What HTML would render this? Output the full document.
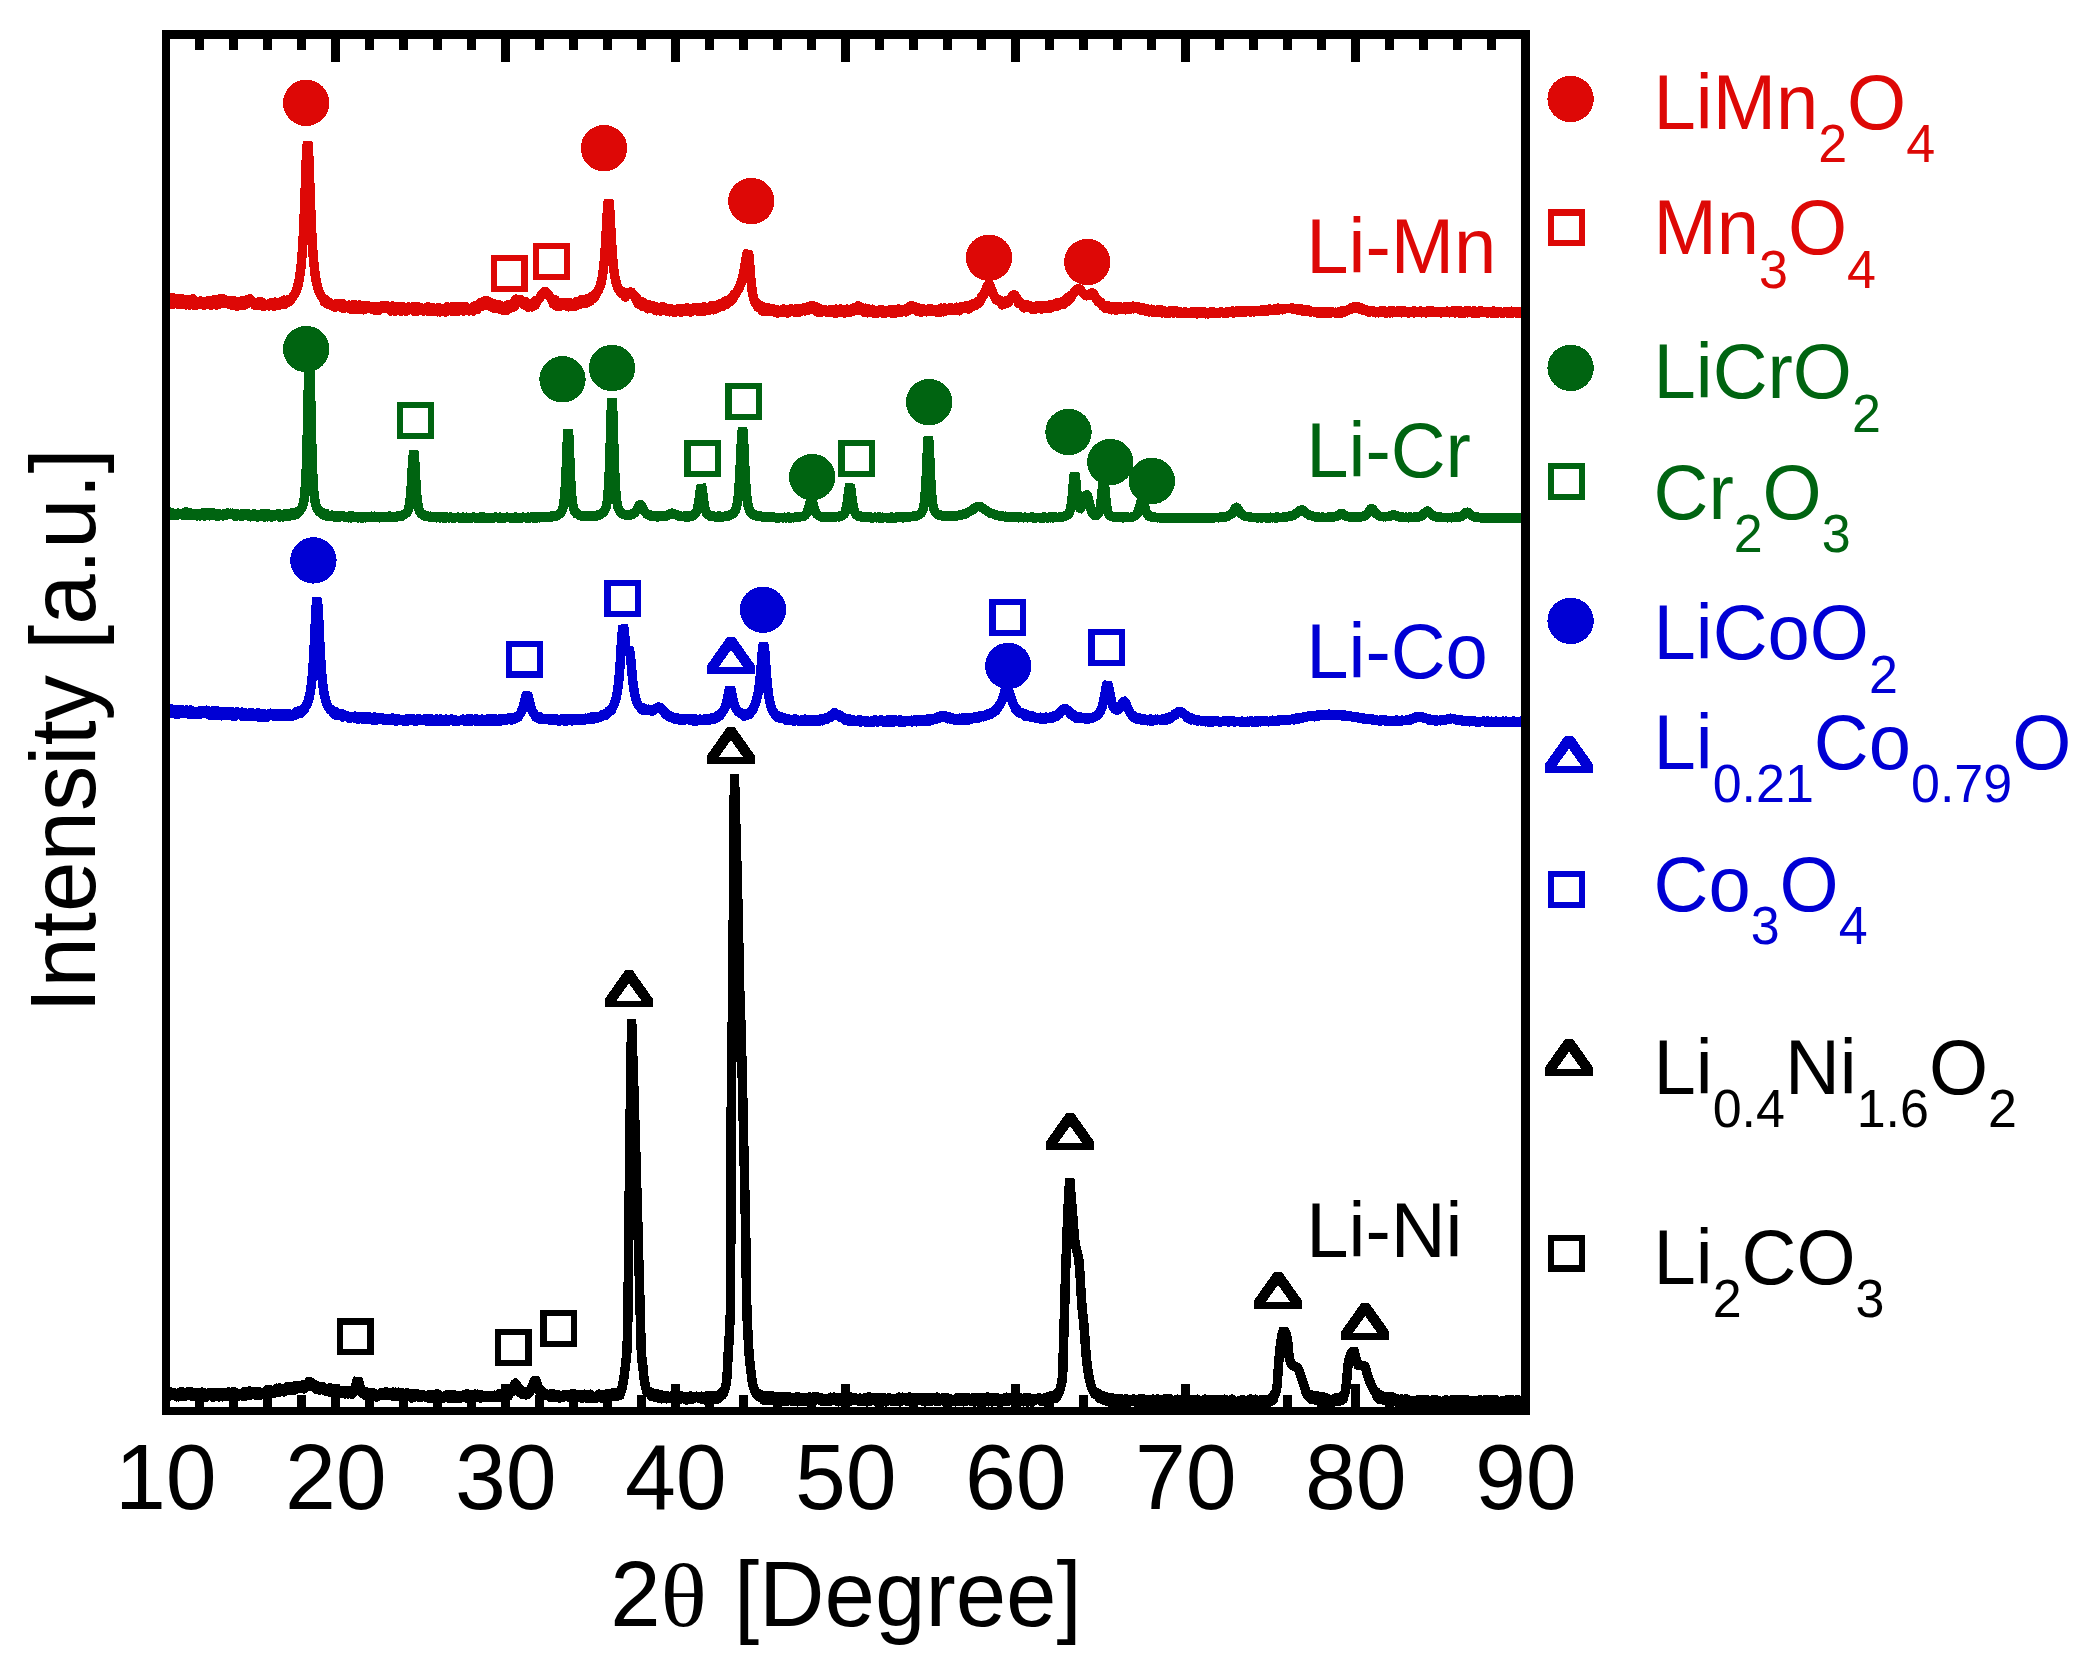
<!DOCTYPE html>
<html lang="en">
<head>
<meta charset="utf-8">
<title>XRD patterns: Li-Mn, Li-Cr, Li-Co, Li-Ni</title>
<style>
html,body{margin:0;padding:0;background:#fff;}
body{width:2097px;height:1675px;overflow:hidden;font-family:'Liberation Sans', Arial, Helvetica, sans-serif;}
svg text{white-space:pre;}
</style>
</head>
<body>
<svg width="2097" height="1675" viewBox="0 0 2097 1675" style="display:block">
<rect width="2097" height="1675" fill="#fff"/>
<g id="curves" shape-rendering="crispEdges">
<path d="M165.5 1394.0L168.3 1394.0L171.1 1394.1L173.9 1394.1L176.7 1394.2L179.5 1394.2L182.3 1394.2L185.1 1394.3L187.9 1394.3L190.7 1394.4L193.5 1394.4L196.3 1394.4L199.1 1394.5L201.9 1394.5L204.7 1394.5L207.5 1394.6L210.3 1394.6L213.1 1394.6L215.9 1394.6L218.7 1394.6L221.5 1394.6L224.3 1394.6L227.1 1394.5L229.9 1394.5L232.7 1394.4L235.5 1394.3L238.3 1394.2L241.1 1394.1L243.9 1394.0L246.7 1393.8L249.5 1393.6L252.3 1393.4L255.1 1393.1L257.9 1392.9L260.7 1392.6L263.5 1392.3L266.3 1391.9L269.1 1391.6L271.9 1391.2L274.7 1390.8L277.5 1390.4L280.3 1390.0L283.1 1389.7L285.9 1389.3L288.7 1388.9L291.5 1388.6L294.3 1388.3L297.1 1388.0L299.9 1387.6L302.7 1387.1L305.5 1386.1L308.3 1384.1L311.1 1384.1L313.9 1386.3L316.7 1387.5L319.5 1388.2L322.3 1388.8L325.1 1389.3L327.9 1389.8L330.7 1390.3L333.5 1390.8L336.3 1391.3L339.1 1391.8L341.9 1392.2L344.7 1392.5L347.5 1392.7L350.3 1392.5L353.1 1391.3L355.2 1387.9L355.9 1385.5L356.6 1382.5L357.3 1379.8L357.8 1379.1L358.7 1381.4L359.4 1384.6L360.1 1387.3L360.8 1389.4L361.5 1390.8L364.3 1393.4L367.1 1394.2L369.9 1394.5L372.7 1394.6L375.5 1394.6L378.3 1394.5L381.1 1394.3L383.9 1394.1L386.7 1393.9L389.5 1393.8L392.3 1393.8L395.1 1393.9L397.9 1394.1L400.7 1394.4L403.5 1394.7L406.3 1395.0L409.1 1395.3L411.9 1395.5L414.7 1395.7L417.5 1395.9L420.3 1396.0L423.1 1396.1L425.9 1396.1L428.7 1396.2L431.5 1396.2L434.3 1396.2L437.1 1396.3L439.9 1396.3L442.7 1396.3L445.5 1396.3L448.3 1396.3L451.1 1396.3L453.9 1396.3L456.7 1396.3L459.5 1396.3L462.3 1396.3L465.1 1396.3L467.9 1396.3L470.7 1396.3L473.5 1396.3L476.3 1396.2L479.1 1396.2L481.9 1396.2L484.7 1396.2L487.5 1396.1L490.3 1396.1L493.1 1396.0L495.9 1395.9L498.7 1395.7L501.5 1395.5L504.3 1395.1L507.1 1394.3L509.9 1392.5L512.7 1388.2L513.4 1386.6L514.1 1385.0L514.8 1383.9L515.4 1383.5L516.2 1384.1L516.9 1385.3L517.6 1386.9L518.3 1388.4L521.1 1392.2L523.9 1393.4L526.7 1393.3L529.5 1391.7L531.6 1388.6L532.3 1386.8L533.0 1384.7L533.7 1382.4L534.4 1380.5L535.2 1379.5L535.8 1380.1L536.5 1381.9L537.2 1384.2L537.9 1386.5L538.6 1388.4L540.7 1392.0L543.5 1394.1L546.3 1395.0L549.1 1395.4L551.9 1395.7L554.7 1395.9L557.5 1396.0L560.3 1396.1L563.1 1396.1L565.9 1396.2L568.7 1396.2L571.5 1396.2L574.3 1396.2L577.1 1396.3L579.9 1396.3L582.7 1396.3L585.5 1396.3L588.3 1396.3L591.1 1396.3L593.9 1396.3L596.7 1396.3L599.5 1396.3L602.3 1396.3L604.4 1396.3L605.8 1395.9L607.1 1395.6L608.5 1395.4L610.0 1395.1L611.4 1395.0L612.8 1394.8L614.1 1394.8L615.5 1394.7L617.0 1394.7L618.4 1394.5L619.8 1393.4L621.1 1390.3L621.5 1389.4L621.9 1388.4L622.2 1387.3L622.5 1385.9L622.9 1384.1L623.2 1382.1L623.6 1379.9L624.0 1377.6L624.3 1375.0L624.6 1372.1L625.0 1369.0L625.4 1366.1L625.7 1363.4L626.0 1360.4L626.4 1356.9L626.8 1352.3L627.1 1345.9L627.5 1335.0L627.8 1320.0L628.1 1296.7L628.5 1260.7L628.9 1226.8L629.2 1197.3L629.5 1168.6L629.9 1140.5L630.2 1113.4L630.6 1087.3L631.0 1062.3L631.3 1038.7L631.6 1019.5L632.0 1031.8L632.4 1042.7L632.7 1053.6L633.0 1064.7L633.4 1075.8L633.8 1087.0L634.1 1098.4L634.5 1109.8L634.8 1121.3L635.1 1132.9L635.5 1144.6L635.9 1156.4L636.2 1168.4L636.5 1180.4L636.9 1192.4L637.2 1204.6L637.6 1216.9L638.0 1229.2L638.3 1241.7L638.6 1254.2L639.0 1266.8L639.4 1279.6L639.7 1292.5L640.0 1305.6L640.4 1319.0L640.8 1334.8L641.1 1347.8L641.5 1353.8L641.8 1358.0L642.1 1361.2L642.5 1364.0L642.9 1366.7L643.2 1370.0L643.5 1373.6L643.9 1377.0L644.2 1379.6L644.6 1381.9L645.0 1384.0L645.3 1385.7L645.6 1387.0L646.0 1388.1L646.4 1389.0L646.7 1389.9L647.8 1392.1L649.1 1393.6L650.5 1394.3L652.0 1394.8L653.4 1395.1L654.8 1395.4L656.1 1395.7L657.5 1396.0L659.0 1396.3L660.4 1396.6L661.8 1396.8L663.1 1397.0L664.5 1397.2L666.0 1397.4L667.4 1397.5L669.5 1397.5L672.3 1397.6L675.1 1397.7L677.9 1397.7L680.7 1397.8L683.5 1397.9L686.3 1397.9L689.1 1398.0L691.9 1398.0L694.7 1398.1L697.5 1398.1L700.3 1398.2L702.4 1398.2L703.8 1398.0L705.1 1397.9L706.5 1397.8L708.0 1397.7L709.4 1397.5L710.8 1397.4L712.1 1397.3L713.5 1397.2L715.0 1397.2L716.4 1397.0L717.8 1396.7L719.1 1396.1L720.5 1395.2L722.0 1394.0L723.4 1392.4L723.7 1391.8L724.0 1391.1L724.4 1390.3L724.8 1389.3L725.1 1388.3L725.5 1387.1L725.8 1385.8L726.1 1384.0L726.5 1381.3L726.9 1377.9L727.2 1373.5L727.5 1366.6L727.9 1359.1L728.2 1352.8L728.6 1347.0L729.0 1341.2L729.3 1334.8L729.6 1327.5L730.0 1321.1L730.4 1312.0L730.7 1275.9L731.0 1138.0L731.4 1090.8L731.8 1059.1L732.1 1033.5L732.5 1004.9L732.8 970.2L733.1 935.3L733.5 898.2L733.9 856.6L734.4 774.0L734.9 792.8L735.2 805.8L735.6 818.7L736.0 831.5L736.3 844.1L736.6 856.3L737.0 868.4L737.4 881.2L737.7 895.2L738.0 911.0L738.4 927.9L738.8 945.2L739.1 962.3L739.5 978.4L739.8 992.8L740.1 1004.8L740.5 1014.5L740.9 1023.6L741.2 1034.0L741.5 1046.5L741.9 1060.3L742.2 1075.3L742.6 1091.0L743.0 1107.2L743.3 1123.5L743.6 1139.7L744.0 1155.4L744.4 1170.6L744.7 1185.9L745.0 1202.1L745.4 1219.7L745.8 1240.3L746.1 1267.6L746.5 1292.6L746.8 1307.2L747.1 1317.4L747.5 1325.4L747.9 1332.7L748.2 1339.3L748.5 1345.3L748.9 1350.7L749.2 1355.4L749.6 1359.5L750.0 1363.1L750.3 1366.3L750.6 1369.3L751.0 1372.1L751.4 1374.8L751.7 1377.4L752.0 1380.1L752.4 1382.7L752.8 1384.8L753.1 1386.1L753.5 1387.2L753.8 1388.2L754.1 1389.1L754.5 1390.0L754.9 1390.8L755.2 1391.5L755.5 1392.1L755.9 1392.7L757.3 1394.3L758.7 1395.4L760.1 1396.3L761.5 1397.0L762.9 1397.5L764.3 1397.9L765.7 1398.1L767.1 1398.2L768.5 1398.3L769.9 1398.4L771.3 1398.5L772.7 1398.5L774.1 1398.6L775.5 1398.6L776.9 1398.7L778.3 1398.8L779.7 1398.8L781.1 1398.9L782.5 1399.0L783.9 1399.0L785.3 1399.1L786.7 1399.2L788.1 1399.2L789.5 1399.3L792.0 1399.3L794.8 1399.3L797.6 1399.3L800.4 1399.3L803.2 1399.3L806.0 1399.3L808.8 1399.3L811.6 1399.3L814.4 1399.4L817.2 1399.4L820.0 1399.4L822.8 1399.4L825.6 1399.4L828.4 1399.4L831.2 1399.4L834.0 1399.4L836.8 1399.4L839.6 1399.4L842.4 1399.4L845.2 1399.4L848.0 1399.4L850.8 1399.4L853.6 1399.4L856.4 1399.4L859.2 1399.4L862.0 1399.4L864.8 1399.4L867.6 1399.4L870.4 1399.4L873.2 1399.4L876.0 1399.4L878.8 1399.4L881.6 1399.4L884.4 1399.4L887.2 1399.4L890.0 1399.5L892.8 1399.5L895.6 1399.5L898.4 1399.5L901.2 1399.5L904.0 1399.5L906.8 1399.5L909.6 1399.5L912.4 1399.5L915.2 1399.5L918.0 1399.5L920.8 1399.5L923.6 1399.5L926.4 1399.5L929.2 1399.5L932.0 1399.5L934.8 1399.5L937.6 1399.5L940.4 1399.5L943.2 1399.5L946.0 1399.5L948.8 1399.5L951.6 1399.5L954.4 1399.5L957.2 1399.5L960.0 1399.5L962.8 1399.5L965.6 1399.5L968.4 1399.5L971.2 1399.5L974.0 1399.5L976.8 1399.5L979.6 1399.5L982.4 1399.5L985.2 1399.5L988.0 1399.6L990.8 1399.6L993.6 1399.6L996.4 1399.6L999.2 1399.6L1002.0 1399.6L1004.8 1399.6L1007.6 1399.6L1010.4 1399.6L1013.2 1399.6L1016.0 1399.6L1018.8 1399.6L1021.6 1399.6L1024.4 1399.6L1027.2 1399.6L1030.0 1399.6L1032.8 1399.6L1035.6 1399.7L1038.4 1399.7L1041.2 1399.7L1042.7 1399.7L1044.1 1399.6L1045.5 1399.4L1046.9 1399.1L1048.3 1398.8L1049.7 1398.4L1051.1 1398.0L1052.5 1397.6L1053.9 1397.1L1055.3 1396.5L1056.7 1395.6L1058.1 1394.4L1058.8 1393.2L1059.2 1392.4L1059.5 1391.4L1059.8 1390.3L1060.2 1389.1L1060.5 1387.8L1060.9 1386.4L1061.2 1385.0L1061.6 1383.3L1062.0 1381.2L1062.3 1378.3L1062.7 1373.9L1063.0 1364.2L1063.3 1351.7L1063.7 1339.8L1064.0 1327.7L1064.4 1315.0L1064.8 1302.0L1065.1 1289.2L1065.5 1277.1L1065.8 1265.9L1066.2 1256.1L1066.5 1246.8L1066.8 1237.7L1067.2 1228.9L1067.5 1220.5L1067.9 1212.4L1068.2 1204.8L1068.6 1197.7L1069.0 1191.0L1069.3 1185.0L1069.7 1178.8L1070.0 1182.6L1070.3 1187.0L1070.7 1191.4L1071.0 1195.7L1071.4 1200.0L1071.8 1204.2L1072.1 1208.4L1072.5 1212.6L1072.8 1216.8L1073.2 1221.3L1073.5 1225.8L1073.8 1230.2L1074.2 1234.4L1074.5 1238.1L1074.9 1241.2L1075.2 1243.5L1075.6 1245.5L1076.0 1247.2L1076.3 1248.7L1076.7 1250.0L1077.0 1251.3L1077.3 1252.6L1077.7 1254.0L1078.0 1255.6L1078.4 1257.6L1078.8 1259.8L1079.1 1262.8L1079.5 1266.9L1079.8 1271.7L1080.2 1277.2L1080.5 1283.0L1080.8 1288.9L1081.2 1294.6L1081.5 1300.0L1081.9 1304.8L1082.2 1308.8L1082.6 1312.5L1083.0 1315.9L1083.3 1319.2L1083.7 1322.7L1084.0 1326.3L1084.3 1330.4L1084.7 1335.2L1085.0 1340.4L1085.4 1345.7L1085.8 1350.7L1086.1 1355.1L1086.5 1358.6L1086.8 1361.8L1087.2 1364.7L1087.5 1367.4L1087.8 1369.9L1088.2 1372.2L1088.5 1374.3L1088.9 1376.3L1089.2 1378.1L1089.6 1379.9L1090.0 1381.5L1090.3 1383.0L1090.7 1384.4L1091.0 1385.5L1091.3 1386.5L1091.7 1387.4L1092.0 1388.3L1092.4 1389.2L1092.8 1389.9L1093.1 1390.7L1093.5 1391.4L1093.8 1392.0L1094.2 1392.5L1094.5 1393.0L1095.9 1394.3L1097.3 1395.2L1098.7 1396.0L1100.1 1396.6L1101.5 1397.1L1102.9 1397.6L1104.3 1398.1L1105.7 1398.6L1107.1 1399.0L1108.5 1399.4L1109.9 1399.7L1111.3 1400.0L1112.7 1400.2L1115.4 1400.3L1118.2 1400.3L1121.0 1400.3L1123.8 1400.4L1126.6 1400.4L1129.4 1400.5L1132.2 1400.5L1135.0 1400.6L1137.8 1400.6L1140.6 1400.7L1143.4 1400.7L1146.2 1400.8L1149.0 1400.8L1151.8 1400.9L1154.6 1400.9L1157.4 1401.0L1160.2 1401.0L1163.0 1401.1L1165.8 1401.1L1168.6 1401.2L1171.4 1401.2L1174.2 1401.3L1177.0 1401.3L1179.8 1401.4L1182.6 1401.4L1185.4 1401.4L1188.2 1401.4L1191.0 1401.5L1193.8 1401.5L1196.6 1401.5L1199.4 1401.5L1202.2 1401.5L1205.0 1401.5L1207.8 1401.5L1210.6 1401.5L1213.4 1401.5L1216.2 1401.5L1219.0 1401.5L1221.8 1401.5L1224.6 1401.5L1227.4 1401.5L1230.2 1401.5L1233.0 1401.5L1235.8 1401.5L1238.6 1401.5L1241.4 1401.6L1244.2 1401.6L1247.0 1401.6L1249.8 1401.6L1252.6 1401.6L1255.4 1401.6L1258.2 1401.6L1260.3 1401.6L1261.8 1401.5L1263.2 1401.5L1264.5 1401.4L1266.0 1401.3L1267.3 1401.1L1268.8 1400.9L1270.2 1400.6L1271.5 1400.0L1273.0 1398.3L1274.3 1395.8L1274.7 1395.1L1275.0 1394.3L1275.4 1393.5L1275.8 1392.4L1276.1 1391.0L1276.5 1389.3L1276.8 1387.3L1277.2 1384.7L1277.5 1380.6L1277.8 1375.6L1278.2 1370.2L1278.5 1365.0L1278.9 1360.3L1279.2 1356.5L1279.6 1352.9L1280.0 1349.4L1280.3 1346.2L1280.7 1343.3L1281.0 1340.9L1281.3 1338.8L1281.7 1336.8L1282.0 1335.0L1282.4 1333.5L1282.8 1332.2L1283.0 1331.5L1283.5 1331.5L1283.8 1331.5L1284.2 1331.5L1284.5 1331.5L1284.8 1331.5L1285.1 1331.5L1285.5 1332.2L1285.9 1333.3L1286.2 1334.6L1286.6 1336.2L1287.0 1338.1L1287.3 1340.0L1287.7 1342.1L1288.0 1344.8L1288.3 1348.7L1288.7 1352.7L1289.0 1356.2L1289.4 1358.1L1289.8 1359.4L1290.1 1360.6L1290.5 1361.6L1290.8 1362.5L1291.2 1363.3L1291.5 1364.0L1291.8 1364.5L1292.2 1365.0L1292.5 1365.3L1292.9 1365.6L1293.2 1365.9L1293.6 1366.1L1294.0 1366.2L1294.3 1366.4L1294.7 1366.5L1295.0 1366.6L1295.3 1366.7L1295.7 1366.9L1296.0 1367.0L1296.4 1367.2L1296.8 1367.4L1297.1 1367.6L1297.5 1367.9L1297.8 1368.2L1298.2 1368.8L1298.5 1369.5L1298.8 1370.3L1299.2 1371.3L1299.5 1372.3L1299.9 1373.4L1300.2 1374.4L1300.6 1375.4L1301.0 1376.4L1301.3 1377.4L1301.7 1378.4L1302.0 1379.4L1302.3 1380.4L1302.7 1381.5L1303.0 1382.6L1303.4 1383.6L1303.8 1384.7L1304.1 1385.8L1304.5 1386.8L1304.8 1387.9L1305.2 1389.0L1305.5 1390.3L1305.8 1391.6L1306.2 1392.8L1306.5 1393.8L1306.9 1394.5L1307.2 1394.9L1308.0 1395.5L1309.3 1396.4L1310.8 1397.0L1312.2 1397.4L1313.5 1397.7L1315.0 1398.0L1316.3 1398.2L1317.8 1398.4L1319.2 1398.6L1320.5 1398.9L1322.0 1399.1L1323.3 1399.4L1324.8 1399.7L1326.2 1400.0L1327.5 1400.4L1329.0 1400.9L1330.3 1401.4L1332.2 1401.3L1333.6 1400.6L1335.0 1400.0L1336.4 1399.5L1337.8 1399.2L1339.2 1398.9L1340.6 1398.6L1342.0 1398.1L1343.4 1396.6L1344.1 1395.2L1344.5 1394.4L1344.8 1393.4L1345.2 1392.3L1345.5 1390.5L1345.8 1388.2L1346.2 1385.4L1346.5 1382.5L1346.9 1379.0L1347.2 1374.3L1347.6 1369.6L1348.0 1365.6L1348.3 1363.3L1348.7 1361.7L1349.0 1360.1L1349.3 1358.7L1349.7 1357.3L1350.0 1356.1L1350.4 1355.1L1350.8 1354.1L1351.1 1353.3L1351.5 1352.7L1351.8 1352.2L1352.2 1351.9L1352.6 1351.7L1352.8 1351.7L1353.2 1351.7L1353.5 1351.7L1353.9 1351.7L1354.2 1351.7L1354.6 1353.3L1355.0 1354.6L1355.3 1355.9L1355.7 1357.1L1356.0 1358.3L1356.3 1359.5L1356.7 1360.7L1357.0 1362.0L1357.4 1363.3L1357.8 1364.4L1358.1 1365.1L1358.5 1365.3L1358.8 1365.4L1359.2 1365.5L1359.5 1365.6L1359.8 1365.6L1360.2 1365.6L1360.5 1365.7L1360.9 1365.7L1361.2 1365.7L1361.6 1365.7L1362.0 1365.7L1362.3 1365.8L1362.7 1365.8L1363.0 1365.8L1363.3 1365.9L1363.7 1365.9L1364.0 1366.0L1364.4 1366.0L1364.8 1366.2L1365.1 1366.6L1365.5 1367.4L1365.8 1368.5L1366.2 1369.7L1366.5 1371.1L1366.8 1372.5L1367.2 1373.9L1367.5 1375.3L1367.9 1376.4L1368.2 1377.4L1368.6 1378.4L1369.0 1379.3L1369.3 1380.2L1369.7 1381.1L1370.0 1382.0L1370.3 1382.8L1370.7 1383.6L1371.0 1384.4L1371.4 1385.1L1371.8 1385.9L1372.1 1386.6L1372.5 1387.4L1372.8 1388.1L1373.2 1388.8L1373.5 1389.4L1373.8 1390.1L1374.2 1390.7L1374.5 1391.3L1374.9 1391.9L1375.2 1392.5L1375.6 1393.0L1376.0 1393.4L1377.0 1394.8L1378.4 1396.4L1379.8 1397.3L1381.2 1397.7L1382.6 1398.0L1384.0 1398.2L1385.4 1398.4L1386.8 1398.5L1388.2 1398.8L1389.6 1399.0L1391.0 1399.2L1392.4 1399.5L1393.8 1399.7L1395.2 1399.9L1396.6 1400.1L1398.0 1400.3L1399.4 1400.5L1400.8 1400.7L1402.2 1400.9L1403.6 1401.0L1405.0 1401.2L1406.4 1401.3L1407.8 1401.5L1409.2 1401.6L1410.8 1401.7L1413.6 1401.7L1416.4 1401.7L1419.2 1401.7L1422.0 1401.7L1424.8 1401.7L1427.6 1401.7L1430.4 1401.7L1433.2 1401.7L1436.0 1401.7L1438.8 1401.7L1441.6 1401.7L1444.4 1401.7L1447.2 1401.7L1450.0 1401.7L1452.8 1401.7L1455.6 1401.7L1458.4 1401.7L1461.2 1401.7L1464.0 1401.7L1466.8 1401.7L1469.6 1401.7L1472.4 1401.7L1475.2 1401.7L1478.0 1401.7L1480.8 1401.7L1483.6 1401.7L1486.4 1401.7L1489.2 1401.7L1492.0 1401.7L1494.8 1401.7L1497.6 1401.7L1500.4 1401.7L1503.2 1401.7L1506.0 1401.7L1508.8 1401.7L1511.6 1401.7L1514.4 1401.7L1517.2 1401.7L1520.0 1401.7L1522.8 1401.7L1524.9 1401.7" fill="none" stroke="#000000" stroke-width="5" stroke-linejoin="bevel" stroke-linecap="butt"/>
<path d="M165.5 1394.7L166.2 1396.1L166.9 1395.5L167.6 1392.5L168.3 1393.0L169.0 1396.1L169.7 1391.4L170.4 1395.8L171.1 1395.7L171.8 1393.9L172.5 1393.0L173.2 1392.9L173.9 1392.8L174.6 1393.8L175.3 1394.2L176.0 1394.4L176.7 1396.8L177.4 1395.7L178.1 1394.8L178.8 1396.8L179.5 1392.7L180.2 1392.4L180.9 1394.8L181.6 1391.8L182.3 1391.8L183.0 1394.3L183.7 1394.1L184.4 1396.5L185.1 1395.0L185.8 1394.4L186.5 1394.3L187.2 1393.0L187.9 1391.7L188.6 1392.7L189.3 1395.4L190.0 1392.8L190.7 1393.7L191.4 1391.7L192.1 1396.2L192.8 1392.6L193.5 1393.2L194.2 1396.4L194.9 1394.5L195.6 1396.3L196.3 1395.2L197.0 1395.7L197.7 1392.3L198.4 1394.7L199.1 1394.5L199.8 1396.5L200.5 1393.8L201.2 1395.0L201.9 1392.2L202.6 1393.9L203.3 1393.6L204.0 1392.7L204.7 1396.2L205.4 1393.9L206.1 1397.1L206.8 1395.0L207.5 1395.1L208.2 1395.3L208.9 1395.5L209.6 1392.7L210.3 1394.3L211.0 1393.2L211.7 1394.1L212.4 1392.4L213.1 1397.1L213.8 1393.1L214.5 1395.5L215.2 1393.5L215.9 1396.6L216.6 1395.5L217.3 1392.6L218.0 1396.4L218.7 1396.9L219.4 1396.7L220.1 1395.0L220.8 1392.7L221.5 1393.0L222.2 1396.8L222.9 1394.9L223.6 1392.9L224.3 1396.6L225.0 1395.3L225.7 1394.9L226.4 1393.9L227.1 1394.1L227.8 1393.1L228.5 1392.1L229.2 1396.5L229.9 1394.3L230.6 1394.7L231.3 1393.5L232.0 1395.8L232.7 1391.9L233.4 1393.7L234.1 1391.9L234.8 1392.4L235.5 1396.8L236.2 1395.1L236.9 1393.9L237.6 1394.4L238.3 1396.2L239.0 1393.4L239.7 1394.7L240.4 1395.1L241.1 1393.4L241.8 1394.2L242.5 1395.4L243.2 1396.1L243.9 1392.1L244.6 1396.2L245.3 1391.3L246.0 1395.2L246.7 1395.4L247.4 1391.9L248.1 1393.3L248.8 1395.3L249.5 1391.1L250.2 1394.2L250.9 1395.0L251.6 1393.5L252.3 1394.6L253.0 1391.9L253.7 1391.7L254.4 1392.5L255.1 1391.5L255.8 1392.3L256.5 1395.3L257.2 1393.3L257.9 1392.0L258.6 1391.6L259.3 1395.1L260.0 1392.4L260.7 1395.1L261.4 1392.6L262.1 1392.5L262.8 1394.4L263.5 1393.5L264.2 1392.6L264.9 1391.7L265.6 1394.0L266.3 1391.5L267.0 1394.0L267.7 1389.5L268.4 1391.3L269.1 1391.7L269.8 1393.8L270.5 1390.1L271.2 1392.9L271.9 1392.1L272.6 1392.2L273.3 1391.7L274.0 1393.3L274.7 1389.9L275.4 1390.2L276.1 1389.1L276.8 1388.2L277.5 1388.9L278.2 1392.5L278.9 1392.0L279.6 1388.1L280.3 1390.6L281.0 1389.8L281.7 1390.3L282.4 1390.6L283.1 1388.7L283.8 1391.9L284.5 1389.3L285.2 1390.0L285.9 1390.0L286.6 1387.6L287.3 1386.9L288.0 1388.6L288.7 1390.3L289.4 1390.5L290.1 1390.0L290.8 1386.7L291.5 1390.7L292.2 1390.1L292.9 1390.4L293.6 1388.5L294.3 1390.4L295.0 1385.9L295.7 1385.7L296.4 1385.6L297.1 1386.7L297.8 1386.6L298.5 1386.2L299.2 1388.1L299.9 1385.3L300.6 1388.0L301.3 1385.7L302.0 1388.2L302.7 1384.7L303.4 1386.0L304.1 1389.0L304.8 1386.6L305.5 1387.7L306.2 1386.5L306.9 1385.8L307.6 1383.1L308.3 1384.4L309.0 1381.3L309.7 1385.0L310.4 1386.0L311.1 1385.9L311.8 1382.4L312.5 1384.5L313.2 1384.9L313.9 1384.3L314.6 1387.3L315.3 1388.5L316.0 1386.3L316.7 1389.3L317.4 1389.2L318.1 1386.0L318.8 1389.4L319.5 1390.1L320.2 1386.8L320.9 1388.9L321.6 1389.3L322.3 1389.3L323.0 1386.8L323.7 1389.8L324.4 1389.8L325.1 1390.9L325.8 1391.0L326.5 1388.7L327.2 1390.8L327.9 1391.7L328.6 1391.9L329.3 1388.4L330.0 1387.8L330.7 1391.1L331.4 1389.0L332.1 1390.9L332.8 1393.0L333.5 1390.2L334.2 1389.7L334.9 1390.9L335.6 1392.0L336.3 1389.3L337.0 1390.9L337.7 1389.7L338.4 1392.5L339.1 1393.5L339.8 1391.3L340.5 1391.4L341.2 1392.3L341.9 1390.8L342.6 1391.0L343.3 1391.5L344.0 1392.3L344.7 1390.4L345.4 1393.9L346.1 1393.0L346.8 1391.7L347.5 1390.6L348.2 1394.0L348.9 1390.8L349.6 1390.8L350.3 1390.7L351.0 1390.3L351.7 1394.2L352.4 1390.7L353.1 1390.4L353.8 1392.2L354.5 1390.1L355.2 1386.3M360.8 1389.0L361.5 1392.7L362.2 1391.2L362.9 1393.5L363.6 1391.0L364.3 1394.5L365.0 1395.0L365.7 1395.5L366.4 1394.9L367.1 1393.6L367.8 1392.2L368.5 1394.5L369.2 1395.8L369.9 1393.0L370.6 1393.4L371.3 1394.8L372.0 1395.9L372.7 1396.6L373.4 1392.8L374.1 1393.1L374.8 1396.1L375.5 1395.3L376.2 1395.7L376.9 1397.0L377.6 1396.7L378.3 1396.2L379.0 1395.8L379.7 1393.9L380.4 1395.0L381.1 1392.7L381.8 1395.5L382.5 1395.5L383.2 1395.2L383.9 1393.8L384.6 1393.4L385.3 1393.6L386.0 1391.7L386.7 1395.6L387.4 1394.1L388.1 1393.3L388.8 1394.1L389.5 1394.9L390.2 1393.2L390.9 1395.4L391.6 1395.9L392.3 1393.3L393.0 1392.1L393.7 1395.1L394.4 1396.3L395.1 1392.2L395.8 1395.0L396.5 1395.6L397.2 1396.1L397.9 1392.3L398.6 1392.2L399.3 1396.6L400.0 1392.4L400.7 1392.8L401.4 1394.8L402.1 1394.3L402.8 1395.9L403.5 1393.2L404.2 1396.8L404.9 1393.5L405.6 1396.3L406.3 1392.9L407.0 1395.0L407.7 1392.9L408.4 1394.3L409.1 1394.4L409.8 1396.4L410.5 1395.2L411.2 1393.3L411.9 1398.0L412.6 1397.5L413.3 1397.7L414.0 1394.5L414.7 1395.2L415.4 1394.5L416.1 1394.0L416.8 1393.6L417.5 1395.9L418.2 1394.1L418.9 1394.4L419.6 1397.7L420.3 1395.9L421.0 1394.5L421.7 1396.9L422.4 1394.9L423.1 1396.2L423.8 1395.0L424.5 1396.2L425.2 1396.8L425.9 1396.3L426.6 1395.6L427.3 1397.6L428.0 1398.0L428.7 1394.6L429.4 1394.4L430.1 1394.3L430.8 1398.5L431.5 1398.4L432.2 1394.9L432.9 1398.5L433.6 1394.8L434.3 1396.3L435.0 1396.2L435.7 1398.3L436.4 1394.0L437.1 1395.4L437.8 1396.8L438.5 1394.2L439.2 1395.0L439.9 1396.1L440.6 1398.1L441.3 1397.5L442.0 1397.9L442.7 1397.6L443.4 1397.3L444.1 1398.0L444.8 1397.2L445.5 1397.4L446.2 1395.4L446.9 1394.7L447.6 1397.5L448.3 1394.7L449.0 1398.3L449.7 1396.8L450.4 1395.5L451.1 1398.4L451.8 1394.7L452.5 1396.4L453.2 1394.4L453.9 1398.6L454.6 1396.7L455.3 1397.8L456.0 1395.3L456.7 1397.8L457.4 1397.3L458.1 1397.0L458.8 1398.5L459.5 1396.0L460.2 1395.9L460.9 1397.2L461.6 1397.9L462.3 1395.5L463.0 1397.1L463.7 1394.9L464.4 1396.5L465.1 1397.6L465.8 1394.2L466.5 1397.4L467.2 1394.0L467.9 1398.5L468.6 1396.1L469.3 1395.8L470.0 1397.3L470.7 1396.4L471.4 1397.4L472.1 1394.3L472.8 1396.6L473.5 1396.5L474.2 1398.3L474.9 1394.1L475.6 1396.0L476.3 1396.9L477.0 1396.5L477.7 1394.2L478.4 1396.7L479.1 1394.9L479.8 1394.8L480.5 1398.0L481.2 1394.8L481.9 1396.0L482.6 1397.4L483.3 1397.2L484.0 1396.4L484.7 1397.6L485.4 1396.0L486.1 1396.7L486.8 1397.6L487.5 1397.0L488.2 1396.8L488.9 1395.7L489.6 1396.4L490.3 1395.6L491.0 1397.2L491.7 1395.5L492.4 1395.9L493.1 1397.2L493.8 1396.0L494.5 1395.2L495.2 1397.5L495.9 1395.3L496.6 1397.5L497.3 1397.2L498.0 1395.5L498.7 1396.7L499.4 1393.5L500.1 1395.1L500.8 1397.3L501.5 1395.9L502.2 1395.7L502.9 1396.1L503.6 1396.1L504.3 1395.5L505.0 1394.6L505.7 1393.3L506.4 1393.6L507.1 1393.3L507.8 1393.7L508.5 1396.0L509.2 1392.4L509.9 1392.3L510.6 1391.2L511.3 1391.2L512.0 1391.8L512.7 1390.1M518.3 1387.8L519.0 1388.6L519.7 1392.5L520.4 1391.5L521.1 1393.0L521.8 1390.6L522.5 1394.7L523.2 1392.3L523.9 1393.3L524.6 1392.0L525.3 1393.1L526.0 1394.9L526.7 1394.8L527.4 1392.9L528.1 1394.0L528.8 1392.1L529.5 1391.1L530.2 1391.2L530.9 1388.5L531.6 1387.7M538.6 1389.3L539.3 1391.1L540.0 1389.0L540.7 1393.1L541.4 1394.2L542.1 1393.0L542.8 1391.7L543.5 1394.9L544.2 1393.2L544.9 1395.3L545.6 1394.2L546.3 1395.6L547.0 1394.0L547.7 1395.1L548.4 1395.5L549.1 1396.0L549.8 1394.1L550.5 1397.7L551.2 1394.7L551.9 1394.8L552.6 1394.6L553.3 1393.8L554.0 1395.5L554.7 1397.1L555.4 1396.9L556.1 1394.5L556.8 1394.3L557.5 1395.2L558.2 1397.2L558.9 1396.0L559.6 1398.0L560.3 1396.8L561.0 1396.6L561.7 1397.3L562.4 1397.3L563.1 1395.4L563.8 1395.0L564.5 1395.9L565.2 1396.1L565.9 1394.5L566.6 1395.9L567.3 1396.8L568.0 1394.5L568.7 1394.5L569.4 1394.7L570.1 1395.2L570.8 1398.3L571.5 1394.0L572.2 1394.8L572.9 1394.7L573.6 1396.1L574.3 1394.0L575.0 1396.1L575.7 1394.7L576.4 1395.2L577.1 1397.6L577.8 1394.8L578.5 1396.8L579.2 1395.8L579.9 1395.9L580.6 1397.7L581.3 1394.7L582.0 1398.2L582.7 1398.1L583.4 1397.1L584.1 1394.2L584.8 1397.0L585.5 1396.8L586.2 1397.5L586.9 1395.0L587.6 1398.4L588.3 1398.1L589.0 1394.5L589.7 1395.5L590.4 1394.2L591.1 1397.8L591.8 1398.2L592.5 1398.6L593.2 1396.8L593.9 1397.1L594.6 1397.1L595.3 1396.6L596.0 1398.4L596.7 1396.8L597.4 1395.6L598.1 1396.4L598.8 1394.1L599.5 1397.4L600.2 1397.2L600.9 1396.0L601.6 1397.9L602.3 1397.5L603.0 1395.6L603.7 1394.4L604.0 1394.7L604.4 1394.8L604.7 1395.3L605.0 1395.9L605.4 1398.0L605.8 1394.9L606.1 1397.7L606.5 1396.6L606.8 1397.3L607.1 1395.2L607.5 1393.3L607.9 1396.8L608.2 1394.3L608.5 1393.7L608.9 1396.7L609.2 1396.1L609.6 1393.9L610.0 1394.1L610.3 1397.1L610.6 1394.0L611.0 1395.9L611.4 1393.3L611.7 1396.4L612.0 1393.2L612.4 1394.9L612.8 1392.7L613.1 1395.1L613.5 1396.4L613.8 1392.9L614.1 1393.8L614.5 1396.0L614.9 1395.2L615.2 1393.9L615.5 1395.3L615.9 1394.5L616.2 1396.3L616.6 1393.7L617.0 1395.8L617.3 1395.2L617.6 1395.7L618.0 1394.0L618.4 1395.5L618.7 1395.3L619.0 1393.7L619.4 1391.7L619.8 1395.5L620.1 1393.7L620.5 1390.7L620.8 1392.3L621.1 1389.3M646.7 1389.8L647.0 1392.3L647.4 1391.2L647.8 1391.1L648.1 1391.7L648.5 1391.1L648.8 1392.1L649.1 1392.6L649.5 1392.3L649.9 1392.0L650.2 1394.0L650.5 1393.0L650.9 1395.5L651.2 1396.4L651.6 1393.6L652.0 1395.1L652.3 1394.9L652.6 1393.1L653.0 1393.4L653.4 1396.9L653.7 1395.1L654.0 1396.7L654.4 1393.4L654.8 1395.9L655.1 1397.2L655.5 1397.2L655.8 1393.5L656.1 1395.8L656.5 1395.2L656.9 1397.0L657.2 1394.0L657.5 1395.0L657.9 1397.5L658.2 1396.0L658.6 1396.0L659.0 1398.4L659.3 1395.6L659.6 1394.4L660.0 1396.0L660.4 1395.0L660.7 1394.8L661.0 1397.0L661.4 1398.8L661.8 1397.2L662.1 1397.5L662.5 1396.1L662.8 1397.3L663.1 1398.1L663.5 1397.5L663.9 1398.5L664.2 1397.4L664.5 1395.9L664.9 1397.6L665.2 1397.2L665.6 1395.8L666.0 1397.9L666.3 1398.8L666.6 1395.8L667.0 1397.6L667.4 1398.5L667.7 1397.0L668.1 1396.5L668.8 1396.9L669.5 1397.7L670.2 1398.4L670.9 1397.8L671.6 1395.8L672.3 1399.0L673.0 1399.5L673.7 1395.9L674.4 1396.5L675.1 1396.2L675.8 1399.2L676.5 1399.5L677.2 1395.7L677.9 1397.0L678.6 1396.4L679.3 1397.6L680.0 1399.6L680.7 1395.9L681.4 1396.4L682.1 1397.8L682.8 1397.9L683.5 1398.9L684.2 1397.6L684.9 1396.3L685.6 1397.3L686.3 1400.0L687.0 1399.0L687.7 1396.3L688.4 1399.3L689.1 1397.1L689.8 1399.2L690.5 1395.9L691.2 1399.7L691.9 1396.5L692.6 1397.9L693.3 1398.8L694.0 1398.1L694.7 1396.6L695.4 1396.5L696.1 1397.2L696.8 1396.2L697.5 1396.9L698.2 1396.5L698.9 1398.0L699.6 1397.5L700.3 1398.6L701.0 1397.2L701.7 1396.2L702.0 1397.5L702.4 1399.3L702.7 1397.1L703.0 1397.7L703.4 1399.2L703.8 1397.6L704.1 1399.7L704.5 1399.8L704.8 1397.1L705.1 1399.0L705.5 1396.8L705.9 1396.2L706.2 1397.5L706.5 1398.2L706.9 1399.7L707.2 1396.1L707.6 1398.6L708.0 1397.5L708.3 1396.0L708.6 1399.7L709.0 1398.4L709.4 1395.9L709.7 1399.3L710.0 1395.7L710.4 1395.6L710.8 1396.7L711.1 1399.4L711.5 1395.3L711.8 1399.2L712.1 1397.8L712.5 1395.4L712.9 1397.6L713.2 1397.1L713.5 1397.5L713.9 1398.3L714.2 1398.0L714.6 1399.4L715.0 1395.6L715.3 1398.5L715.6 1396.7L716.0 1398.3L716.4 1398.8L716.7 1399.2L717.0 1395.8L717.4 1396.6L717.8 1398.7L718.1 1398.6L718.5 1395.9L718.8 1398.3L719.1 1395.7L719.5 1395.3L719.9 1396.8L720.2 1395.3L720.5 1395.0L720.9 1394.4L721.2 1394.3L721.6 1392.7L722.0 1392.0L722.3 1394.9L722.6 1393.6L723.0 1393.7L723.4 1393.8L723.7 1390.6M755.5 1390.8L755.9 1391.6L756.2 1392.2L756.6 1394.9L757.0 1393.4L757.3 1393.5L757.6 1395.3L758.0 1393.4L758.4 1393.2L758.7 1396.3L759.0 1396.9L759.4 1394.9L759.8 1396.7L760.1 1394.0L760.5 1396.0L760.8 1397.0L761.1 1395.6L761.5 1396.3L761.9 1397.7L762.2 1397.7L762.5 1395.7L762.9 1398.6L763.2 1395.6L763.6 1400.0L764.0 1396.4L764.3 1396.7L764.6 1396.5L765.0 1400.4L765.4 1397.0L765.7 1398.6L766.0 1400.5L766.4 1400.3L766.8 1395.9L767.1 1398.3L767.5 1398.7L767.8 1399.3L768.1 1397.5L768.5 1397.5L768.9 1395.9L769.2 1396.1L769.5 1398.6L769.9 1396.3L770.2 1396.9L770.6 1397.6L771.0 1396.3L771.3 1396.2L771.6 1400.6L772.0 1398.2L772.4 1397.1L772.7 1399.6L773.0 1396.1L773.4 1397.3L773.8 1400.9L774.1 1400.6L774.5 1399.3L774.8 1396.6L775.1 1397.7L775.5 1396.3L775.9 1397.3L776.2 1396.3L776.5 1396.8L776.9 1399.4L777.2 1396.7L777.6 1397.0L778.0 1400.8L778.3 1398.0L778.6 1398.0L779.0 1396.7L779.4 1400.3L779.7 1399.7L780.0 1399.1L780.4 1399.5L780.8 1396.9L781.1 1397.7L781.5 1399.3L781.8 1401.2L782.1 1400.5L782.5 1399.7L782.9 1399.1L783.2 1396.6L783.5 1401.0L783.9 1396.9L784.2 1397.2L784.6 1400.0L785.0 1400.6L785.3 1400.5L785.6 1398.9L786.0 1397.5L786.4 1396.8L786.7 1400.9L787.0 1401.6L787.4 1397.9L787.8 1401.0L788.1 1398.7L788.5 1398.3L788.8 1399.3L789.1 1396.8L789.5 1399.0L789.9 1397.8L790.6 1400.4L791.3 1399.3L792.0 1401.1L792.7 1401.3L793.4 1398.4L794.1 1398.2L794.8 1401.5L795.5 1399.3L796.2 1397.3L796.9 1397.0L797.6 1401.8L798.3 1399.7L799.0 1397.1L799.7 1399.4L800.4 1399.3L801.1 1399.0L801.8 1401.6L802.5 1401.6L803.2 1397.5L803.9 1397.6L804.6 1398.9L805.3 1401.0L806.0 1400.0L806.7 1400.5L807.4 1399.7L808.1 1397.9L808.8 1400.9L809.5 1396.9L810.2 1400.3L810.9 1397.8L811.6 1399.2L812.3 1401.7L813.0 1399.5L813.7 1397.1L814.4 1399.0L815.1 1400.2L815.8 1397.1L816.5 1398.1L817.2 1397.0L817.9 1399.6L818.6 1398.8L819.3 1399.4L820.0 1398.3L820.7 1400.1L821.4 1397.7L822.1 1401.4L822.8 1401.7L823.5 1399.3L824.2 1399.2L824.9 1401.2L825.6 1398.3L826.3 1400.9L827.0 1398.3L827.7 1400.5L828.4 1398.5L829.1 1399.9L829.8 1401.5L830.5 1397.2L831.2 1400.9L831.9 1399.6L832.6 1398.8L833.3 1398.6L834.0 1397.2L834.7 1398.2L835.4 1400.0L836.1 1397.4L836.8 1400.2L837.5 1401.7L838.2 1401.8L838.9 1401.3L839.6 1400.9L840.3 1397.8L841.0 1401.7L841.7 1397.9L842.4 1401.2L843.1 1401.3L843.8 1400.0L844.5 1399.5L845.2 1397.9L845.9 1399.5L846.6 1398.4L847.3 1397.5L848.0 1397.6L848.7 1400.9L849.4 1401.5L850.1 1397.6L850.8 1397.0L851.5 1398.2L852.2 1397.6L852.9 1397.9L853.6 1399.8L854.3 1399.0L855.0 1399.1L855.7 1398.0L856.4 1400.2L857.1 1398.4L857.8 1398.9L858.5 1399.2L859.2 1401.4L859.9 1398.2L860.6 1400.5L861.3 1398.5L862.0 1401.4L862.7 1398.9L863.4 1399.5L864.1 1401.3L864.8 1400.3L865.5 1397.4L866.2 1397.6L866.9 1401.9L867.6 1397.1L868.3 1398.4L869.0 1401.7L869.7 1397.0L870.4 1397.7L871.1 1398.0L871.8 1397.4L872.5 1399.3L873.2 1399.9L873.9 1398.5L874.6 1397.5L875.3 1401.0L876.0 1401.0L876.7 1399.7L877.4 1397.6L878.1 1399.6L878.8 1400.1L879.5 1399.1L880.2 1401.3L880.9 1398.9L881.6 1399.5L882.3 1397.5L883.0 1399.8L883.7 1400.8L884.4 1400.6L885.1 1398.2L885.8 1401.9L886.5 1400.5L887.2 1399.1L887.9 1399.0L888.6 1400.8L889.3 1397.8L890.0 1400.1L890.7 1400.5L891.4 1399.5L892.1 1401.3L892.8 1399.3L893.5 1399.3L894.2 1398.4L894.9 1401.5L895.6 1398.5L896.3 1400.4L897.0 1399.0L897.7 1401.6L898.4 1401.7L899.1 1397.1L899.8 1401.9L900.5 1400.0L901.2 1397.3L901.9 1399.4L902.6 1397.2L903.3 1399.7L904.0 1397.9L904.7 1398.8L905.4 1398.5L906.1 1400.0L906.8 1401.1L907.5 1401.6L908.2 1398.6L908.9 1399.8L909.6 1397.0L910.3 1398.8L911.0 1401.8L911.7 1397.6L912.4 1401.3L913.1 1400.2L913.8 1398.4L914.5 1400.9L915.2 1398.4L915.9 1401.4L916.6 1397.4L917.3 1397.6L918.0 1400.7L918.7 1399.2L919.4 1397.7L920.1 1399.5L920.8 1398.5L921.5 1399.7L922.2 1400.7L922.9 1401.2L923.6 1397.3L924.3 1399.9L925.0 1401.9L925.7 1399.3L926.4 1400.8L927.1 1397.5L927.8 1401.3L928.5 1399.9L929.2 1401.4L929.9 1400.9L930.6 1401.3L931.3 1397.3L932.0 1400.6L932.7 1398.0L933.4 1398.3L934.1 1398.6L934.8 1399.9L935.5 1400.1L936.2 1401.6L936.9 1397.1L937.6 1398.0L938.3 1398.8L939.0 1401.1L939.7 1399.7L940.4 1399.6L941.1 1400.8L941.8 1400.3L942.5 1398.5L943.2 1397.5L943.9 1399.3L944.6 1401.4L945.3 1400.0L946.0 1397.3L946.7 1399.2L947.4 1398.9L948.1 1399.9L948.8 1399.9L949.5 1401.7L950.2 1398.7L950.9 1399.0L951.6 1400.1L952.3 1401.4L953.0 1400.5L953.7 1399.4L954.4 1401.1L955.1 1399.4L955.8 1401.8L956.5 1398.4L957.2 1397.7L957.9 1401.1L958.6 1398.5L959.3 1401.2L960.0 1400.1L960.7 1399.6L961.4 1397.5L962.1 1400.9L962.8 1397.4L963.5 1401.8L964.2 1401.4L964.9 1398.5L965.6 1397.7L966.3 1401.4L967.0 1399.4L967.7 1397.7L968.4 1399.5L969.1 1398.3L969.8 1399.1L970.5 1400.2L971.2 1401.6L971.9 1401.0L972.6 1397.9L973.3 1399.4L974.0 1399.5L974.7 1402.0L975.4 1397.5L976.1 1399.6L976.8 1401.6L977.5 1399.0L978.2 1398.4L978.9 1399.8L979.6 1398.6L980.3 1401.7L981.0 1397.5L981.7 1398.1L982.4 1397.5L983.1 1400.6L983.8 1398.5L984.5 1401.5L985.2 1401.5L985.9 1401.7L986.6 1398.3L987.3 1397.1L988.0 1399.0L988.7 1401.8L989.4 1400.9L990.1 1397.4L990.8 1400.6L991.5 1401.6L992.2 1401.9L992.9 1400.6L993.6 1401.4L994.3 1401.3L995.0 1398.9L995.7 1397.6L996.4 1400.7L997.1 1397.8L997.8 1399.0L998.5 1402.0L999.2 1399.9L999.9 1399.7L1000.6 1401.8L1001.3 1398.5L1002.0 1402.0L1002.7 1401.6L1003.4 1398.9L1004.1 1398.7L1004.8 1397.7L1005.5 1401.6L1006.2 1398.0L1006.9 1397.2L1007.6 1401.5L1008.3 1400.1L1009.0 1400.4L1009.7 1400.7L1010.4 1397.3L1011.1 1397.6L1011.8 1399.6L1012.5 1397.4L1013.2 1399.6L1013.9 1400.8L1014.6 1400.4L1015.3 1400.2L1016.0 1397.4L1016.7 1398.3L1017.4 1401.6L1018.1 1397.7L1018.8 1399.8L1019.5 1397.4L1020.2 1401.8L1020.9 1398.0L1021.6 1399.2L1022.3 1399.8L1023.0 1400.7L1023.7 1401.8L1024.4 1400.8L1025.1 1398.9L1025.8 1397.5L1026.5 1400.7L1027.2 1402.0L1027.9 1397.3L1028.6 1401.0L1029.3 1398.0L1030.0 1399.4L1030.7 1399.8L1031.4 1400.2L1032.1 1402.1L1032.8 1400.6L1033.5 1399.1L1034.2 1400.7L1034.9 1399.5L1035.6 1399.2L1036.3 1399.0L1037.0 1399.6L1037.7 1398.6L1038.4 1398.4L1039.1 1397.9L1039.8 1399.4L1040.5 1398.6L1041.2 1401.3L1041.9 1401.4L1042.0 1398.9L1042.3 1400.3L1042.7 1401.6L1043.0 1398.9L1043.4 1399.9L1043.8 1399.3L1044.1 1400.3L1044.5 1401.8L1044.8 1397.7L1045.2 1401.7L1045.5 1400.2L1045.8 1400.8L1046.2 1399.9L1046.5 1401.0L1046.9 1398.2L1047.2 1400.0L1047.6 1397.8L1048.0 1398.9L1048.3 1399.6L1048.7 1397.2L1049.0 1396.4L1049.3 1399.9L1049.7 1399.9L1050.0 1399.1L1050.4 1397.3L1050.8 1398.9L1051.1 1395.9L1051.5 1398.7L1051.8 1398.1L1052.2 1398.2L1052.5 1397.3L1052.8 1396.1L1053.2 1398.4L1053.5 1397.0L1053.9 1398.3L1054.2 1396.3L1054.6 1394.8L1055.0 1396.8L1055.3 1397.1L1055.7 1398.3L1056.0 1398.0L1056.3 1393.7L1056.7 1396.9L1057.0 1394.2L1057.4 1396.0L1057.8 1394.1L1058.1 1393.5L1058.5 1393.8L1058.8 1393.4M1094.2 1393.5L1094.5 1393.6L1094.8 1394.2L1095.2 1393.1L1095.5 1394.8L1095.9 1393.5L1096.2 1395.0L1096.6 1394.6L1097.0 1395.3L1097.3 1392.8L1097.7 1395.4L1098.0 1394.2L1098.3 1395.2L1098.7 1393.9L1099.0 1396.9L1099.4 1398.2L1099.8 1395.7L1100.1 1394.6L1100.5 1397.3L1100.8 1395.0L1101.2 1398.9L1101.5 1395.3L1101.8 1396.6L1102.2 1397.3L1102.5 1395.6L1102.9 1396.7L1103.2 1396.6L1103.6 1398.9L1104.0 1400.4L1104.3 1397.4L1104.7 1399.7L1105.0 1396.6L1105.3 1398.9L1105.7 1398.3L1106.0 1397.7L1106.4 1400.4L1106.8 1400.1L1107.1 1397.2L1107.5 1398.1L1107.8 1400.8L1108.2 1401.7L1108.5 1400.0L1108.8 1401.3L1109.2 1402.0L1109.5 1400.8L1109.9 1400.4L1110.2 1398.4L1110.6 1399.2L1111.0 1400.6L1111.3 1402.1L1111.7 1399.1L1112.0 1399.6L1112.3 1397.8L1112.7 1401.2L1113.3 1400.0L1114.0 1401.7L1114.7 1398.9L1115.4 1401.0L1116.1 1401.1L1116.8 1400.1L1117.5 1398.8L1118.2 1399.8L1118.9 1401.5L1119.6 1398.8L1120.3 1398.3L1121.0 1400.2L1121.7 1399.0L1122.4 1401.8L1123.1 1401.9L1123.8 1402.6L1124.5 1402.1L1125.2 1401.1L1125.9 1398.9L1126.6 1402.0L1127.3 1401.6L1128.0 1401.7L1128.7 1401.4L1129.4 1402.1L1130.1 1399.5L1130.8 1401.3L1131.5 1400.6L1132.2 1399.7L1132.9 1399.7L1133.6 1398.9L1134.3 1400.5L1135.0 1399.9L1135.7 1400.2L1136.4 1402.3L1137.1 1401.5L1137.8 1401.5L1138.5 1403.0L1139.2 1399.3L1139.9 1400.7L1140.6 1398.7L1141.3 1400.2L1142.0 1402.9L1142.7 1398.7L1143.4 1402.0L1144.1 1402.5L1144.8 1400.8L1145.5 1402.2L1146.2 1400.5L1146.9 1400.1L1147.6 1400.8L1148.3 1399.3L1149.0 1399.9L1149.7 1399.9L1150.4 1403.3L1151.1 1400.1L1151.8 1399.6L1152.5 1403.1L1153.2 1399.1L1153.9 1403.2L1154.6 1402.7L1155.3 1401.7L1156.0 1400.6L1156.7 1399.5L1157.4 1399.1L1158.1 1399.1L1158.8 1400.3L1159.5 1400.6L1160.2 1403.1L1160.9 1401.2L1161.6 1403.5L1162.3 1402.2L1163.0 1399.4L1163.7 1401.4L1164.4 1399.5L1165.1 1398.9L1165.8 1403.3L1166.5 1400.4L1167.2 1399.6L1167.9 1399.2L1168.6 1401.9L1169.3 1401.0L1170.0 1398.8L1170.7 1402.3L1171.4 1400.0L1172.1 1402.6L1172.8 1401.2L1173.5 1401.4L1174.2 1401.1L1174.9 1402.1L1175.6 1403.7L1176.3 1402.8L1177.0 1399.2L1177.7 1401.3L1178.4 1400.0L1179.1 1399.4L1179.8 1399.9L1180.5 1400.1L1181.2 1403.6L1181.9 1402.6L1182.6 1403.1L1183.3 1402.4L1184.0 1400.5L1184.7 1400.9L1185.4 1401.1L1186.1 1400.4L1186.8 1401.0L1187.5 1402.8L1188.2 1399.4L1188.9 1400.4L1189.6 1401.3L1190.3 1402.3L1191.0 1402.2L1191.7 1402.6L1192.4 1399.5L1193.1 1399.9L1193.8 1400.5L1194.5 1400.4L1195.2 1402.7L1195.9 1403.9L1196.6 1402.4L1197.3 1399.2L1198.0 1400.5L1198.7 1403.0L1199.4 1403.6L1200.1 1402.0L1200.8 1400.8L1201.5 1400.8L1202.2 1402.2L1202.9 1403.3L1203.6 1400.7L1204.3 1400.0L1205.0 1399.1L1205.7 1399.7L1206.4 1403.2L1207.1 1402.1L1207.8 1403.9L1208.5 1399.4L1209.2 1400.9L1209.9 1403.0L1210.6 1402.3L1211.3 1399.4L1212.0 1401.0L1212.7 1402.2L1213.4 1402.4L1214.1 1401.3L1214.8 1400.0L1215.5 1403.8L1216.2 1401.4L1216.9 1402.6L1217.6 1401.7L1218.3 1399.5L1219.0 1400.2L1219.7 1399.4L1220.4 1400.0L1221.1 1400.1L1221.8 1401.1L1222.5 1400.7L1223.2 1400.9L1223.9 1403.1L1224.6 1399.2L1225.3 1399.6L1226.0 1403.0L1226.7 1401.7L1227.4 1401.2L1228.1 1400.4L1228.8 1401.7L1229.5 1400.2L1230.2 1403.3L1230.9 1403.1L1231.6 1400.7L1232.3 1399.2L1233.0 1403.4L1233.7 1400.6L1234.4 1402.3L1235.1 1403.3L1235.8 1403.0L1236.5 1403.3L1237.2 1401.5L1237.9 1403.2L1238.6 1401.4L1239.3 1400.4L1240.0 1401.5L1240.7 1400.7L1241.4 1402.9L1242.1 1403.2L1242.8 1399.8L1243.5 1399.9L1244.2 1401.0L1244.9 1401.4L1245.6 1403.8L1246.3 1403.7L1247.0 1403.8L1247.7 1402.7L1248.4 1402.4L1249.1 1400.4L1249.8 1400.9L1250.5 1399.1L1251.2 1403.2L1251.9 1400.5L1252.6 1399.5L1253.3 1400.7L1254.0 1400.7L1254.7 1402.7L1255.4 1399.2L1256.1 1400.3L1256.8 1403.5L1257.5 1403.3L1258.2 1402.2L1258.9 1401.9L1259.6 1400.2L1260.0 1403.4L1260.3 1402.8L1260.7 1401.6L1261.0 1399.9L1261.4 1400.2L1261.8 1401.0L1262.1 1400.7L1262.5 1399.4L1262.8 1401.1L1263.2 1401.2L1263.5 1400.4L1263.8 1400.9L1264.2 1400.6L1264.5 1400.8L1264.9 1401.9L1265.2 1401.3L1265.6 1399.8L1266.0 1402.7L1266.3 1401.3L1266.7 1401.0L1267.0 1402.2L1267.3 1402.3L1267.7 1402.7L1268.0 1402.5L1268.4 1401.8L1268.8 1402.0L1269.1 1399.2L1269.5 1401.7L1269.8 1399.5L1270.2 1399.5L1270.5 1398.7L1270.8 1399.9L1271.2 1397.9L1271.5 1400.7L1271.9 1400.9L1272.2 1400.6L1272.6 1397.0L1273.0 1399.0L1273.3 1399.4L1273.7 1394.9L1274.0 1395.0L1274.3 1394.7L1274.7 1394.9M1307.2 1393.3L1307.6 1395.4L1308.0 1394.7L1308.3 1396.5L1308.7 1396.2L1309.0 1397.1L1309.3 1395.2L1309.7 1397.6L1310.0 1397.9L1310.4 1398.0L1310.8 1394.9L1311.1 1399.3L1311.5 1397.6L1311.8 1396.2L1312.2 1397.1L1312.5 1397.6L1312.8 1397.7L1313.2 1396.5L1313.5 1396.6L1313.9 1397.1L1314.2 1399.2L1314.6 1397.6L1315.0 1395.7L1315.3 1397.8L1315.7 1396.6L1316.0 1395.7L1316.3 1400.5L1316.7 1397.2L1317.0 1398.4L1317.4 1397.6L1317.8 1396.2L1318.1 1400.4L1318.5 1400.6L1318.8 1397.0L1319.2 1398.2L1319.5 1398.0L1319.8 1397.1L1320.2 1399.6L1320.5 1400.2L1320.9 1400.2L1321.2 1399.8L1321.6 1396.7L1322.0 1397.8L1322.3 1399.3L1322.7 1400.2L1323.0 1398.8L1323.3 1399.2L1323.7 1401.1L1324.0 1397.2L1324.4 1398.5L1324.8 1398.7L1325.1 1402.2L1325.5 1398.5L1325.8 1397.7L1326.2 1399.6L1326.5 1400.8L1326.8 1398.5L1327.2 1402.0L1327.5 1398.9L1327.9 1401.5L1328.2 1399.0L1328.6 1402.6L1329.0 1399.4L1329.3 1402.1L1329.7 1402.8L1330.0 1400.1L1330.3 1399.4L1330.7 1401.9L1331.5 1401.6L1331.8 1401.3L1332.2 1402.6L1332.5 1400.9L1332.9 1400.9L1333.2 1400.7L1333.6 1400.3L1334.0 1399.9L1334.3 1398.6L1334.7 1399.1L1335.0 1398.8L1335.3 1398.6L1335.7 1401.1L1336.0 1397.7L1336.4 1398.1L1336.8 1399.5L1337.1 1398.4L1337.5 1398.0L1337.8 1398.6L1338.2 1399.1L1338.5 1399.9L1338.8 1401.3L1339.2 1400.7L1339.5 1398.5L1339.9 1398.6L1340.2 1398.3L1340.6 1397.4L1341.0 1400.7L1341.3 1396.3L1341.7 1396.9L1342.0 1398.9L1342.3 1398.4L1342.7 1396.6L1343.0 1399.3L1343.4 1396.2L1343.8 1396.5L1344.1 1393.2M1376.0 1395.3L1376.3 1392.0L1376.7 1393.8L1377.0 1396.7L1377.3 1397.4L1377.7 1397.6L1378.0 1397.6L1378.4 1395.1L1378.8 1394.4L1379.1 1396.7L1379.5 1395.0L1379.8 1399.5L1380.2 1395.0L1380.5 1396.7L1380.8 1396.2L1381.2 1395.3L1381.5 1397.8L1381.9 1395.8L1382.2 1399.8L1382.6 1398.9L1383.0 1397.4L1383.3 1399.7L1383.7 1399.6L1384.0 1397.3L1384.3 1399.9L1384.7 1400.3L1385.0 1398.9L1385.4 1397.6L1385.8 1400.3L1386.1 1400.6L1386.5 1397.7L1386.8 1396.5L1387.2 1400.4L1387.5 1399.4L1387.8 1397.4L1388.2 1399.1L1388.5 1397.9L1388.9 1400.9L1389.2 1398.2L1389.6 1397.5L1390.0 1396.8L1390.3 1398.4L1390.7 1401.5L1391.0 1397.9L1391.3 1399.1L1391.7 1401.6L1392.0 1397.0L1392.4 1398.5L1392.8 1401.1L1393.1 1397.6L1393.5 1401.7L1393.8 1401.3L1394.2 1398.0L1394.5 1400.3L1394.8 1400.2L1395.2 1400.9L1395.5 1399.1L1395.9 1399.5L1396.2 1398.8L1396.6 1399.1L1397.0 1398.6L1397.3 1402.2L1397.7 1402.2L1398.0 1399.7L1398.3 1401.3L1398.7 1400.4L1399.0 1399.4L1399.4 1399.8L1399.8 1402.8L1400.1 1399.8L1400.5 1401.0L1400.8 1402.8L1401.2 1399.8L1401.5 1402.3L1401.8 1399.0L1402.2 1402.0L1402.5 1402.4L1402.9 1402.6L1403.2 1403.3L1403.6 1402.1L1404.0 1403.4L1404.3 1400.0L1404.7 1401.3L1405.0 1399.8L1405.3 1399.2L1405.7 1401.0L1406.0 1402.4L1406.4 1402.7L1406.8 1399.0L1407.1 1403.5L1407.5 1400.2L1407.8 1400.5L1408.2 1403.1L1408.5 1403.5L1408.8 1402.7L1409.2 1400.8L1409.5 1401.5L1409.9 1403.3L1410.1 1401.0L1410.8 1403.2L1411.5 1403.0L1412.2 1401.5L1412.9 1403.6L1413.6 1401.1L1414.3 1402.9L1415.0 1402.4L1415.7 1400.9L1416.4 1401.8L1417.1 1402.2L1417.8 1401.9L1418.5 1399.8L1419.2 1404.1L1419.9 1403.9L1420.6 1399.5L1421.3 1403.8L1422.0 1401.8L1422.7 1399.9L1423.4 1403.2L1424.1 1401.4L1424.8 1402.7L1425.5 1403.3L1426.2 1401.9L1426.9 1399.5L1427.6 1403.2L1428.3 1402.6L1429.0 1403.7L1429.7 1400.6L1430.4 1403.1L1431.1 1403.5L1431.8 1401.0L1432.5 1401.3L1433.2 1400.9L1433.9 1399.3L1434.6 1400.4L1435.3 1400.9L1436.0 1399.8L1436.7 1403.0L1437.4 1401.3L1438.1 1402.0L1438.8 1400.6L1439.5 1401.0L1440.2 1402.9L1440.9 1401.5L1441.6 1402.2L1442.3 1401.3L1443.0 1402.0L1443.7 1403.6L1444.4 1400.6L1445.1 1401.8L1445.8 1402.6L1446.5 1399.7L1447.2 1403.9L1447.9 1401.7L1448.6 1400.5L1449.3 1402.9L1450.0 1403.2L1450.7 1402.3L1451.4 1403.7L1452.1 1399.7L1452.8 1401.8L1453.5 1402.9L1454.2 1403.7L1454.9 1402.4L1455.6 1402.2L1456.3 1401.2L1457.0 1402.0L1457.7 1402.0L1458.4 1403.6L1459.1 1403.3L1459.8 1402.8L1460.5 1403.7L1461.2 1399.6L1461.9 1403.0L1462.6 1401.5L1463.3 1402.9L1464.0 1400.7L1464.7 1401.5L1465.4 1403.3L1466.1 1399.5L1466.8 1400.7L1467.5 1401.6L1468.2 1403.4L1468.9 1400.6L1469.6 1403.3L1470.3 1400.5L1471.0 1400.7L1471.7 1402.0L1472.4 1402.4L1473.1 1403.5L1473.8 1403.5L1474.5 1400.5L1475.2 1402.9L1475.9 1402.3L1476.6 1401.1L1477.3 1403.0L1478.0 1403.6L1478.7 1401.6L1479.4 1403.7L1480.1 1399.9L1480.8 1400.1L1481.5 1403.0L1482.2 1400.8L1482.9 1402.1L1483.6 1401.7L1484.3 1400.0L1485.0 1402.9L1485.7 1402.9L1486.4 1400.0L1487.1 1400.5L1487.8 1403.1L1488.5 1403.7L1489.2 1403.5L1489.9 1401.7L1490.6 1401.1L1491.3 1401.4L1492.0 1400.1L1492.7 1401.7L1493.4 1400.4L1494.1 1400.1L1494.8 1401.1L1495.5 1399.6L1496.2 1401.6L1496.9 1402.6L1497.6 1402.4L1498.3 1404.0L1499.0 1403.6L1499.7 1402.3L1500.4 1403.6L1501.1 1401.4L1501.8 1403.1L1502.5 1400.7L1503.2 1401.8L1503.9 1404.0L1504.6 1402.2L1505.3 1401.7L1506.0 1403.1L1506.7 1400.8L1507.4 1403.3L1508.1 1399.4L1508.8 1400.4L1509.5 1400.1L1510.2 1400.5L1510.9 1403.8L1511.6 1399.4L1512.3 1400.7L1513.0 1402.1L1513.7 1402.7L1514.4 1403.0L1515.1 1401.1L1515.8 1400.4L1516.5 1403.4L1517.2 1399.9L1517.9 1399.6L1518.6 1400.4L1519.3 1401.7L1520.0 1403.8L1520.7 1402.8L1521.4 1402.0L1522.1 1401.8L1522.8 1402.6L1523.5 1402.3L1524.2 1400.9L1524.9 1399.7" fill="none" stroke="#000000" stroke-width="9.5" stroke-linejoin="round" stroke-linecap="butt"/>
<path d="M353.1 1391.3L353.8 1390.6L354.5 1389.5L355.2 1387.9L355.9 1385.5L356.6 1382.5L357.3 1379.8L357.8 1379.1L358.7 1381.4L359.4 1384.6L360.1 1387.3L360.8 1389.4L361.5 1390.8L362.2 1391.8L362.9 1392.5M510.6 1391.8L511.3 1390.8L512.0 1389.7L512.7 1388.2L513.4 1386.6L514.1 1385.0L514.8 1383.9L515.4 1383.5L516.2 1384.1L516.9 1385.3L517.6 1386.9L518.3 1388.4L519.0 1389.7L519.7 1390.7L520.4 1391.5M529.5 1391.7L530.2 1390.9L530.9 1389.9L531.6 1388.6L532.3 1386.8L533.0 1384.7L533.7 1382.4L534.4 1380.5L535.2 1379.5L535.8 1380.1L536.5 1381.9L537.2 1384.2L537.9 1386.5L538.6 1388.4L539.3 1389.9L540.0 1391.1L540.7 1392.0M620.1 1392.8L620.5 1392.0L620.8 1391.2L621.1 1390.3L621.5 1389.4L621.9 1388.4L622.2 1387.3L622.5 1385.9L622.9 1384.1L623.2 1382.1L623.6 1379.9L624.0 1377.6L624.3 1375.0L624.6 1372.1L625.0 1369.0L625.4 1366.1L625.7 1363.4L626.0 1360.4L626.4 1356.9L626.8 1352.3L627.1 1345.9L627.5 1335.0L627.8 1320.0L628.1 1296.7L628.5 1260.7L628.9 1226.8L629.2 1197.3L629.5 1168.6L629.9 1140.5L630.2 1113.4L630.6 1087.3L631.0 1062.3L631.3 1038.7L631.6 1019.5L632.0 1031.8L632.4 1042.7L632.7 1053.6L633.0 1064.7L633.4 1075.8L633.8 1087.0L634.1 1098.4L634.5 1109.8L634.8 1121.3L635.1 1132.9L635.5 1144.6L635.9 1156.4L636.2 1168.4L636.5 1180.4L636.9 1192.4L637.2 1204.6L637.6 1216.9L638.0 1229.2L638.3 1241.7L638.6 1254.2L639.0 1266.8L639.4 1279.6L639.7 1292.5L640.0 1305.6L640.4 1319.0L640.8 1334.8L641.1 1347.8L641.5 1353.8L641.8 1358.0L642.1 1361.2L642.5 1364.0L642.9 1366.7L643.2 1370.0L643.5 1373.6L643.9 1377.0L644.2 1379.6L644.6 1381.9L645.0 1384.0L645.3 1385.7L645.6 1387.0L646.0 1388.1L646.4 1389.0L646.7 1389.9L647.0 1390.7L647.4 1391.4L647.8 1392.1M722.6 1393.3L723.0 1392.9L723.4 1392.4L723.7 1391.8L724.0 1391.1L724.4 1390.3L724.8 1389.3L725.1 1388.3L725.5 1387.1L725.8 1385.8L726.1 1384.0L726.5 1381.3L726.9 1377.9L727.2 1373.5L727.5 1366.6L727.9 1359.1L728.2 1352.8L728.6 1347.0L729.0 1341.2L729.3 1334.8L729.6 1327.5L730.0 1321.1L730.4 1312.0L730.7 1275.9L731.0 1138.0L731.4 1090.8L731.8 1059.1L732.1 1033.5L732.5 1004.9L732.8 970.2L733.1 935.3L733.5 898.2L733.9 856.6L734.4 774.0L734.9 792.8L735.2 805.8L735.6 818.7L736.0 831.5L736.3 844.1L736.6 856.3L737.0 868.4L737.4 881.2L737.7 895.2L738.0 911.0L738.4 927.9L738.8 945.2L739.1 962.3L739.5 978.4L739.8 992.8L740.1 1004.8L740.5 1014.5L740.9 1023.6L741.2 1034.0L741.5 1046.5L741.9 1060.3L742.2 1075.3L742.6 1091.0L743.0 1107.2L743.3 1123.5L743.6 1139.7L744.0 1155.4L744.4 1170.6L744.7 1185.9L745.0 1202.1L745.4 1219.7L745.8 1240.3L746.1 1267.6L746.5 1292.6L746.8 1307.2L747.1 1317.4L747.5 1325.4L747.9 1332.7L748.2 1339.3L748.5 1345.3L748.9 1350.7L749.2 1355.4L749.6 1359.5L750.0 1363.1L750.3 1366.3L750.6 1369.3L751.0 1372.1L751.4 1374.8L751.7 1377.4L752.0 1380.1L752.4 1382.7L752.8 1384.8L753.1 1386.1L753.5 1387.2L753.8 1388.2L754.1 1389.1L754.5 1390.0L754.9 1390.8L755.2 1391.5L755.5 1392.1L755.9 1392.7L756.2 1393.2L756.6 1393.6M1057.8 1394.7L1058.1 1394.4L1058.5 1393.9L1058.8 1393.2L1059.2 1392.4L1059.5 1391.4L1059.8 1390.3L1060.2 1389.1L1060.5 1387.8L1060.9 1386.4L1061.2 1385.0L1061.6 1383.3L1062.0 1381.2L1062.3 1378.3L1062.7 1373.9L1063.0 1364.2L1063.3 1351.7L1063.7 1339.8L1064.0 1327.7L1064.4 1315.0L1064.8 1302.0L1065.1 1289.2L1065.5 1277.1L1065.8 1265.9L1066.2 1256.1L1066.5 1246.8L1066.8 1237.7L1067.2 1228.9L1067.5 1220.5L1067.9 1212.4L1068.2 1204.8L1068.6 1197.7L1069.0 1191.0L1069.3 1185.0L1069.7 1178.8L1070.0 1182.6L1070.3 1187.0L1070.7 1191.4L1071.0 1195.7L1071.4 1200.0L1071.8 1204.2L1072.1 1208.4L1072.5 1212.6L1072.8 1216.8L1073.2 1221.3L1073.5 1225.8L1073.8 1230.2L1074.2 1234.4L1074.5 1238.1L1074.9 1241.2L1075.2 1243.5L1075.6 1245.5L1076.0 1247.2L1076.3 1248.7L1076.7 1250.0L1077.0 1251.3L1077.3 1252.6L1077.7 1254.0L1078.0 1255.6L1078.4 1257.6L1078.8 1259.8L1079.1 1262.8L1079.5 1266.9L1079.8 1271.7L1080.2 1277.2L1080.5 1283.0L1080.8 1288.9L1081.2 1294.6L1081.5 1300.0L1081.9 1304.8L1082.2 1308.8L1082.6 1312.5L1083.0 1315.9L1083.3 1319.2L1083.7 1322.7L1084.0 1326.3L1084.3 1330.4L1084.7 1335.2L1085.0 1340.4L1085.4 1345.7L1085.8 1350.7L1086.1 1355.1L1086.5 1358.6L1086.8 1361.8L1087.2 1364.7L1087.5 1367.4L1087.8 1369.9L1088.2 1372.2L1088.5 1374.3L1088.9 1376.3L1089.2 1378.1L1089.6 1379.9L1090.0 1381.5L1090.3 1383.0L1090.7 1384.4L1091.0 1385.5L1091.3 1386.5L1091.7 1387.4L1092.0 1388.3L1092.4 1389.2L1092.8 1389.9L1093.1 1390.7L1093.5 1391.4L1093.8 1392.0L1094.2 1392.5L1094.5 1393.0L1094.8 1393.4L1095.2 1393.7M1273.7 1397.2L1274.0 1396.5L1274.3 1395.8L1274.7 1395.1L1275.0 1394.3L1275.4 1393.5L1275.8 1392.4L1276.1 1391.0L1276.5 1389.3L1276.8 1387.3L1277.2 1384.7L1277.5 1380.6L1277.8 1375.6L1278.2 1370.2L1278.5 1365.0L1278.9 1360.3L1279.2 1356.5L1279.6 1352.9L1280.0 1349.4L1280.3 1346.2L1280.7 1343.3L1281.0 1340.9L1281.3 1338.8L1281.7 1336.8L1282.0 1335.0L1282.4 1333.5L1282.8 1332.2L1283.0 1331.5L1283.5 1331.5L1283.8 1331.5L1284.2 1331.5L1284.5 1331.5L1284.8 1331.5L1285.1 1331.5L1285.5 1332.2L1285.9 1333.3L1286.2 1334.6L1286.6 1336.2L1287.0 1338.1L1287.3 1340.0L1287.7 1342.1L1288.0 1344.8L1288.3 1348.7L1288.7 1352.7L1289.0 1356.2L1289.4 1358.1L1289.8 1359.4L1290.1 1360.6L1290.5 1361.6L1290.8 1362.5L1291.2 1363.3L1291.5 1364.0L1291.8 1364.5L1292.2 1365.0L1292.5 1365.3L1292.9 1365.6L1293.2 1365.9L1293.6 1366.1L1294.0 1366.2L1294.3 1366.4L1294.7 1366.5L1295.0 1366.6L1295.3 1366.7L1295.7 1366.9L1296.0 1367.0L1296.4 1367.2L1296.8 1367.4L1297.1 1367.6L1297.5 1367.9L1297.8 1368.2L1298.2 1368.8L1298.5 1369.5L1298.8 1370.3L1299.2 1371.3L1299.5 1372.3L1299.9 1373.4L1300.2 1374.4L1300.6 1375.4L1301.0 1376.4L1301.3 1377.4L1301.7 1378.4L1302.0 1379.4L1302.3 1380.4L1302.7 1381.5L1303.0 1382.6L1303.4 1383.6L1303.8 1384.7L1304.1 1385.8L1304.5 1386.8L1304.8 1387.9L1305.2 1389.0L1305.5 1390.3L1305.8 1391.6L1306.2 1392.8L1306.5 1393.8L1306.9 1394.5L1307.2 1394.9L1307.6 1395.2L1308.0 1395.5L1308.3 1395.8M1343.0 1397.2L1343.4 1396.6L1343.8 1396.0L1344.1 1395.2L1344.5 1394.4L1344.8 1393.4L1345.2 1392.3L1345.5 1390.5L1345.8 1388.2L1346.2 1385.4L1346.5 1382.5L1346.9 1379.0L1347.2 1374.3L1347.6 1369.6L1348.0 1365.6L1348.3 1363.3L1348.7 1361.7L1349.0 1360.1L1349.3 1358.7L1349.7 1357.3L1350.0 1356.1L1350.4 1355.1L1350.8 1354.1L1351.1 1353.3L1351.5 1352.7L1351.8 1352.2L1352.2 1351.9L1352.6 1351.7L1352.8 1351.7L1353.2 1351.7L1353.5 1351.7L1353.9 1351.7L1354.2 1351.7L1354.6 1353.3L1355.0 1354.6L1355.3 1355.9L1355.7 1357.1L1356.0 1358.3L1356.3 1359.5L1356.7 1360.7L1357.0 1362.0L1357.4 1363.3L1357.8 1364.4L1358.1 1365.1L1358.5 1365.3L1358.8 1365.4L1359.2 1365.5L1359.5 1365.6L1359.8 1365.6L1360.2 1365.6L1360.5 1365.7L1360.9 1365.7L1361.2 1365.7L1361.6 1365.7L1362.0 1365.7L1362.3 1365.8L1362.7 1365.8L1363.0 1365.8L1363.3 1365.9L1363.7 1365.9L1364.0 1366.0L1364.4 1366.0L1364.8 1366.2L1365.1 1366.6L1365.5 1367.4L1365.8 1368.5L1366.2 1369.7L1366.5 1371.1L1366.8 1372.5L1367.2 1373.9L1367.5 1375.3L1367.9 1376.4L1368.2 1377.4L1368.6 1378.4L1369.0 1379.3L1369.3 1380.2L1369.7 1381.1L1370.0 1382.0L1370.3 1382.8L1370.7 1383.6L1371.0 1384.4L1371.4 1385.1L1371.8 1385.9L1372.1 1386.6L1372.5 1387.4L1372.8 1388.1L1373.2 1388.8L1373.5 1389.4L1373.8 1390.1L1374.2 1390.7L1374.5 1391.3L1374.9 1391.9L1375.2 1392.5L1375.6 1393.0L1376.0 1393.4L1376.3 1393.9L1376.7 1394.3L1377.0 1394.8" fill="none" stroke="#000000" stroke-width="9.5" stroke-linejoin="miter" stroke-miterlimit="1.42" stroke-linecap="butt"/>
<path d="M165.5 710.9L168.3 711.0L171.1 711.1L173.9 711.2L176.7 711.4L179.5 711.5L182.3 711.6L185.1 711.7L187.9 711.8L190.7 711.9L193.5 712.1L196.3 712.2L199.1 712.3L201.9 712.4L204.7 712.6L207.5 712.7L210.3 712.8L213.1 713.0L215.9 713.1L218.7 713.3L221.5 713.4L224.3 713.6L227.1 713.7L229.9 713.9L232.7 714.0L235.5 714.1L238.3 714.3L241.1 714.4L243.9 714.5L246.7 714.7L249.5 714.8L252.3 714.9L255.1 715.0L257.9 715.0L260.7 715.1L263.5 715.2L266.3 715.2L269.1 715.2L271.9 715.2L274.7 715.2L277.5 715.2L280.3 715.1L283.1 715.0L285.9 714.8L288.7 714.6L291.5 714.3L294.3 713.8L297.1 713.1L299.9 711.9L302.7 710.1L304.8 707.9L305.5 706.9L306.2 705.7L306.9 704.3L307.6 702.6L308.3 700.6L309.0 698.2L309.7 695.1L310.4 691.4L311.1 686.7L311.8 680.8L312.5 673.3L313.2 663.9L313.9 652.2L314.6 638.2L315.3 622.9L316.0 608.7L316.7 599.6L317.1 598.1L318.1 607.1L318.8 620.8L319.5 636.2L320.2 650.5L320.9 662.6L321.6 672.3L322.3 680.1L323.0 686.3L323.7 691.1L324.4 695.0L325.1 698.2L325.8 700.7L326.5 702.8L327.2 704.6L327.9 706.1L328.6 707.3L329.3 708.4L330.0 709.3L330.7 710.1L333.5 712.3L336.3 713.8L339.1 714.8L341.9 715.5L344.7 716.0L347.5 716.5L350.3 716.8L353.1 717.1L355.9 717.4L358.7 717.6L361.5 717.9L364.3 718.0L367.1 718.2L369.9 718.4L372.7 718.6L375.5 718.7L378.3 718.9L381.1 719.0L383.9 719.1L386.7 719.3L389.5 719.4L392.3 719.5L395.1 719.6L397.9 719.7L400.7 719.8L403.5 719.8L406.3 719.9L409.1 720.0L411.9 720.0L414.7 720.1L417.5 720.1L420.3 720.1L423.1 720.2L425.9 720.2L428.7 720.2L431.5 720.2L434.3 720.2L437.1 720.2L439.9 720.3L442.7 720.3L445.5 720.3L448.3 720.3L451.1 720.3L453.9 720.3L456.7 720.3L459.5 720.3L462.3 720.3L465.1 720.3L467.9 720.3L470.7 720.3L473.5 720.3L476.3 720.3L479.1 720.3L481.9 720.3L484.7 720.2L487.5 720.2L490.3 720.2L493.1 720.1L495.9 720.1L498.7 720.0L501.5 719.8L504.3 719.7L507.1 719.4L509.9 719.1L512.7 718.5L515.5 717.6L518.3 715.8L520.4 713.3L521.1 712.1L521.8 710.6L522.5 708.8L523.2 706.5L523.9 703.9L524.6 701.0L525.3 698.0L526.0 695.5L527.0 693.9L528.1 695.8L528.8 698.4L529.5 701.4L530.2 704.3L530.9 706.8L531.6 709.0L532.3 710.8L533.0 712.2L535.8 715.9L538.6 717.6L541.4 718.5L544.2 719.0L547.0 719.3L549.8 719.5L552.6 719.6L555.4 719.7L558.2 719.7L561.0 719.7L563.8 719.7L566.6 719.7L569.4 719.7L572.2 719.6L575.0 719.5L577.8 719.4L580.6 719.3L583.4 719.1L586.2 718.9L589.0 718.6L591.8 718.3L594.6 717.9L597.4 717.3L600.2 716.6L603.0 715.6L605.8 714.3L608.6 712.3L611.4 709.3L612.1 708.3L612.8 707.1L613.5 705.7L614.2 704.1L614.9 702.2L615.6 699.9L616.3 697.1L617.0 693.6L617.7 689.3L618.4 684.0L619.1 677.2L619.8 668.7L620.5 658.4L621.2 646.7L621.9 635.4L623.0 625.2L624.0 628.9L624.7 636.0L625.4 643.3L626.1 648.7L626.8 651.5L627.5 651.6L628.2 650.2L628.9 649.0L629.6 650.0L630.3 654.6L631.0 661.8L631.7 669.8L632.4 677.4L633.1 683.8L633.8 689.0L634.5 693.1L635.2 696.4L635.9 699.1L636.6 701.2L637.3 702.9L638.0 704.4L638.7 705.5L639.4 706.5L640.1 707.2L640.8 707.8L642.9 709.0L646.0 709.8L649.2 710.7L652.0 710.8L653.4 710.3L654.1 709.9L654.8 709.5L655.5 708.9L656.2 708.4L656.9 707.9L657.6 707.4L658.3 707.1L659.3 707.1L659.7 707.2L660.4 707.6L661.1 708.2L661.8 709.0L662.5 709.8L663.2 710.7L663.9 711.5L666.0 713.8L668.8 715.8L671.6 717.2L674.4 718.0L677.2 718.6L680.0 719.0L682.8 719.2L685.6 719.4L688.4 719.6L691.2 719.7L694.0 719.7L696.8 719.8L699.6 719.7L702.4 719.7L705.2 719.5L708.0 719.3L710.8 719.0L713.6 718.3L716.4 717.3L719.2 715.5L722.0 712.5L722.7 711.5L723.4 710.4L724.1 709.2L724.8 707.7L725.5 706.0L726.2 703.9L726.9 701.4L727.6 698.3L728.3 694.5L729.0 690.5L730.1 687.1L731.1 689.9L731.8 693.7L732.5 697.5L733.2 700.6L733.9 703.2L734.6 705.2L735.3 706.9L736.0 708.3L736.7 709.5L737.4 710.5L738.1 711.4L738.8 712.1L739.5 712.8L742.3 714.6L745.1 715.1L747.9 714.5L750.7 712.4L751.4 711.6L752.1 710.6L752.8 709.5L753.5 708.1L754.2 706.5L754.9 704.7L755.6 702.7L756.3 700.4L757.0 697.9L757.7 695.0L758.4 691.4L759.1 687.0L759.8 681.4L760.5 674.3L761.2 665.7L761.9 656.5L762.6 648.2L763.6 643.0L764.7 650.2L765.4 659.5L766.1 669.4L766.8 678.4L767.5 686.0L768.2 692.2L768.9 697.0L769.6 700.9L770.3 704.0L771.0 706.4L771.7 708.4L772.4 710.1L773.1 711.4L773.8 712.5L774.5 713.5L776.6 715.5L779.4 717.2L782.2 718.3L785.0 718.9L787.8 719.4L790.6 719.7L793.4 720.0L796.2 720.1L799.0 720.3L801.8 720.4L804.6 720.4L807.4 720.5L810.2 720.5L813.0 720.4L815.8 720.3L818.6 720.2L821.4 719.9L824.2 719.4L827.0 718.6L829.8 717.2L832.6 715.1L835.7 713.5L838.9 715.2L841.7 717.4L844.5 718.8L847.3 719.6L850.1 720.1L852.9 720.4L855.7 720.6L858.5 720.8L861.3 720.9L864.1 720.9L866.9 721.0L869.7 721.0L872.5 721.0L875.3 721.1L878.1 721.1L880.9 721.1L883.7 721.1L886.5 721.1L889.3 721.1L892.1 721.1L894.9 721.1L897.7 721.0L900.5 721.0L903.3 721.0L906.1 721.0L908.9 720.9L911.7 720.8L914.5 720.8L917.3 720.7L920.1 720.6L922.9 720.4L925.7 720.2L928.5 719.9L931.3 719.5L934.1 718.9L936.9 718.1L939.7 717.2L942.6 716.6L945.3 717.0L948.1 717.7L950.9 718.4L953.7 718.8L956.5 719.1L959.3 719.2L962.1 719.1L964.9 719.0L967.7 718.8L970.5 718.6L973.3 718.3L976.1 717.8L978.9 717.3L981.7 716.7L984.5 715.9L987.3 714.9L990.1 713.7L992.9 712.1L995.7 710.0L998.5 706.9L999.9 704.7L1000.6 703.4L1001.3 701.9L1002.0 700.2L1002.7 698.2L1003.4 696.1L1004.1 693.8L1004.8 691.5L1005.5 689.5L1006.2 688.1L1007.0 687.5L1007.6 688.0L1008.3 689.3L1009.0 691.2L1009.7 693.6L1010.4 696.0L1011.1 698.2L1011.8 700.3L1012.5 702.2L1013.2 703.9L1013.9 705.3L1014.6 706.5L1015.3 707.6L1018.1 710.9L1020.9 713.0L1023.7 714.4L1026.5 715.5L1029.3 716.3L1032.1 717.0L1034.9 717.4L1037.7 717.8L1040.5 718.0L1043.3 718.1L1046.1 718.0L1048.9 717.8L1051.7 717.3L1054.5 716.4L1057.3 714.8L1060.1 712.3L1060.8 711.6L1061.5 710.9L1062.2 710.2L1062.9 709.6L1063.6 709.1L1064.3 708.8L1064.9 708.8L1065.7 708.9L1066.4 709.3L1067.1 709.8L1067.8 710.5L1068.5 711.2L1069.2 711.9L1071.3 714.0L1074.1 716.0L1076.9 717.3L1079.7 718.0L1082.5 718.4L1085.3 718.5L1088.1 718.4L1090.9 718.1L1093.7 717.3L1096.5 715.9L1099.3 713.1L1100.0 712.0L1100.7 710.7L1101.4 709.0L1102.1 707.0L1102.8 704.5L1103.5 701.5L1104.2 698.0L1104.9 694.0L1105.6 689.9L1106.3 686.3L1107.0 684.0L1107.4 683.6L1108.4 685.6L1109.1 688.8L1109.8 692.7L1110.5 696.5L1111.2 699.9L1111.9 702.7L1112.6 705.0L1113.3 706.7L1114.0 708.0L1114.7 709.0L1115.4 709.6L1116.1 709.9L1116.8 710.0L1117.5 709.9L1118.2 709.5L1118.9 708.9L1119.6 708.0L1120.3 706.9L1121.0 705.6L1121.7 704.2L1122.4 702.9L1123.1 701.9L1123.8 701.4L1124.2 701.3L1125.2 702.2L1125.9 703.5L1126.6 705.1L1127.3 706.9L1128.0 708.6L1128.7 710.1L1129.4 711.5L1130.1 712.7L1130.8 713.7L1132.9 715.9L1135.7 717.7L1138.5 718.7L1141.3 719.3L1144.1 719.7L1146.9 720.0L1149.7 720.1L1152.5 720.2L1155.3 720.2L1158.1 720.1L1160.9 719.9L1163.7 719.6L1166.5 719.1L1169.3 718.2L1172.1 716.8L1174.9 714.6L1177.0 712.7L1177.7 712.2L1178.4 711.8L1179.1 711.5L1179.7 711.5L1180.5 711.6L1181.2 711.9L1181.9 712.4L1183.3 713.6L1186.1 716.1L1188.9 717.9L1191.7 719.0L1194.5 719.8L1197.3 720.2L1200.1 720.6L1202.9 720.8L1205.7 721.0L1208.5 721.1L1211.3 721.2L1214.1 721.3L1216.9 721.4L1219.7 721.4L1222.5 721.5L1225.3 721.5L1228.1 721.5L1230.9 721.5L1233.7 721.6L1236.5 721.6L1239.3 721.6L1242.1 721.6L1244.9 721.6L1247.7 721.6L1250.5 721.6L1253.3 721.6L1256.1 721.5L1258.9 721.5L1261.7 721.4L1264.5 721.4L1267.3 721.3L1270.1 721.2L1272.9 721.0L1275.7 720.9L1278.5 720.7L1281.3 720.4L1284.1 720.2L1286.9 719.9L1289.7 719.6L1292.5 719.2L1295.3 718.8L1298.1 718.4L1300.9 718.0L1303.7 717.5L1306.5 717.1L1309.3 716.7L1312.1 716.3L1314.9 715.9L1317.7 715.6L1320.5 715.3L1323.3 715.1L1326.1 714.9L1328.9 714.8L1331.7 714.8L1334.5 714.9L1337.3 715.0L1340.1 715.2L1342.9 715.5L1345.7 715.8L1348.5 716.1L1351.3 716.5L1354.1 717.0L1356.9 717.4L1359.7 717.8L1362.5 718.2L1365.3 718.6L1368.1 719.0L1370.9 719.4L1373.7 719.7L1376.5 720.0L1379.3 720.3L1382.1 720.5L1384.9 720.6L1387.7 720.8L1390.5 720.9L1393.3 720.9L1396.1 720.9L1398.9 720.9L1401.7 720.7L1404.5 720.5L1407.3 720.1L1410.1 719.5L1412.9 718.5L1415.7 717.4L1418.5 716.7L1421.3 717.1L1424.1 718.2L1426.9 719.2L1429.7 719.8L1432.5 720.2L1435.3 720.4L1438.1 720.5L1440.9 720.4L1443.7 720.1L1446.5 719.6L1449.3 719.0L1452.1 718.7L1454.9 719.0L1457.7 719.6L1460.5 720.3L1463.3 720.7L1466.1 721.0L1468.9 721.2L1471.7 721.4L1474.5 721.5L1477.3 721.6L1480.1 721.6L1482.9 721.7L1485.7 721.7L1488.5 721.7L1491.3 721.8L1494.1 721.8L1496.9 721.8L1499.7 721.8L1502.5 721.8L1505.3 721.8L1508.1 721.9L1510.9 721.9L1513.7 721.9L1516.5 721.9L1519.3 721.9L1522.1 721.9L1524.9 721.9" fill="none" stroke="#0000D4" stroke-width="5" stroke-linejoin="bevel" stroke-linecap="butt"/>
<path d="M165.5 711.9L166.2 712.1L166.9 711.2L167.6 709.6L168.3 708.1L169.0 709.2L169.7 713.0L170.4 709.4L171.1 708.6L171.8 709.7L172.5 711.3L173.2 711.7L173.9 713.5L174.6 713.3L175.3 714.0L176.0 713.6L176.7 711.1L177.4 709.3L178.1 714.1L178.8 709.9L179.5 712.2L180.2 710.1L180.9 713.4L181.6 709.8L182.3 711.1L183.0 710.0L183.7 713.7L184.4 712.4L185.1 712.5L185.8 710.7L186.5 709.9L187.2 713.8L187.9 713.3L188.6 713.2L189.3 714.7L190.0 712.3L190.7 710.1L191.4 712.6L192.1 710.8L192.8 712.1L193.5 711.8L194.2 712.5L194.9 714.5L195.6 713.9L196.3 711.7L197.0 714.0L197.7 714.2L198.4 713.8L199.1 712.6L199.8 714.5L200.5 712.3L201.2 710.3L201.9 711.2L202.6 713.3L203.3 711.8L204.0 712.1L204.7 712.0L205.4 710.9L206.1 710.4L206.8 710.2L207.5 713.6L208.2 711.8L208.9 712.5L209.6 715.1L210.3 713.5L211.0 714.5L211.7 714.3L212.4 715.4L213.1 710.7L213.8 712.4L214.5 715.4L215.2 712.9L215.9 715.5L216.6 711.5L217.3 710.9L218.0 715.3L218.7 712.8L219.4 713.4L220.1 715.6L220.8 711.9L221.5 715.8L222.2 712.9L222.9 712.2L223.6 712.2L224.3 713.7L225.0 713.4L225.7 715.6L226.4 711.4L227.1 711.4L227.8 712.0L228.5 714.3L229.2 715.2L229.9 713.8L230.6 714.5L231.3 714.6L232.0 711.6L232.7 712.7L233.4 716.5L234.1 713.2L234.8 716.3L235.5 714.1L236.2 712.8L236.9 711.8L237.6 712.9L238.3 713.4L239.0 714.0L239.7 714.1L240.4 714.6L241.1 714.3L241.8 712.2L242.5 713.3L243.2 716.7L243.9 712.3L244.6 715.7L245.3 714.5L246.0 715.6L246.7 713.9L247.4 714.1L248.1 714.8L248.8 716.7L249.5 714.0L250.2 712.8L250.9 712.6L251.6 716.6L252.3 714.0L253.0 713.1L253.7 715.4L254.4 716.6L255.1 715.4L255.8 713.4L256.5 714.6L257.2 713.9L257.9 712.8L258.6 717.2L259.3 714.9L260.0 713.4L260.7 716.9L261.4 717.3L262.1 716.6L262.8 714.0L263.5 713.8L264.2 715.3L264.9 715.6L265.6 716.9L266.3 717.3L267.0 717.0L267.7 714.5L268.4 715.6L269.1 713.5L269.8 715.3L270.5 713.3L271.2 713.5L271.9 713.6L272.6 714.4L273.3 714.4L274.0 716.1L274.7 713.4L275.4 713.5L276.1 715.9L276.8 715.9L277.5 716.1L278.2 716.1L278.9 715.9L279.6 715.4L280.3 716.1L281.0 713.3L281.7 713.8L282.4 716.1L283.1 713.7L283.8 715.1L284.5 713.9L285.2 714.6L285.9 716.3L286.6 715.5L287.3 714.5L288.0 713.7L288.7 715.9L289.4 715.2L290.1 714.2L290.8 715.9L291.5 715.1L292.2 716.2L292.9 714.7L293.6 715.6L294.3 714.0L295.0 714.5L295.7 714.9L296.4 711.6L297.1 713.0L297.8 713.3L298.5 710.8L299.2 713.4L299.9 712.8L300.6 713.3L301.3 710.6L302.0 710.5L302.7 711.7L303.4 709.1L304.1 710.0L304.8 707.6M330.0 708.7L330.7 709.2L331.4 709.7L332.1 711.1L332.8 710.6L333.5 713.6L334.2 714.5L334.9 711.6L335.6 711.8L336.3 712.0L337.0 715.7L337.7 712.8L338.4 715.2L339.1 714.1L339.8 713.9L340.5 714.2L341.2 716.0L341.9 713.7L342.6 717.0L343.3 716.0L344.0 714.9L344.7 715.0L345.4 716.7L346.1 716.7L346.8 715.7L347.5 715.9L348.2 716.4L348.9 718.1L349.6 716.9L350.3 718.0L351.0 717.4L351.7 717.2L352.4 717.0L353.1 717.8L353.8 717.2L354.5 718.1L355.2 716.2L355.9 716.8L356.6 718.8L357.3 717.1L358.0 718.8L358.7 719.2L359.4 718.0L360.1 716.3L360.8 718.7L361.5 718.4L362.2 717.2L362.9 719.2L363.6 717.9L364.3 716.5L365.0 716.6L365.7 717.2L366.4 718.6L367.1 719.3L367.8 716.9L368.5 716.7L369.2 718.8L369.9 718.1L370.6 718.2L371.3 719.6L372.0 720.0L372.7 720.2L373.4 719.6L374.1 717.0L374.8 717.5L375.5 719.0L376.2 720.3L376.9 717.4L377.6 718.9L378.3 718.5L379.0 718.6L379.7 718.2L380.4 718.2L381.1 718.1L381.8 717.7L382.5 719.3L383.2 718.9L383.9 719.8L384.6 719.6L385.3 720.7L386.0 718.7L386.7 720.5L387.4 718.9L388.1 719.9L388.8 720.4L389.5 719.0L390.2 719.2L390.9 719.9L391.6 718.2L392.3 719.6L393.0 718.2L393.7 718.6L394.4 720.0L395.1 721.1L395.8 721.2L396.5 718.9L397.2 718.5L397.9 719.7L398.6 719.5L399.3 719.3L400.0 720.6L400.7 720.4L401.4 720.0L402.1 720.2L402.8 720.1L403.5 720.4L404.2 721.2L404.9 721.3L405.6 721.4L406.3 721.1L407.0 718.7L407.7 719.8L408.4 720.8L409.1 719.3L409.8 720.3L410.5 718.6L411.2 719.1L411.9 719.7L412.6 718.7L413.3 719.8L414.0 719.2L414.7 721.2L415.4 719.5L416.1 719.7L416.8 721.0L417.5 720.3L418.2 718.7L418.9 719.3L419.6 720.5L420.3 719.2L421.0 719.4L421.7 720.5L422.4 720.1L423.1 719.5L423.8 720.3L424.5 720.6L425.2 718.8L425.9 719.5L426.6 719.6L427.3 721.3L428.0 718.9L428.7 719.7L429.4 719.3L430.1 720.8L430.8 721.1L431.5 718.9L432.2 721.3L432.9 720.8L433.6 719.4L434.3 721.4L435.0 719.6L435.7 721.1L436.4 719.0L437.1 720.1L437.8 720.3L438.5 721.4L439.2 721.2L439.9 720.4L440.6 719.0L441.3 720.1L442.0 719.9L442.7 721.7L443.4 720.8L444.1 720.0L444.8 719.9L445.5 721.0L446.2 719.1L446.9 721.2L447.6 720.8L448.3 720.1L449.0 720.9L449.7 720.0L450.4 719.3L451.1 720.1L451.8 719.0L452.5 719.2L453.2 720.1L453.9 721.2L454.6 719.5L455.3 720.3L456.0 721.7L456.7 721.2L457.4 721.4L458.1 720.8L458.8 720.6L459.5 720.5L460.2 720.6L460.9 720.2L461.6 719.9L462.3 719.6L463.0 719.1L463.7 720.0L464.4 721.1L465.1 720.5L465.8 719.4L466.5 721.2L467.2 719.0L467.9 721.5L468.6 720.7L469.3 720.5L470.0 720.1L470.7 721.2L471.4 718.9L472.1 719.0L472.8 720.4L473.5 719.7L474.2 720.0L474.9 720.4L475.6 719.0L476.3 721.6L477.0 720.8L477.7 719.2L478.4 721.0L479.1 720.4L479.8 720.8L480.5 720.9L481.2 721.6L481.9 719.2L482.6 721.6L483.3 720.2L484.0 719.4L484.7 719.9L485.4 719.9L486.1 721.3L486.8 720.3L487.5 719.0L488.2 720.8L488.9 720.2L489.6 721.1L490.3 718.9L491.0 721.2L491.7 721.2L492.4 718.8L493.1 720.1L493.8 719.1L494.5 720.2L495.2 718.9L495.9 721.1L496.6 719.2L497.3 720.5L498.0 720.4L498.7 719.5L499.4 719.1L500.1 721.1L500.8 718.6L501.5 719.2L502.2 719.3L502.9 720.0L503.6 719.4L504.3 718.6L505.0 719.8L505.7 720.2L506.4 720.1L507.1 719.4L507.8 718.8L508.5 717.9L509.2 719.3L509.9 719.5L510.6 718.8L511.3 720.1L512.0 717.9L512.7 719.4L513.4 719.0L514.1 719.2L514.8 719.1L515.5 716.9L516.2 718.4L516.9 716.6L517.6 716.9L518.3 717.1L519.0 715.4L519.7 714.6L520.4 712.2M533.0 712.5L533.7 712.7L534.4 714.1L535.1 714.9L535.8 717.2L536.5 716.8L537.2 717.5L537.9 716.3L538.6 717.0L539.3 718.9L540.0 717.0L540.7 719.5L541.4 718.3L542.1 718.3L542.8 718.8L543.5 718.7L544.2 718.9L544.9 718.9L545.6 719.7L546.3 718.6L547.0 718.4L547.7 719.2L548.4 718.3L549.1 719.3L549.8 719.5L550.5 720.3L551.2 718.5L551.9 719.3L552.6 720.4L553.3 719.2L554.0 720.6L554.7 720.3L555.4 718.4L556.1 719.4L556.8 720.4L557.5 719.8L558.2 720.2L558.9 721.1L559.6 720.2L560.3 719.9L561.0 720.7L561.7 719.5L562.4 718.4L563.1 719.1L563.8 720.0L564.5 721.0L565.2 720.0L565.9 719.1L566.6 721.1L567.3 719.4L568.0 718.9L568.7 719.8L569.4 719.2L570.1 718.6L570.8 720.2L571.5 720.1L572.2 720.9L572.9 718.6L573.6 720.7L574.3 720.3L575.0 718.8L575.7 719.4L576.4 719.8L577.1 718.9L577.8 718.3L578.5 720.3L579.2 718.4L579.9 719.3L580.6 719.1L581.3 720.3L582.0 719.3L582.7 718.9L583.4 720.4L584.1 718.6L584.8 719.6L585.5 718.2L586.2 719.6L586.9 719.5L587.6 719.6L588.3 718.6L589.0 717.9L589.7 718.9L590.4 719.6L591.1 717.8L591.8 717.0L592.5 717.3L593.2 719.3L593.9 716.6L594.6 716.6L595.3 716.6L596.0 718.7L596.7 717.1L597.4 717.8L598.1 717.7L598.8 716.8L599.5 717.4L600.2 716.5L600.9 716.5L601.6 715.6L602.3 714.5L603.0 715.9L603.7 714.7L604.4 714.4L605.1 715.7L605.8 713.9L606.5 712.8L607.2 713.8L607.9 713.0L608.6 711.1L609.3 711.3L610.0 711.3L610.7 709.6L611.4 710.6L612.1 709.1M640.8 707.8L641.5 709.4L642.2 707.4L642.9 708.2L643.6 710.3L644.3 709.4L645.0 708.6L646.0 710.0L647.1 710.7L647.8 710.6L648.5 709.3L649.2 709.5L649.9 710.6L650.6 709.6L651.3 709.8L652.0 711.2L652.7 710.4L653.4 709.2M663.9 712.5L664.6 712.0L665.3 714.1L666.0 714.0L666.7 714.7L667.4 714.7L668.1 715.9L668.8 715.2L669.5 715.6L670.2 717.6L670.9 716.1L671.6 716.8L672.3 718.1L673.0 717.2L673.7 717.5L674.4 719.1L675.1 717.4L675.8 717.6L676.5 719.5L677.2 718.0L677.9 718.2L678.6 719.8L679.3 718.4L680.0 720.3L680.7 719.9L681.4 720.0L682.1 718.4L682.8 718.5L683.5 720.0L684.2 720.2L684.9 718.7L685.6 718.7L686.3 718.8L687.0 718.6L687.7 719.3L688.4 719.6L689.1 720.0L689.8 718.5L690.5 718.8L691.2 718.7L691.9 719.1L692.6 718.9L693.3 720.9L694.0 719.4L694.7 718.8L695.4 720.2L696.1 721.0L696.8 720.5L697.5 720.1L698.2 719.4L698.9 719.5L699.6 719.2L700.3 720.5L701.0 720.5L701.7 719.7L702.4 720.6L703.1 720.0L703.8 720.1L704.5 719.0L705.2 718.8L705.9 718.8L706.6 720.5L707.3 720.2L708.0 720.4L708.7 720.1L709.4 720.0L710.1 718.9L710.8 719.7L711.5 718.0L712.2 719.1L712.9 717.3L713.6 719.6L714.3 719.1L715.0 717.0L715.7 718.3L716.4 718.1L717.1 715.7L717.8 716.7L718.5 715.8L719.2 715.8L719.9 715.9L720.6 714.7L721.3 712.6L722.0 712.7M739.5 713.0L740.2 712.1L740.9 712.9L741.6 713.9L742.3 713.7L743.0 714.1L743.7 715.4L744.4 716.3L745.1 715.0L745.8 715.4L746.5 715.6L747.2 715.2L747.9 714.9L748.6 712.8L749.3 714.6L750.0 712.2L750.7 711.6M774.5 713.5L775.2 714.5L775.9 715.6L776.6 715.0L777.3 717.2L778.0 716.8L778.7 717.8L779.4 717.2L780.1 716.4L780.8 716.5L781.5 718.4L782.2 718.1L782.9 718.3L783.6 718.2L784.3 718.0L785.0 718.9L785.7 718.4L786.4 720.2L787.1 718.5L787.8 720.6L788.5 720.4L789.2 719.3L789.9 720.4L790.6 719.9L791.3 719.7L792.0 720.7L792.7 720.8L793.4 719.2L794.1 721.1L794.8 718.8L795.5 718.8L796.2 720.1L796.9 719.7L797.6 720.0L798.3 720.2L799.0 720.2L799.7 721.4L800.4 721.4L801.1 719.9L801.8 719.8L802.5 720.8L803.2 719.6L803.9 720.2L804.6 721.0L805.3 719.2L806.0 721.2L806.7 721.1L807.4 720.2L808.1 719.8L808.8 720.6L809.5 719.9L810.2 721.3L810.9 720.7L811.6 719.9L812.3 721.2L813.0 720.7L813.7 719.4L814.4 720.2L815.1 720.3L815.8 721.5L816.5 719.8L817.2 720.1L817.9 721.5L818.6 720.0L819.3 721.0L820.0 719.0L820.7 719.7L821.4 719.1L822.1 720.8L822.8 719.8L823.5 718.8L824.2 718.4L824.9 719.1L825.6 718.0L826.3 718.8L827.0 719.2L827.7 717.9L828.4 717.2L829.1 717.3L829.8 716.4L830.5 717.6L831.2 715.2L831.9 716.3L832.6 714.7L833.3 715.1L834.0 714.7L834.7 712.7L835.7 714.1L836.8 714.9L837.5 714.3L838.2 715.0L838.9 714.7L839.6 714.9L840.3 717.0L841.0 717.7L841.7 716.6L842.4 716.8L843.1 717.8L843.8 718.8L844.5 718.4L845.2 720.2L845.9 720.0L846.6 720.5L847.3 719.9L848.0 720.4L848.7 721.0L849.4 718.8L850.1 720.3L850.8 719.4L851.5 721.0L852.2 719.7L852.9 721.0L853.6 720.0L854.3 720.9L855.0 721.0L855.7 721.7L856.4 721.6L857.1 720.5L857.8 721.2L858.5 719.9L859.2 719.7L859.9 721.4L860.6 721.9L861.3 721.5L862.0 720.9L862.7 721.2L863.4 721.5L864.1 721.1L864.8 720.6L865.5 721.9L866.2 720.6L866.9 722.0L867.6 721.8L868.3 721.7L869.0 721.9L869.7 722.3L870.4 722.3L871.1 721.0L871.8 720.7L872.5 721.6L873.2 722.2L873.9 721.4L874.6 719.8L875.3 719.9L876.0 721.0L876.7 721.8L877.4 722.1L878.1 720.8L878.8 721.1L879.5 721.1L880.2 720.0L880.9 719.8L881.6 721.1L882.3 721.1L883.0 722.0L883.7 720.3L884.4 722.0L885.1 720.5L885.8 721.2L886.5 721.6L887.2 720.2L887.9 722.2L888.6 722.3L889.3 722.3L890.0 719.8L890.7 721.4L891.4 721.5L892.1 722.0L892.8 720.3L893.5 720.1L894.2 721.9L894.9 720.5L895.6 720.0L896.3 720.0L897.0 721.4L897.7 721.1L898.4 721.7L899.1 721.8L899.8 719.8L900.5 722.1L901.2 722.0L901.9 722.1L902.6 721.7L903.3 720.7L904.0 720.3L904.7 722.0L905.4 720.8L906.1 720.9L906.8 721.4L907.5 721.4L908.2 721.4L908.9 721.2L909.6 720.9L910.3 721.6L911.0 720.6L911.7 720.2L912.4 721.9L913.1 721.7L913.8 721.4L914.5 719.9L915.2 719.6L915.9 721.8L916.6 721.8L917.3 720.1L918.0 721.0L918.7 719.4L919.4 720.3L920.1 721.1L920.8 720.2L921.5 721.3L922.2 721.5L922.9 719.5L923.6 720.9L924.3 720.0L925.0 719.5L925.7 719.8L926.4 720.1L927.1 721.1L927.8 720.7L928.5 718.7L929.2 718.7L929.9 721.0L930.6 719.8L931.3 719.8L932.0 719.0L932.7 720.1L933.4 719.3L934.1 719.2L934.8 718.1L935.5 719.3L936.2 717.6L936.9 717.2L937.6 718.1L938.3 718.5L939.0 716.9L939.7 716.7L940.4 716.1L941.1 717.1L941.8 717.4L942.6 715.7L943.2 716.7L943.9 716.8L944.6 715.8L945.3 717.0L946.0 716.6L946.7 716.6L947.4 718.8L948.1 716.7L948.8 717.5L949.5 718.4L950.2 718.0L950.9 717.2L951.6 719.5L952.3 718.0L953.0 718.5L953.7 719.9L954.4 720.1L955.1 720.0L955.8 718.8L956.5 719.7L957.2 720.0L957.9 718.4L958.6 720.3L959.3 718.2L960.0 719.6L960.7 718.5L961.4 718.4L962.1 718.2L962.8 720.2L963.5 718.2L964.2 720.1L964.9 718.2L965.6 718.6L966.3 718.2L967.0 720.1L967.7 717.8L968.4 719.7L969.1 718.2L969.8 719.8L970.5 719.2L971.2 717.9L971.9 718.5L972.6 717.5L973.3 718.0L974.0 717.0L974.7 718.5L975.4 718.2L976.1 717.3L976.8 716.5L977.5 718.7L978.2 716.5L978.9 716.9L979.6 716.0L980.3 716.7L981.0 716.6L981.7 716.8L982.4 716.1L983.1 715.7L983.8 716.8L984.5 715.3L985.2 715.2L985.9 715.4L986.6 714.6L987.3 715.5L988.0 713.6L988.7 713.9L989.4 713.8L990.1 713.1L990.8 714.2L991.5 712.6L992.2 712.3L992.9 712.0L993.6 712.5L994.3 710.4L995.0 711.4L995.7 711.1L996.4 708.8L997.1 707.8L997.8 708.5L998.5 706.4L999.2 705.2L999.9 703.7M1014.6 706.8L1015.3 708.7L1016.0 709.5L1016.7 709.7L1017.4 710.0L1018.1 712.0L1018.8 711.9L1019.5 713.1L1020.2 713.0L1020.9 713.4L1021.6 713.9L1022.3 712.8L1023.0 713.5L1023.7 713.4L1024.4 715.8L1025.1 716.2L1025.8 715.5L1026.5 714.7L1027.2 714.8L1027.9 715.8L1028.6 715.9L1029.3 715.6L1030.0 715.5L1030.7 717.0L1031.4 717.6L1032.1 715.9L1032.8 716.6L1033.5 716.7L1034.2 717.4L1034.9 717.7L1035.6 717.3L1036.3 718.5L1037.0 717.4L1037.7 717.3L1038.4 718.5L1039.1 718.7L1039.8 718.9L1040.5 717.2L1041.2 717.3L1041.9 718.0L1042.6 719.2L1043.3 718.4L1044.0 718.4L1044.7 717.6L1045.4 719.3L1046.1 717.2L1046.8 718.1L1047.5 718.4L1048.2 718.6L1048.9 718.6L1049.6 717.4L1050.3 717.0L1051.0 718.6L1051.7 717.4L1052.4 716.6L1053.1 716.0L1053.8 717.4L1054.5 717.2L1055.2 716.2L1055.9 715.4L1056.6 715.6L1057.3 716.0L1058.0 714.4L1058.7 714.4L1059.4 714.0L1060.1 713.0L1060.8 711.6M1069.2 711.2L1069.9 713.2L1070.6 714.2L1071.3 715.2L1072.0 713.8L1072.7 714.2L1073.4 716.0L1074.1 716.8L1074.8 715.4L1075.5 717.0L1076.2 716.5L1076.9 718.5L1077.6 717.2L1078.3 716.7L1079.0 718.6L1079.7 717.5L1080.4 717.9L1081.1 717.3L1081.8 717.9L1082.5 717.5L1083.2 717.8L1083.9 718.7L1084.6 718.0L1085.3 718.9L1086.0 719.5L1086.7 718.7L1087.4 717.3L1088.1 719.5L1088.8 717.6L1089.5 717.9L1090.2 718.2L1090.9 718.3L1091.6 717.5L1092.3 717.6L1093.0 717.9L1093.7 717.2L1094.4 716.5L1095.1 716.5L1095.8 716.1L1096.5 715.4L1097.2 715.6L1097.9 714.8L1098.6 713.8L1099.3 713.6M1130.8 714.4L1131.5 714.9L1132.2 714.9L1132.9 717.0L1133.6 715.5L1134.3 717.7L1135.0 717.2L1135.7 717.5L1136.4 718.8L1137.1 718.6L1137.8 719.6L1138.5 719.6L1139.2 718.0L1139.9 719.1L1140.6 719.8L1141.3 718.3L1142.0 719.5L1142.7 720.7L1143.4 719.0L1144.1 718.8L1144.8 719.3L1145.5 719.5L1146.2 719.4L1146.9 719.8L1147.6 720.8L1148.3 720.1L1149.0 720.3L1149.7 719.2L1150.4 719.1L1151.1 721.2L1151.8 719.8L1152.5 721.2L1153.2 719.8L1153.9 720.5L1154.6 720.6L1155.3 719.2L1156.0 719.2L1156.7 720.0L1157.4 719.3L1158.1 719.6L1158.8 719.4L1159.5 719.6L1160.2 719.9L1160.9 719.5L1161.6 719.5L1162.3 719.7L1163.0 720.1L1163.7 718.6L1164.4 720.6L1165.1 719.2L1165.8 720.2L1166.5 718.0L1167.2 717.9L1167.9 717.8L1168.6 719.4L1169.3 718.0L1170.0 718.7L1170.7 718.0L1171.4 716.3L1172.1 716.5L1172.8 715.9L1173.5 715.7L1174.2 715.8L1174.9 713.7L1175.6 714.9L1176.3 713.3L1177.0 712.4M1181.9 712.8L1182.6 712.5L1183.3 714.0L1184.0 714.1L1184.7 714.8L1185.4 714.9L1186.1 715.5L1186.8 717.3L1187.5 717.2L1188.2 717.3L1188.9 718.4L1189.6 719.0L1190.3 717.8L1191.0 719.8L1191.7 718.1L1192.4 719.5L1193.1 719.0L1193.8 719.1L1194.5 719.8L1195.2 720.1L1195.9 719.9L1196.6 720.6L1197.3 721.1L1198.0 719.7L1198.7 719.9L1199.4 720.7L1200.1 720.4L1200.8 720.3L1201.5 720.7L1202.2 721.1L1202.9 721.6L1203.6 721.7L1204.3 721.5L1205.0 720.7L1205.7 721.7L1206.4 721.4L1207.1 720.4L1207.8 721.9L1208.5 720.6L1209.2 721.5L1209.9 721.5L1210.6 721.9L1211.3 721.5L1212.0 722.1L1212.7 720.5L1213.4 720.5L1214.1 720.8L1214.8 721.4L1215.5 721.2L1216.2 720.6L1216.9 720.8L1217.6 721.5L1218.3 721.2L1219.0 721.8L1219.7 721.4L1220.4 722.1L1221.1 721.9L1221.8 721.4L1222.5 721.2L1223.2 721.0L1223.9 721.1L1224.6 721.2L1225.3 721.3L1226.0 721.0L1226.7 721.5L1227.4 720.9L1228.1 722.1L1228.8 721.6L1229.5 720.9L1230.2 721.3L1230.9 721.2L1231.6 721.0L1232.3 721.5L1233.0 721.1L1233.7 721.0L1234.4 721.9L1235.1 721.5L1235.8 721.8L1236.5 721.5L1237.2 721.6L1237.9 721.3L1238.6 721.5L1239.3 721.6L1240.0 721.4L1240.7 722.1L1241.4 721.2L1242.1 721.2L1242.8 721.4L1243.5 722.0L1244.2 722.1L1244.9 721.7L1245.6 721.4L1246.3 721.8L1247.0 722.1L1247.7 721.2L1248.4 721.8L1249.1 721.9L1249.8 721.4L1250.5 721.1L1251.2 721.7L1251.9 721.2L1252.6 721.4L1253.3 721.6L1254.0 722.2L1254.7 721.1L1255.4 721.0L1256.1 721.6L1256.8 722.2L1257.5 720.9L1258.2 721.7L1258.9 720.8L1259.6 721.6L1260.3 720.9L1261.0 721.7L1261.7 721.3L1262.4 721.6L1263.1 721.1L1263.8 720.8L1264.5 720.9L1265.2 721.0L1265.9 720.9L1266.6 720.9L1267.3 721.3L1268.0 721.2L1268.7 721.7L1269.4 721.2L1270.1 721.2L1270.8 721.4L1271.5 721.6L1272.2 721.2L1272.9 720.4L1273.6 720.9L1274.3 720.3L1275.0 721.1L1275.7 720.3L1276.4 720.9L1277.1 720.3L1277.8 721.2L1278.5 720.1L1279.2 720.8L1279.9 720.8L1280.6 720.2L1281.3 720.6L1282.0 720.1L1282.7 720.0L1283.4 719.9L1284.1 719.5L1284.8 720.4L1285.5 719.4L1286.2 719.5L1286.9 719.3L1287.6 720.2L1288.3 719.8L1289.0 719.6L1289.7 719.7L1290.4 719.9L1291.1 719.6L1291.8 719.3L1292.5 718.9L1293.2 719.1L1293.9 719.7L1294.6 719.0L1295.3 718.8L1296.0 719.3L1296.7 718.0L1297.4 717.9L1298.1 718.8L1298.8 718.9L1299.5 717.6L1300.2 717.4L1300.9 717.3L1301.6 718.0L1302.3 717.3L1303.0 717.7L1303.7 717.8L1304.4 716.8L1305.1 717.8L1305.8 716.9L1306.5 717.2L1307.2 716.8L1307.9 716.7L1308.6 716.7L1309.3 716.0L1310.0 716.5L1310.7 716.2L1311.4 716.2L1312.1 715.8L1312.8 716.0L1313.5 716.4L1314.2 716.7L1314.9 715.5L1315.6 716.3L1316.3 715.9L1317.0 715.1L1317.7 714.9L1318.4 716.0L1319.1 715.1L1319.8 714.8L1320.5 715.5L1321.2 715.5L1321.9 715.7L1322.6 715.1L1323.3 714.8L1324.0 714.8L1324.7 714.6L1325.4 715.1L1326.1 715.5L1326.8 714.3L1327.5 714.7L1328.2 714.6L1328.9 714.2L1329.6 715.0L1330.3 715.5L1331.0 714.5L1331.7 715.1L1332.4 715.4L1333.1 714.5L1333.8 715.4L1334.5 715.2L1335.2 715.1L1335.9 714.5L1336.6 714.7L1337.3 714.5L1338.0 715.6L1338.7 715.5L1339.4 714.6L1340.1 715.3L1340.8 714.9L1341.5 715.7L1342.2 715.5L1342.9 716.1L1343.6 715.9L1344.3 715.1L1345.0 715.5L1345.7 715.9L1346.4 716.5L1347.1 715.8L1347.8 715.6L1348.5 715.8L1349.2 715.9L1349.9 715.9L1350.6 716.2L1351.3 716.2L1352.0 716.7L1352.7 717.3L1353.4 717.5L1354.1 716.5L1354.8 717.2L1355.5 717.4L1356.2 716.8L1356.9 717.4L1357.6 717.1L1358.3 717.4L1359.0 717.5L1359.7 718.3L1360.4 717.5L1361.1 718.1L1361.8 718.2L1362.5 718.0L1363.2 718.9L1363.9 718.2L1364.6 718.3L1365.3 718.9L1366.0 718.7L1366.7 719.2L1367.4 718.4L1368.1 718.5L1368.8 719.5L1369.5 719.1L1370.2 719.8L1370.9 719.0L1371.6 719.1L1372.3 720.1L1373.0 719.4L1373.7 719.2L1374.4 719.4L1375.1 720.2L1375.8 719.6L1376.5 720.1L1377.2 720.5L1377.9 720.3L1378.6 720.6L1379.3 720.9L1380.0 720.0L1380.7 720.9L1381.4 720.5L1382.1 720.1L1382.8 720.0L1383.5 720.3L1384.2 720.1L1384.9 721.0L1385.6 720.8L1386.3 720.1L1387.0 721.3L1387.7 720.9L1388.4 720.7L1389.1 720.3L1389.8 720.8L1390.5 721.5L1391.2 721.0L1391.9 720.8L1392.6 721.1L1393.3 721.0L1394.0 721.1L1394.7 720.5L1395.4 720.4L1396.1 720.2L1396.8 721.4L1397.5 720.2L1398.2 720.5L1398.9 721.0L1399.6 720.8L1400.3 721.4L1401.0 720.4L1401.7 720.2L1402.4 720.2L1403.1 720.6L1403.8 720.3L1404.5 720.4L1405.2 720.7L1405.9 720.1L1406.6 720.4L1407.3 719.4L1408.0 720.0L1408.7 720.4L1409.4 720.3L1410.1 719.6L1410.8 719.9L1411.5 718.7L1412.2 718.5L1412.9 718.5L1413.6 718.3L1414.3 718.4L1415.0 717.6L1415.7 716.8L1416.4 717.5L1417.1 716.6L1417.8 717.4L1418.5 716.3L1418.9 716.4L1419.9 716.3L1420.6 716.7L1421.3 717.3L1422.0 717.0L1422.7 717.0L1423.4 718.0L1424.1 718.5L1424.8 717.9L1425.5 718.6L1426.2 718.3L1426.9 718.5L1427.6 719.2L1428.3 719.2L1429.0 720.2L1429.7 719.1L1430.4 720.2L1431.1 720.4L1431.8 720.0L1432.5 720.2L1433.2 719.9L1433.9 720.0L1434.6 719.8L1435.3 721.0L1436.0 719.8L1436.7 720.0L1437.4 720.8L1438.1 720.4L1438.8 720.5L1439.5 720.2L1440.2 720.0L1440.9 720.8L1441.6 719.8L1442.3 720.0L1443.0 720.6L1443.7 719.8L1444.4 720.6L1445.1 719.4L1445.8 719.8L1446.5 719.7L1447.2 719.5L1447.9 719.7L1448.6 718.5L1449.3 719.1L1450.0 719.3L1450.7 718.2L1451.4 718.8L1452.1 718.6L1452.5 718.5L1453.5 718.8L1454.2 719.0L1454.9 719.2L1455.6 719.7L1456.3 719.5L1457.0 720.2L1457.7 719.9L1458.4 719.5L1459.1 719.5L1459.8 719.5L1460.5 719.9L1461.2 719.9L1461.9 720.8L1462.6 720.9L1463.3 720.9L1464.0 720.7L1464.7 720.8L1465.4 720.6L1466.1 721.6L1466.8 720.4L1467.5 720.9L1468.2 721.3L1468.9 720.8L1469.6 721.8L1470.3 721.3L1471.0 721.2L1471.7 720.8L1472.4 721.1L1473.1 721.6L1473.8 721.2L1474.5 720.9L1475.2 721.6L1475.9 721.3L1476.6 722.0L1477.3 721.8L1478.0 721.9L1478.7 722.2L1479.4 722.1L1480.1 721.4L1480.8 721.7L1481.5 721.3L1482.2 721.3L1482.9 721.3L1483.6 721.1L1484.3 721.3L1485.0 721.3L1485.7 722.0L1486.4 721.4L1487.1 721.1L1487.8 721.6L1488.5 721.3L1489.2 722.0L1489.9 721.4L1490.6 721.8L1491.3 721.3L1492.0 721.8L1492.7 722.3L1493.4 721.5L1494.1 721.8L1494.8 721.7L1495.5 721.2L1496.2 721.1L1496.9 722.3L1497.6 721.6L1498.3 722.1L1499.0 721.7L1499.7 722.3L1500.4 721.4L1501.1 721.8L1501.8 721.9L1502.5 722.2L1503.2 721.2L1503.9 721.7L1504.6 721.8L1505.3 722.0L1506.0 721.3L1506.7 721.9L1507.4 722.1L1508.1 722.2L1508.8 721.5L1509.5 721.8L1510.2 721.6L1510.9 721.7L1511.6 721.7L1512.3 722.5L1513.0 721.2L1513.7 722.5L1514.4 721.2L1515.1 721.3L1515.8 721.5L1516.5 721.6L1517.2 722.4L1517.9 722.4L1518.6 722.5L1519.3 721.7L1520.0 721.2L1520.7 722.1L1521.4 722.4L1522.1 721.3L1522.8 722.4L1523.5 721.2L1524.2 722.2L1524.9 721.9" fill="none" stroke="#0000D4" stroke-width="9.5" stroke-linejoin="round" stroke-linecap="butt"/>
<path d="M302.7 710.1L303.4 709.5L304.1 708.7L304.8 707.9L305.5 706.9L306.2 705.7L306.9 704.3L307.6 702.6L308.3 700.6L309.0 698.2L309.7 695.1L310.4 691.4L311.1 686.7L311.8 680.8L312.5 673.3L313.2 663.9L313.9 652.2L314.6 638.2L315.3 622.9L316.0 608.7L316.7 599.6L317.1 598.1L318.1 607.1L318.8 620.8L319.5 636.2L320.2 650.5L320.9 662.6L321.6 672.3L322.3 680.1L323.0 686.3L323.7 691.1L324.4 695.0L325.1 698.2L325.8 700.7L326.5 702.8L327.2 704.6L327.9 706.1L328.6 707.3L329.3 708.4L330.0 709.3L330.7 710.1L331.4 710.7L332.1 711.3M518.3 715.8L519.0 715.2L519.7 714.3L520.4 713.3L521.1 712.1L521.8 710.6L522.5 708.8L523.2 706.5L523.9 703.9L524.6 701.0L525.3 698.0L526.0 695.5L527.0 693.9L528.1 695.8L528.8 698.4L529.5 701.4L530.2 704.3L530.9 706.8L531.6 709.0L532.3 710.8L533.0 712.2L533.7 713.4L534.4 714.4L535.1 715.2M610.0 711.0L610.7 710.2L611.4 709.3L612.1 708.3L612.8 707.1L613.5 705.7L614.2 704.1L614.9 702.2L615.6 699.9L616.3 697.1L617.0 693.6L617.7 689.3L618.4 684.0L619.1 677.2L619.8 668.7L620.5 658.4L621.2 646.7L621.9 635.4L623.0 625.2L624.0 628.9L624.7 636.0L625.4 643.3L626.1 648.7L626.8 651.5L627.5 651.6L628.2 650.2L628.9 649.0L629.6 650.0L630.3 654.6L631.0 661.8L631.7 669.8L632.4 677.4L633.1 683.8L633.8 689.0L634.5 693.1L635.2 696.4L635.9 699.1L636.6 701.2L637.3 702.9L638.0 704.4L638.7 705.5L639.4 706.5L640.1 707.2L640.8 707.8L641.5 708.3L642.2 708.7L642.9 709.0M651.3 710.9L652.0 710.8L652.7 710.6L653.4 710.3L654.1 709.9L654.8 709.5L655.5 708.9L656.2 708.4L656.9 707.9L657.6 707.4L658.3 707.1L659.3 707.1L659.7 707.2L660.4 707.6L661.1 708.2L661.8 709.0L662.5 709.8L663.2 710.7L663.9 711.5L664.6 712.3L665.3 713.1L666.0 713.8M719.9 714.8L720.6 714.2L721.3 713.4L722.0 712.5L722.7 711.5L723.4 710.4L724.1 709.2L724.8 707.7L725.5 706.0L726.2 703.9L726.9 701.4L727.6 698.3L728.3 694.5L729.0 690.5L730.1 687.1L731.1 689.9L731.8 693.7L732.5 697.5L733.2 700.6L733.9 703.2L734.6 705.2L735.3 706.9L736.0 708.3L736.7 709.5L737.4 710.5L738.1 711.4L738.8 712.1L739.5 712.8L740.2 713.4L740.9 713.9L741.6 714.2M748.6 714.1L749.3 713.7L750.0 713.1L750.7 712.4L751.4 711.6L752.1 710.6L752.8 709.5L753.5 708.1L754.2 706.5L754.9 704.7L755.6 702.7L756.3 700.4L757.0 697.9L757.7 695.0L758.4 691.4L759.1 687.0L759.8 681.4L760.5 674.3L761.2 665.7L761.9 656.5L762.6 648.2L763.6 643.0L764.7 650.2L765.4 659.5L766.1 669.4L766.8 678.4L767.5 686.0L768.2 692.2L768.9 697.0L769.6 700.9L770.3 704.0L771.0 706.4L771.7 708.4L772.4 710.1L773.1 711.4L773.8 712.5L774.5 713.5L775.2 714.3L775.9 715.0L776.6 715.5M997.8 707.8L998.5 706.9L999.2 705.9L999.9 704.7L1000.6 703.4L1001.3 701.9L1002.0 700.2L1002.7 698.2L1003.4 696.1L1004.1 693.8L1004.8 691.5L1005.5 689.5L1006.2 688.1L1007.0 687.5L1007.6 688.0L1008.3 689.3L1009.0 691.2L1009.7 693.6L1010.4 696.0L1011.1 698.2L1011.8 700.3L1012.5 702.2L1013.2 703.9L1013.9 705.3L1014.6 706.5L1015.3 707.6L1016.0 708.6L1016.7 709.4M1058.7 713.7L1059.4 713.0L1060.1 712.3L1060.8 711.6L1061.5 710.9L1062.2 710.2L1062.9 709.6L1063.6 709.1L1064.3 708.8L1064.9 708.8L1065.7 708.9L1066.4 709.3L1067.1 709.8L1067.8 710.5L1068.5 711.2L1069.2 711.9L1069.9 712.7L1070.6 713.4L1071.3 714.0M1097.2 715.4L1097.9 714.8L1098.6 714.0L1099.3 713.1L1100.0 712.0L1100.7 710.7L1101.4 709.0L1102.1 707.0L1102.8 704.5L1103.5 701.5L1104.2 698.0L1104.9 694.0L1105.6 689.9L1106.3 686.3L1107.0 684.0L1107.4 683.6L1108.4 685.6L1109.1 688.8L1109.8 692.7L1110.5 696.5L1111.2 699.9L1111.9 702.7L1112.6 705.0L1113.3 706.7L1114.0 708.0L1114.7 709.0L1115.4 709.6L1116.1 709.9L1116.8 710.0L1117.5 709.9L1118.2 709.5L1118.9 708.9L1119.6 708.0L1120.3 706.9L1121.0 705.6L1121.7 704.2L1122.4 702.9L1123.1 701.9L1123.8 701.4L1124.2 701.3L1125.2 702.2L1125.9 703.5L1126.6 705.1L1127.3 706.9L1128.0 708.6L1128.7 710.1L1129.4 711.5L1130.1 712.7L1130.8 713.7L1131.5 714.6L1132.2 715.3L1132.9 715.9M1174.9 714.6L1175.6 714.0L1176.3 713.3L1177.0 712.7L1177.7 712.2L1178.4 711.8L1179.1 711.5L1179.7 711.5L1180.5 711.6L1181.2 711.9L1181.9 712.4L1182.6 713.0L1183.3 713.6L1184.0 714.2" fill="none" stroke="#0000D4" stroke-width="9.5" stroke-linejoin="miter" stroke-miterlimit="1.42" stroke-linecap="butt"/>
<path d="M165.5 513.4L168.3 513.4L171.1 513.5L173.9 513.6L176.7 513.6L179.5 513.7L182.3 513.8L185.1 513.8L187.9 513.9L190.7 514.0L193.5 514.0L196.3 514.1L199.1 514.2L201.9 514.2L204.7 514.3L207.5 514.4L210.3 514.4L213.1 514.5L215.9 514.5L218.7 514.6L221.5 514.7L224.3 514.7L227.1 514.8L229.9 514.8L232.7 514.9L235.5 514.9L238.3 515.0L241.1 515.0L243.9 515.1L246.7 515.1L249.5 515.2L252.3 515.2L255.1 515.2L257.9 515.3L260.7 515.3L263.5 515.3L266.3 515.3L269.1 515.4L271.9 515.4L274.7 515.4L277.5 515.3L280.3 515.3L283.1 515.2L285.9 515.1L288.7 514.8L291.5 514.5L294.3 513.9L297.1 512.8L299.9 510.7L301.3 508.8L302.0 507.4L302.7 505.6L303.4 503.1L304.1 499.4L304.8 493.6L305.5 484.5L306.2 470.3L306.9 449.2L307.6 421.0L308.3 388.9L309.4 359.5L310.4 384.6L311.1 416.5L311.8 445.7L312.5 467.8L313.2 483.0L313.9 492.8L314.6 498.9L315.3 502.8L316.0 505.5L316.7 507.4L317.4 508.9L320.2 512.3L323.0 513.9L325.8 514.8L328.6 515.4L331.4 515.7L334.2 516.0L337.0 516.2L339.8 516.4L342.6 516.5L345.4 516.6L348.2 516.7L351.0 516.8L353.8 516.8L356.6 516.9L359.4 516.9L362.2 517.0L365.0 517.0L367.8 517.0L370.6 517.0L373.4 517.0L376.2 517.0L379.0 517.0L381.8 517.0L384.6 517.0L387.4 517.0L390.2 516.9L393.0 516.8L395.8 516.6L398.6 516.4L401.4 515.9L404.2 514.9L407.0 512.5L407.7 511.3L408.4 509.6L409.1 506.9L409.8 502.7L410.5 496.3L411.2 487.1L411.9 475.3L412.6 462.2L413.7 450.5L414.7 460.5L415.4 473.4L416.1 485.6L416.8 495.2L417.5 501.9L418.2 506.4L418.9 509.3L419.6 511.2L421.7 514.0L424.5 515.5L427.3 516.3L430.1 516.7L432.9 517.0L435.7 517.1L438.5 517.2L441.3 517.3L444.1 517.4L446.9 517.4L449.7 517.5L452.5 517.5L455.3 517.5L458.1 517.6L460.9 517.6L463.7 517.6L466.5 517.6L469.3 517.6L472.1 517.6L474.9 517.6L477.7 517.6L480.5 517.6L483.3 517.6L486.1 517.6L488.9 517.7L491.7 517.7L494.5 517.7L497.3 517.7L500.1 517.6L502.9 517.6L505.7 517.6L508.5 517.6L511.3 517.6L514.1 517.6L516.9 517.6L519.7 517.6L522.5 517.6L525.3 517.6L528.1 517.5L530.9 517.5L533.7 517.5L536.5 517.4L539.3 517.3L542.1 517.3L544.9 517.1L547.7 517.0L550.5 516.7L553.3 516.4L556.1 515.7L558.9 514.4L561.7 511.2L562.4 509.7L563.1 507.3L563.8 503.6L564.5 497.8L565.2 488.8L565.9 475.8L566.6 459.0L567.3 441.3L568.2 429.6L568.7 433.5L569.4 448.6L570.1 466.5L570.8 481.8L571.5 493.0L572.2 500.5L572.9 505.3L573.6 508.3L574.3 510.3L575.7 512.6L578.5 514.7L581.3 515.7L584.1 516.1L586.9 516.3L589.7 516.3L592.5 516.2L595.3 515.9L598.1 515.3L600.9 514.3L603.7 512.0L605.1 509.7L605.8 508.0L606.5 505.5L607.2 501.7L607.9 495.6L608.6 486.0L609.3 471.6L610.0 451.7L610.7 427.7L611.4 406.0L612.0 398.4L612.8 411.3L613.5 434.7L614.2 457.9L614.9 476.2L615.6 489.1L616.3 497.5L617.0 502.8L617.7 506.2L618.4 508.4L619.1 509.9L620.5 512.0L623.3 514.0L626.1 514.8L628.9 514.9L631.7 514.5L634.5 512.9L636.6 510.3L637.3 509.1L638.0 507.7L638.7 506.3L639.4 505.2L640.3 504.7L640.8 504.9L641.5 505.7L642.2 507.0L642.9 508.4L643.6 509.8L645.7 512.8L648.5 514.9L651.3 515.8L654.1 516.3L656.9 516.5L659.7 516.5L662.5 516.3L665.3 515.9L668.1 515.0L670.9 513.6L673.7 513.6L676.5 515.0L679.3 515.9L682.1 516.4L684.9 516.5L687.7 516.5L690.5 516.2L693.3 515.4L696.1 512.7L696.8 511.1L697.5 508.7L698.2 505.3L698.9 500.7L699.6 495.2L700.3 489.5L701.3 485.4L701.7 486.2L702.4 490.3L703.1 496.0L703.8 501.4L704.5 505.9L705.2 509.1L705.9 511.4L707.3 513.9L710.1 515.7L712.9 516.3L715.7 516.6L718.5 516.6L721.3 516.5L724.1 516.3L726.9 515.9L729.7 515.2L732.5 513.7L735.3 510.3L736.0 508.7L736.7 506.3L737.4 502.9L738.1 497.7L738.8 490.3L739.5 480.0L740.2 466.7L740.9 451.3L741.6 436.7L742.5 427.8L743.0 430.7L743.7 442.5L744.4 458.1L745.1 472.8L745.8 484.8L746.5 493.8L747.2 500.2L747.9 504.6L748.6 507.5L749.3 509.5L750.0 511.0L752.1 513.5L754.9 515.2L757.7 516.0L760.5 516.5L763.3 516.8L766.1 517.1L768.9 517.2L771.7 517.3L774.5 517.4L777.3 517.4L780.1 517.5L782.9 517.5L785.7 517.5L788.5 517.5L791.3 517.4L794.1 517.3L796.9 517.2L799.7 516.9L802.5 516.4L805.3 514.9L807.4 511.4L808.1 509.4L808.8 507.0L809.5 504.3L810.2 501.7L811.3 499.7L812.3 501.4L813.0 503.9L813.7 506.6L814.4 509.1L815.1 511.1L817.2 514.8L820.0 516.3L822.8 516.9L825.6 517.1L828.4 517.2L831.2 517.2L834.0 517.1L836.8 516.9L839.6 516.5L842.4 515.4L845.2 511.8L845.9 509.6L846.6 506.4L847.3 502.0L848.0 496.5L848.7 490.6L849.4 486.0L849.9 484.8L850.8 488.3L851.5 494.0L852.2 499.8L852.9 504.7L853.6 508.4L854.3 511.0L856.4 514.7L859.2 516.3L862.0 516.9L864.8 517.2L867.6 517.4L870.4 517.5L873.2 517.5L876.0 517.6L878.8 517.6L881.6 517.6L884.4 517.6L887.2 517.6L890.0 517.6L892.8 517.6L895.6 517.5L898.4 517.5L901.2 517.4L904.0 517.3L906.8 517.2L909.6 517.0L912.4 516.7L915.2 516.2L918.0 515.3L920.8 513.3L922.2 511.2L922.9 509.5L923.6 506.9L924.3 502.8L925.0 496.3L925.7 486.4L926.4 472.9L927.1 456.5L927.8 441.7L928.4 436.6L929.2 445.3L929.9 461.2L930.6 477.0L931.3 489.5L932.0 498.3L932.7 504.0L933.4 507.6L934.1 509.9L934.8 511.4L937.6 514.3L940.4 515.4L943.2 516.0L946.0 516.2L948.8 516.2L951.6 516.1L954.4 516.0L957.2 515.7L960.0 515.2L962.8 514.5L965.6 513.6L968.4 512.3L971.2 510.5L973.3 509.0L974.0 508.5L974.7 508.0L975.4 507.5L976.1 507.1L976.8 506.8L977.5 506.6L978.2 506.5L978.7 506.4L979.6 506.5L980.3 506.7L981.0 507.0L981.7 507.4L982.4 507.8L983.1 508.3L983.8 508.8L985.2 509.9L988.0 511.8L990.8 513.3L993.6 514.4L996.4 515.2L999.2 515.8L1002.0 516.2L1004.8 516.5L1007.6 516.8L1010.4 516.9L1013.2 517.1L1016.0 517.2L1018.8 517.3L1021.6 517.4L1024.4 517.4L1027.2 517.5L1030.0 517.5L1032.8 517.6L1035.6 517.6L1038.4 517.6L1041.2 517.6L1044.0 517.6L1046.8 517.6L1049.6 517.5L1052.4 517.5L1055.2 517.4L1058.0 517.2L1060.8 517.0L1063.6 516.5L1066.4 515.6L1069.2 512.9L1069.9 511.2L1070.6 508.5L1071.3 504.4L1072.0 498.5L1072.7 491.0L1073.4 482.6L1074.1 475.7L1074.7 473.3L1075.5 477.1L1076.2 484.6L1076.9 492.5L1077.6 499.2L1078.3 503.9L1079.0 506.8L1079.7 508.1L1080.4 508.3L1081.1 507.5L1081.8 506.2L1082.5 504.3L1083.2 502.2L1083.9 500.0L1084.6 498.0L1085.3 496.3L1086.0 495.3L1086.6 495.1L1087.4 496.0L1088.1 498.1L1088.8 500.8L1089.5 503.9L1090.2 506.8L1090.9 509.4L1091.6 511.5L1094.4 515.2L1097.2 514.8L1099.3 511.6L1100.0 508.9L1100.7 504.6L1101.4 498.5L1102.1 491.0L1102.8 483.6L1103.6 479.6L1104.2 482.0L1104.9 488.8L1105.6 496.6L1106.3 503.2L1107.0 508.1L1107.7 511.2L1108.4 513.2L1111.2 516.0L1114.0 516.8L1116.8 517.1L1119.6 517.3L1122.4 517.4L1125.2 517.4L1128.0 517.3L1130.8 517.1L1133.6 516.6L1136.4 514.9L1138.5 510.7L1139.2 508.4L1139.9 505.7L1140.6 502.8L1141.3 500.3L1142.2 498.9L1142.7 499.4L1143.4 501.3L1144.1 504.1L1144.8 506.9L1145.5 509.5L1146.2 511.6L1147.6 514.5L1150.4 516.6L1153.2 517.2L1156.0 517.5L1158.8 517.6L1161.6 517.7L1164.4 517.8L1167.2 517.8L1170.0 517.9L1172.8 517.9L1175.6 517.9L1178.4 517.9L1181.2 517.9L1184.0 517.9L1186.8 517.9L1189.6 517.9L1192.4 517.9L1195.2 517.9L1198.0 517.9L1200.8 517.9L1203.6 517.9L1206.4 517.9L1209.2 517.8L1212.0 517.8L1214.8 517.7L1217.6 517.6L1220.4 517.4L1223.2 517.2L1226.0 516.7L1228.8 515.8L1231.6 513.7L1234.4 509.6L1235.1 508.5L1235.8 507.8L1236.4 507.5L1237.2 507.9L1237.9 508.8L1238.6 510.0L1240.0 512.2L1242.8 515.1L1245.6 516.3L1248.4 517.0L1251.2 517.3L1254.0 517.5L1256.8 517.6L1259.6 517.6L1262.4 517.7L1265.2 517.7L1268.0 517.7L1270.8 517.7L1273.6 517.6L1276.4 517.6L1279.2 517.5L1282.0 517.3L1284.8 517.1L1287.6 516.8L1290.4 516.2L1293.2 515.2L1296.0 513.6L1298.8 511.3L1301.4 510.0L1304.4 511.6L1307.2 513.9L1310.0 515.4L1312.8 516.3L1315.6 516.8L1318.4 517.1L1321.2 517.2L1324.0 517.3L1326.8 517.3L1329.6 517.3L1332.4 517.1L1335.2 516.6L1338.0 515.4L1340.8 513.8L1343.6 514.8L1346.4 516.2L1349.2 516.9L1352.0 517.1L1354.8 517.2L1357.6 517.1L1360.4 516.8L1363.2 516.2L1366.0 514.8L1368.8 511.7L1371.7 508.5L1374.4 511.4L1377.2 514.6L1380.0 516.0L1382.8 516.6L1385.6 516.7L1388.4 516.4L1391.2 515.5L1393.7 514.7L1396.8 515.9L1399.6 516.8L1402.4 517.2L1405.2 517.4L1408.0 517.5L1410.8 517.5L1413.6 517.4L1416.4 517.1L1419.2 516.6L1422.0 515.4L1424.8 513.0L1428.3 511.4L1431.1 514.3L1433.9 516.1L1436.7 516.9L1439.5 517.3L1442.3 517.5L1445.1 517.6L1447.9 517.6L1450.7 517.6L1453.5 517.5L1456.3 517.3L1459.1 516.9L1461.9 515.9L1464.7 513.7L1467.2 512.1L1470.3 514.3L1473.1 516.2L1475.9 517.1L1478.7 517.5L1481.5 517.7L1484.3 517.8L1487.1 517.9L1489.9 517.9L1492.7 518.0L1495.5 518.0L1498.3 518.0L1501.1 518.1L1503.9 518.1L1506.7 518.1L1509.5 518.1L1512.3 518.1L1515.1 518.1L1517.9 518.1L1520.7 518.1L1523.5 518.1L1524.9 518.1" fill="none" stroke="#006411" stroke-width="5" stroke-linejoin="bevel" stroke-linecap="butt"/>
<path d="M165.5 512.9L166.2 513.3L166.9 514.8L167.6 515.1L168.3 512.8L169.0 511.7L169.7 514.8L170.4 513.3L171.1 515.4L171.8 514.6L172.5 513.0L173.2 514.9L173.9 513.8L174.6 514.4L175.3 515.1L176.0 513.9L176.7 515.4L177.4 513.3L178.1 513.2L178.8 514.2L179.5 513.3L180.2 514.5L180.9 513.9L181.6 514.7L182.3 515.1L183.0 514.1L183.7 515.4L184.4 514.9L185.1 515.2L185.8 512.0L186.5 512.0L187.2 514.4L187.9 513.3L188.6 515.4L189.3 513.5L190.0 514.9L190.7 513.0L191.4 514.5L192.1 515.6L192.8 515.4L193.5 513.5L194.2 514.0L194.9 514.2L195.6 513.5L196.3 514.0L197.0 515.9L197.7 515.6L198.4 513.4L199.1 514.9L199.8 515.9L200.5 513.7L201.2 515.6L201.9 515.4L202.6 515.7L203.3 512.7L204.0 515.9L204.7 516.1L205.4 513.3L206.1 514.8L206.8 512.8L207.5 514.7L208.2 515.2L208.9 515.3L209.6 515.8L210.3 513.6L211.0 513.0L211.7 515.6L212.4 512.7L213.1 513.5L213.8 513.5L214.5 515.5L215.2 514.3L215.9 515.8L216.6 515.2L217.3 515.9L218.0 515.7L218.7 516.0L219.4 513.8L220.1 514.1L220.8 515.1L221.5 515.0L222.2 515.7L222.9 515.8L223.6 514.0L224.3 513.3L225.0 515.6L225.7 515.4L226.4 513.9L227.1 513.1L227.8 513.0L228.5 513.9L229.2 514.0L229.9 513.7L230.6 513.2L231.3 513.6L232.0 514.3L232.7 513.4L233.4 513.8L234.1 514.7L234.8 516.2L235.5 516.3L236.2 514.6L236.9 513.6L237.6 514.1L238.3 515.6L239.0 514.6L239.7 515.3L240.4 515.9L241.1 515.6L241.8 516.4L242.5 513.5L243.2 514.3L243.9 513.4L244.6 515.2L245.3 515.5L246.0 514.2L246.7 513.5L247.4 515.0L248.1 513.9L248.8 514.0L249.5 514.7L250.2 516.8L250.9 514.7L251.6 515.9L252.3 514.7L253.0 514.9L253.7 513.9L254.4 514.1L255.1 516.2L255.8 515.0L256.5 514.5L257.2 517.0L257.9 516.6L258.6 514.4L259.3 515.1L260.0 515.5L260.7 514.1L261.4 515.1L262.1 514.5L262.8 516.4L263.5 513.9L264.2 517.1L264.9 514.4L265.6 514.7L266.3 513.8L267.0 516.8L267.7 516.5L268.4 513.8L269.1 515.5L269.8 515.0L270.5 515.7L271.2 514.8L271.9 517.0L272.6 514.4L273.3 516.5L274.0 514.5L274.7 515.9L275.4 515.1L276.1 515.4L276.8 515.4L277.5 515.8L278.2 513.8L278.9 513.8L279.6 516.9L280.3 514.4L281.0 514.8L281.7 514.3L282.4 515.7L283.1 516.9L283.8 514.8L284.5 514.5L285.2 514.6L285.9 513.4L286.6 513.6L287.3 513.4L288.0 514.3L288.7 516.5L289.4 513.5L290.1 514.9L290.8 513.6L291.5 512.9L292.2 515.5L292.9 513.0L293.6 512.8L294.3 515.0L295.0 512.8L295.7 512.4L296.4 514.7L297.1 511.8L297.8 513.6L298.5 511.3L299.2 511.6L299.9 510.0L300.6 509.3L301.3 510.2M317.4 510.1L318.1 509.0L318.8 511.6L319.5 510.6L320.2 511.7L320.9 511.5L321.6 513.6L322.3 514.2L323.0 514.6L323.7 515.0L324.4 514.1L325.1 513.7L325.8 513.4L326.5 514.8L327.2 516.3L327.9 515.1L328.6 515.7L329.3 516.6L330.0 516.6L330.7 516.3L331.4 516.0L332.1 515.1L332.8 516.6L333.5 515.7L334.2 516.6L334.9 515.3L335.6 517.3L336.3 515.3L337.0 517.0L337.7 517.3L338.4 515.4L339.1 517.3L339.8 516.7L340.5 516.7L341.2 515.8L341.9 516.0L342.6 515.8L343.3 516.4L344.0 516.9L344.7 517.1L345.4 517.1L346.1 516.3L346.8 516.3L347.5 517.3L348.2 517.8L348.9 516.1L349.6 516.5L350.3 516.2L351.0 517.8L351.7 515.7L352.4 517.7L353.1 517.4L353.8 516.4L354.5 517.2L355.2 516.6L355.9 517.2L356.6 516.7L357.3 517.8L358.0 516.8L358.7 517.6L359.4 517.1L360.1 516.7L360.8 517.9L361.5 516.3L362.2 517.8L362.9 517.9L363.6 517.7L364.3 517.2L365.0 517.2L365.7 517.8L366.4 516.9L367.1 517.6L367.8 517.5L368.5 517.7L369.2 516.9L369.9 517.3L370.6 516.3L371.3 516.2L372.0 516.3L372.7 517.5L373.4 516.8L374.1 517.8L374.8 516.3L375.5 516.5L376.2 517.6L376.9 516.9L377.6 516.6L378.3 517.5L379.0 516.6L379.7 517.8L380.4 516.7L381.1 517.6L381.8 517.0L382.5 517.7L383.2 516.7L383.9 517.7L384.6 516.7L385.3 516.9L386.0 517.2L386.7 517.1L387.4 517.2L388.1 517.2L388.8 516.6L389.5 516.2L390.2 517.2L390.9 517.0L391.6 517.0L392.3 516.8L393.0 517.4L393.7 516.5L394.4 517.3L395.1 516.3L395.8 516.9L396.5 517.1L397.2 516.1L397.9 516.8L398.6 516.1L399.3 515.7L400.0 516.1L400.7 516.3L401.4 515.6L402.1 516.2L402.8 514.9L403.5 514.9L404.2 514.7L404.9 514.3L405.6 513.7L406.3 512.8L407.0 512.1L407.7 511.0M419.6 511.4L420.3 512.3L421.0 513.6L421.7 513.9L422.4 514.3L423.1 514.5L423.8 514.9L424.5 516.0L425.2 515.7L425.9 515.8L426.6 515.8L427.3 516.7L428.0 516.7L428.7 516.8L429.4 517.0L430.1 516.4L430.8 517.1L431.5 516.3L432.2 517.1L432.9 516.7L433.6 517.2L434.3 516.7L435.0 516.9L435.7 517.3L436.4 517.7L437.1 517.0L437.8 516.8L438.5 516.8L439.2 517.5L439.9 517.8L440.6 516.7L441.3 517.1L442.0 517.0L442.7 517.9L443.4 516.9L444.1 516.9L444.8 517.7L445.5 518.0L446.2 517.8L446.9 517.0L447.6 517.3L448.3 517.5L449.0 517.9L449.7 517.8L450.4 517.0L451.1 517.4L451.8 517.8L452.5 517.6L453.2 517.7L453.9 518.1L454.6 518.1L455.3 517.9L456.0 517.6L456.7 517.3L457.4 517.2L458.1 517.2L458.8 517.7L459.5 517.9L460.2 518.0L460.9 518.1L461.6 517.3L462.3 517.4L463.0 517.2L463.7 517.7L464.4 518.1L465.1 517.9L465.8 517.5L466.5 517.2L467.2 518.0L467.9 518.1L468.6 517.9L469.3 517.4L470.0 517.5L470.7 517.7L471.4 518.1L472.1 517.3L472.8 517.5L473.5 517.1L474.2 517.1L474.9 517.3L475.6 518.0L476.3 517.8L477.0 517.6L477.7 517.5L478.4 517.4L479.1 518.0L479.8 517.6L480.5 517.1L481.2 517.8L481.9 518.2L482.6 517.2L483.3 518.2L484.0 517.2L484.7 517.4L485.4 518.2L486.1 518.2L486.8 517.3L487.5 517.9L488.2 517.8L488.9 517.5L489.6 518.0L490.3 517.8L491.0 517.3L491.7 517.6L492.4 517.9L493.1 517.8L493.8 517.7L494.5 517.9L495.2 517.2L495.9 517.1L496.6 517.1L497.3 517.8L498.0 517.6L498.7 518.0L499.4 518.2L500.1 517.2L500.8 517.5L501.5 517.6L502.2 517.7L502.9 518.1L503.6 517.8L504.3 517.4L505.0 517.8L505.7 517.4L506.4 517.7L507.1 517.2L507.8 517.7L508.5 517.6L509.2 517.8L509.9 517.7L510.6 517.7L511.3 517.9L512.0 517.2L512.7 517.9L513.4 517.8L514.1 517.8L514.8 517.5L515.5 517.1L516.2 518.1L516.9 518.0L517.6 518.1L518.3 517.6L519.0 518.0L519.7 518.0L520.4 517.6L521.1 518.0L521.8 517.9L522.5 517.1L523.2 517.2L523.9 517.5L524.6 517.6L525.3 517.7L526.0 517.6L526.7 518.0L527.4 517.9L528.1 517.1L528.8 517.3L529.5 518.0L530.2 517.8L530.9 517.0L531.6 517.6L532.3 517.1L533.0 517.5L533.7 518.0L534.4 517.0L535.1 517.8L535.8 517.4L536.5 518.0L537.2 517.8L537.9 516.9L538.6 517.5L539.3 517.8L540.0 517.1L540.7 517.5L541.4 517.0L542.1 516.9L542.8 517.1L543.5 517.0L544.2 517.7L544.9 516.9L545.6 517.0L546.3 517.1L547.0 517.2L547.7 517.5L548.4 517.1L549.1 517.3L549.8 516.4L550.5 516.9L551.2 516.3L551.9 517.0L552.6 516.6L553.3 515.9L554.0 516.6L554.7 516.1L555.4 515.9L556.1 515.2L556.8 515.9L557.5 515.2L558.2 515.2L558.9 513.9L559.6 514.1L560.3 513.1L561.0 512.4L561.7 511.4M574.3 510.6L575.0 512.1L575.7 512.2L576.4 513.7L577.1 513.5L577.8 513.8L578.5 514.5L579.2 514.8L579.9 515.6L580.6 515.5L581.3 515.5L582.0 516.1L582.7 516.4L583.4 516.2L584.1 516.3L584.8 516.6L585.5 516.0L586.2 516.8L586.9 515.9L587.6 515.8L588.3 516.7L589.0 516.0L589.7 516.1L590.4 516.3L591.1 515.8L591.8 516.1L592.5 516.0L593.2 515.7L593.9 516.2L594.6 515.9L595.3 515.5L596.0 516.1L596.7 515.6L597.4 515.0L598.1 515.8L598.8 515.0L599.5 514.5L600.2 514.4L600.9 514.0L601.6 513.4L602.3 513.2L603.0 512.4L603.7 511.7L604.4 511.2L605.1 509.3M619.1 509.4L619.8 510.7L620.5 511.8L621.2 512.3L621.9 513.3L622.6 514.1L623.3 514.4L624.0 514.3L624.7 514.8L625.4 515.0L626.1 515.0L626.8 515.2L627.5 514.8L628.2 515.2L628.9 515.0L629.6 515.1L630.3 515.1L631.0 514.2L631.7 514.8L632.4 513.7L633.1 513.8L633.8 513.5L634.5 513.2L635.2 511.7L635.9 511.5L636.6 510.1M643.6 509.3L644.3 510.8L645.0 512.2L645.7 512.4L646.4 513.9L647.1 513.6L647.8 514.2L648.5 514.7L649.2 514.7L649.9 515.9L650.6 516.1L651.3 516.3L652.0 515.7L652.7 516.4L653.4 516.0L654.1 516.1L654.8 516.5L655.5 516.0L656.2 515.9L656.9 516.9L657.6 516.3L658.3 516.8L659.0 516.4L659.7 516.1L660.4 516.5L661.1 516.1L661.8 516.0L662.5 515.8L663.2 516.2L663.9 515.9L664.6 515.9L665.3 516.4L666.0 516.1L666.7 515.7L667.4 515.0L668.1 515.2L668.8 514.8L669.5 514.3L670.2 513.7L670.9 513.3L671.6 513.3L672.3 513.1L673.0 513.8L673.7 513.6L674.4 514.1L675.1 514.7L675.8 514.8L676.5 514.6L677.2 515.1L677.9 516.0L678.6 515.3L679.3 515.6L680.0 516.2L680.7 516.6L681.4 516.6L682.1 516.6L682.8 516.7L683.5 516.4L684.2 516.1L684.9 516.7L685.6 516.1L686.3 516.9L687.0 516.1L687.7 516.0L688.4 517.0L689.1 516.0L689.8 516.4L690.5 515.7L691.2 516.6L691.9 515.4L692.6 515.9L693.3 515.7L694.0 514.8L694.7 514.0L695.4 513.3L696.1 512.3L696.8 511.4M705.9 511.4L706.6 513.3L707.3 514.1L708.0 514.7L708.7 514.8L709.4 515.1L710.1 516.2L710.8 516.4L711.5 516.0L712.2 516.5L712.9 516.5L713.6 516.2L714.3 516.1L715.0 516.8L715.7 517.0L716.4 517.1L717.1 516.5L717.8 516.2L718.5 516.4L719.2 516.2L719.9 517.1L720.6 516.4L721.3 516.9L722.0 516.2L722.7 516.9L723.4 516.4L724.1 516.7L724.8 516.3L725.5 516.4L726.2 515.6L726.9 515.5L727.6 515.6L728.3 516.0L729.0 515.8L729.7 515.4L730.4 515.0L731.1 514.1L731.8 514.6L732.5 513.9L733.2 513.3L733.9 512.8L734.6 511.2L735.3 510.4M750.0 511.1L750.7 512.3L751.4 512.4L752.1 513.7L752.8 514.4L753.5 514.6L754.2 514.5L754.9 515.6L755.6 515.0L756.3 515.4L757.0 516.2L757.7 516.1L758.4 516.0L759.1 516.6L759.8 516.6L760.5 516.1L761.2 516.4L761.9 517.0L762.6 517.1L763.3 516.4L764.0 516.9L764.7 517.2L765.4 516.8L766.1 516.6L766.8 517.0L767.5 517.6L768.2 517.4L768.9 516.9L769.6 517.6L770.3 517.4L771.0 517.1L771.7 517.1L772.4 517.0L773.1 517.3L773.8 517.2L774.5 517.2L775.2 517.8L775.9 517.7L776.6 517.4L777.3 517.9L778.0 517.6L778.7 517.9L779.4 517.8L780.1 517.6L780.8 517.7L781.5 517.7L782.2 517.7L782.9 517.9L783.6 517.3L784.3 517.3L785.0 517.2L785.7 517.9L786.4 517.9L787.1 517.4L787.8 517.4L788.5 517.1L789.2 517.9L789.9 517.6L790.6 517.9L791.3 517.6L792.0 517.4L792.7 517.6L793.4 517.8L794.1 517.7L794.8 517.2L795.5 517.3L796.2 517.7L796.9 517.2L797.6 517.5L798.3 517.1L799.0 517.4L799.7 516.5L800.4 516.4L801.1 516.3L801.8 516.5L802.5 516.3L803.2 516.6L803.9 516.4L804.6 515.1L805.3 515.2L806.0 514.1L806.7 513.3L807.4 511.3M815.1 511.4L815.8 512.2L816.5 513.9L817.2 514.6L817.9 515.1L818.6 515.6L819.3 516.0L820.0 516.3L820.7 516.5L821.4 516.9L822.1 517.1L822.8 517.3L823.5 517.1L824.2 516.8L824.9 517.1L825.6 517.0L826.3 516.9L827.0 517.0L827.7 516.9L828.4 517.2L829.1 516.8L829.8 517.2L830.5 517.1L831.2 516.7L831.9 517.0L832.6 517.6L833.3 517.2L834.0 516.7L834.7 517.1L835.4 517.2L836.1 516.6L836.8 516.8L837.5 516.5L838.2 516.8L838.9 516.9L839.6 516.2L840.3 515.9L841.0 515.7L841.7 515.9L842.4 515.0L843.1 515.0L843.8 514.6L844.5 513.6L845.2 512.0M854.3 510.5L855.0 512.7L855.7 513.7L856.4 514.8L857.1 515.0L857.8 515.3L858.5 516.4L859.2 516.6L859.9 516.1L860.6 516.9L861.3 516.3L862.0 516.7L862.7 517.4L863.4 517.5L864.1 517.1L864.8 517.4L865.5 517.1L866.2 517.6L866.9 517.1L867.6 517.1L868.3 517.0L869.0 517.5L869.7 517.5L870.4 517.8L871.1 517.1L871.8 517.8L872.5 517.9L873.2 517.8L873.9 517.2L874.6 517.2L875.3 517.2L876.0 517.4L876.7 517.8L877.4 517.2L878.1 517.5L878.8 517.2L879.5 517.8L880.2 517.2L880.9 517.9L881.6 517.7L882.3 517.3L883.0 517.8L883.7 517.5L884.4 517.6L885.1 517.7L885.8 517.4L886.5 517.5L887.2 517.9L887.9 517.9L888.6 517.9L889.3 517.7L890.0 517.9L890.7 517.2L891.4 518.0L892.1 517.1L892.8 517.9L893.5 517.8L894.2 517.4L894.9 517.8L895.6 518.0L896.3 517.2L897.0 517.6L897.7 517.0L898.4 517.6L899.1 517.1L899.8 517.6L900.5 517.0L901.2 517.3L901.9 517.7L902.6 517.2L903.3 517.8L904.0 517.3L904.7 517.0L905.4 517.7L906.1 516.9L906.8 517.3L907.5 517.5L908.2 517.5L908.9 517.1L909.6 516.7L910.3 516.9L911.0 516.7L911.7 516.6L912.4 516.5L913.1 516.3L913.8 516.0L914.5 516.6L915.2 515.7L915.9 516.1L916.6 515.7L917.3 515.7L918.0 515.3L918.7 514.9L919.4 514.7L920.1 514.0L920.8 513.6L921.5 512.5L922.2 511.6M934.8 511.7L935.5 512.6L936.2 513.1L936.9 513.8L937.6 513.9L938.3 514.9L939.0 515.1L939.7 515.5L940.4 515.1L941.1 515.3L941.8 515.9L942.5 516.1L943.2 515.6L943.9 515.6L944.6 515.9L945.3 516.0L946.0 515.8L946.7 515.8L947.4 515.9L948.1 515.8L948.8 515.9L949.5 515.8L950.2 516.1L950.9 516.4L951.6 516.3L952.3 516.2L953.0 516.0L953.7 515.7L954.4 515.6L955.1 515.6L955.8 516.2L956.5 516.0L957.2 515.7L957.9 515.7L958.6 515.7L959.3 515.6L960.0 515.0L960.7 515.3L961.4 515.0L962.1 514.5L962.8 514.4L963.5 514.0L964.2 514.2L964.9 514.3L965.6 513.9L966.3 513.0L967.0 512.7L967.7 512.5L968.4 512.0L969.1 511.6L969.8 511.7L970.5 510.8L971.2 510.6L971.9 509.9L972.6 510.0L973.3 509.1M983.8 508.5L984.5 509.6L985.2 509.7L985.9 510.3L986.6 510.7L987.3 511.3L988.0 511.6L988.7 512.1L989.4 512.3L990.1 513.4L990.8 513.0L991.5 513.4L992.2 513.8L992.9 513.8L993.6 514.2L994.3 514.5L995.0 514.9L995.7 515.1L996.4 515.1L997.1 515.5L997.8 515.7L998.5 515.4L999.2 515.5L999.9 516.0L1000.6 515.9L1001.3 516.4L1002.0 515.8L1002.7 516.3L1003.4 516.2L1004.1 516.2L1004.8 516.8L1005.5 516.3L1006.2 516.9L1006.9 517.0L1007.6 517.2L1008.3 516.5L1009.0 516.6L1009.7 516.5L1010.4 516.8L1011.1 517.3L1011.8 517.1L1012.5 516.8L1013.2 516.7L1013.9 517.3L1014.6 517.3L1015.3 516.7L1016.0 517.3L1016.7 517.0L1017.4 517.1L1018.1 516.9L1018.8 517.7L1019.5 517.3L1020.2 517.4L1020.9 517.1L1021.6 517.3L1022.3 517.5L1023.0 517.6L1023.7 517.8L1024.4 517.2L1025.1 517.2L1025.8 517.4L1026.5 517.3L1027.2 517.8L1027.9 517.4L1028.6 517.4L1029.3 517.5L1030.0 517.6L1030.7 517.4L1031.4 517.1L1032.1 517.7L1032.8 517.2L1033.5 517.9L1034.2 517.3L1034.9 517.4L1035.6 517.6L1036.3 517.9L1037.0 517.5L1037.7 517.6L1038.4 517.5L1039.1 517.3L1039.8 517.4L1040.5 517.9L1041.2 518.0L1041.9 517.4L1042.6 517.9L1043.3 517.2L1044.0 517.8L1044.7 517.2L1045.4 517.5L1046.1 517.5L1046.8 517.5L1047.5 517.9L1048.2 517.4L1048.9 517.1L1049.6 517.2L1050.3 517.7L1051.0 517.2L1051.7 517.1L1052.4 517.2L1053.1 517.8L1053.8 517.4L1054.5 517.1L1055.2 517.5L1055.9 517.2L1056.6 517.3L1057.3 517.7L1058.0 517.4L1058.7 517.2L1059.4 517.5L1060.1 517.1L1060.8 516.9L1061.5 517.2L1062.2 517.2L1062.9 516.9L1063.6 516.4L1064.3 516.3L1065.0 515.8L1065.7 515.7L1066.4 515.9L1067.1 515.2L1067.8 515.0L1068.5 514.2L1069.2 513.0L1069.9 511.5M1091.6 511.5L1092.3 513.2L1093.0 514.2L1093.7 514.7L1094.4 515.4L1095.1 515.0L1095.8 515.7L1096.5 515.5L1097.2 515.1L1097.9 514.2L1098.6 513.2L1099.3 511.5M1108.4 513.2L1109.1 514.2L1109.8 515.4L1110.5 515.9L1111.2 516.0L1111.9 516.5L1112.6 516.3L1113.3 516.9L1114.0 517.2L1114.7 517.0L1115.4 517.4L1116.1 517.3L1116.8 517.3L1117.5 517.2L1118.2 516.9L1118.9 517.0L1119.6 517.6L1120.3 517.1L1121.0 517.5L1121.7 517.1L1122.4 517.6L1123.1 517.8L1123.8 517.5L1124.5 517.0L1125.2 517.6L1125.9 517.4L1126.6 517.7L1127.3 517.0L1128.0 517.1L1128.7 517.6L1129.4 517.5L1130.1 517.5L1130.8 517.1L1131.5 517.2L1132.2 517.3L1132.9 516.9L1133.6 516.3L1134.3 516.1L1135.0 515.7L1135.7 515.3L1136.4 514.5L1137.1 513.9L1137.8 512.7L1138.5 511.0M1146.2 511.6L1146.9 513.0L1147.6 514.8L1148.3 515.6L1149.0 516.3L1149.7 515.9L1150.4 516.7L1151.1 516.9L1151.8 517.0L1152.5 516.8L1153.2 517.5L1153.9 517.3L1154.6 517.0L1155.3 517.3L1156.0 517.7L1156.7 517.3L1157.4 517.8L1158.1 517.4L1158.8 517.6L1159.5 517.5L1160.2 517.4L1160.9 518.0L1161.6 517.6L1162.3 518.0L1163.0 518.1L1163.7 517.6L1164.4 517.4L1165.1 517.8L1165.8 517.6L1166.5 518.1L1167.2 517.6L1167.9 518.0L1168.6 517.5L1169.3 517.7L1170.0 517.6L1170.7 518.2L1171.4 518.0L1172.1 518.0L1172.8 517.6L1173.5 517.8L1174.2 518.2L1174.9 518.0L1175.6 518.1L1176.3 517.9L1177.0 517.7L1177.7 518.3L1178.4 517.7L1179.1 517.7L1179.8 518.1L1180.5 517.6L1181.2 518.1L1181.9 518.1L1182.6 517.8L1183.3 518.0L1184.0 517.9L1184.7 517.6L1185.4 517.6L1186.1 517.8L1186.8 517.6L1187.5 517.7L1188.2 517.8L1188.9 518.0L1189.6 518.0L1190.3 517.7L1191.0 518.1L1191.7 518.2L1192.4 518.1L1193.1 518.1L1193.8 517.7L1194.5 518.2L1195.2 518.0L1195.9 517.7L1196.6 518.1L1197.3 518.0L1198.0 518.0L1198.7 517.9L1199.4 518.1L1200.1 518.1L1200.8 518.0L1201.5 517.6L1202.2 517.7L1202.9 518.3L1203.6 517.8L1204.3 518.0L1205.0 517.6L1205.7 517.9L1206.4 517.9L1207.1 518.1L1207.8 518.2L1208.5 517.8L1209.2 517.7L1209.9 517.6L1210.6 517.7L1211.3 517.7L1212.0 518.1L1212.7 517.8L1213.4 517.9L1214.1 517.9L1214.8 517.3L1215.5 517.5L1216.2 517.7L1216.9 517.3L1217.6 517.3L1218.3 517.8L1219.0 517.7L1219.7 517.2L1220.4 517.1L1221.1 517.6L1221.8 517.3L1222.5 517.1L1223.2 517.3L1223.9 517.2L1224.6 517.3L1225.3 516.5L1226.0 516.9L1226.7 516.5L1227.4 516.1L1228.1 516.1L1228.8 515.4L1229.5 515.1L1230.2 514.7L1230.9 514.6L1231.6 513.9L1232.3 512.7L1233.0 511.8L1233.7 511.0L1234.4 509.6M1238.6 509.9L1239.3 511.5L1240.0 512.3L1240.7 513.2L1241.4 514.0L1242.1 514.2L1242.8 515.0L1243.5 515.7L1244.2 515.9L1244.9 516.4L1245.6 516.2L1246.3 516.5L1247.0 516.5L1247.7 516.6L1248.4 516.7L1249.1 516.8L1249.8 516.9L1250.5 517.2L1251.2 517.2L1251.9 517.5L1252.6 517.6L1253.3 517.5L1254.0 517.6L1254.7 517.5L1255.4 517.4L1256.1 517.6L1256.8 517.7L1257.5 517.9L1258.2 517.9L1258.9 517.3L1259.6 517.7L1260.3 517.4L1261.0 517.8L1261.7 517.9L1262.4 517.8L1263.1 517.4L1263.8 517.6L1264.5 517.5L1265.2 517.8L1265.9 517.9L1266.6 517.9L1267.3 517.6L1268.0 517.8L1268.7 517.5L1269.4 518.0L1270.1 518.0L1270.8 517.3L1271.5 517.7L1272.2 517.8L1272.9 517.4L1273.6 517.3L1274.3 517.3L1275.0 517.8L1275.7 517.2L1276.4 517.5L1277.1 517.8L1277.8 517.2L1278.5 517.6L1279.2 517.4L1279.9 517.4L1280.6 517.4L1281.3 517.3L1282.0 517.6L1282.7 517.4L1283.4 517.1L1284.1 516.9L1284.8 517.1L1285.5 517.4L1286.2 517.2L1286.9 516.5L1287.6 516.7L1288.3 516.6L1289.0 516.4L1289.7 516.1L1290.4 516.0L1291.1 516.0L1291.8 516.0L1292.5 515.7L1293.2 515.4L1293.9 515.0L1294.6 514.2L1295.3 513.9L1296.0 513.5L1296.7 512.9L1297.4 512.4L1298.1 511.8L1298.8 511.2L1299.5 510.4L1300.2 510.6L1300.9 510.4L1301.4 510.1L1302.3 510.0L1303.0 510.5L1303.7 511.3L1304.4 511.7L1305.1 512.4L1305.8 513.0L1306.5 513.7L1307.2 514.0L1307.9 514.1L1308.6 514.7L1309.3 515.4L1310.0 515.1L1310.7 515.3L1311.4 515.6L1312.1 515.8L1312.8 516.0L1313.5 516.6L1314.2 516.6L1314.9 516.8L1315.6 516.8L1316.3 516.7L1317.0 517.1L1317.7 516.8L1318.4 517.0L1319.1 517.1L1319.8 517.3L1320.5 517.4L1321.2 517.3L1321.9 517.3L1322.6 517.1L1323.3 517.4L1324.0 517.6L1324.7 517.3L1325.4 517.5L1326.1 517.3L1326.8 517.3L1327.5 517.4L1328.2 517.1L1328.9 517.1L1329.6 517.0L1330.3 517.3L1331.0 517.3L1331.7 517.3L1332.4 516.9L1333.1 516.9L1333.8 516.6L1334.5 516.8L1335.2 516.5L1335.9 516.2L1336.6 515.9L1337.3 516.1L1338.0 515.4L1338.7 515.3L1339.4 514.4L1340.1 513.9L1340.8 514.0L1341.3 514.1L1342.2 513.7L1342.9 514.6L1343.6 514.8L1344.3 515.5L1345.0 515.9L1345.7 515.9L1346.4 516.5L1347.1 516.2L1347.8 516.6L1348.5 516.7L1349.2 516.7L1349.9 517.0L1350.6 517.2L1351.3 516.8L1352.0 517.1L1352.7 517.2L1353.4 517.0L1354.1 517.3L1354.8 517.0L1355.5 517.2L1356.2 517.2L1356.9 517.3L1357.6 517.4L1358.3 517.3L1359.0 517.0L1359.7 516.7L1360.4 516.6L1361.1 516.9L1361.8 516.7L1362.5 516.6L1363.2 516.4L1363.9 516.0L1364.6 515.9L1365.3 515.4L1366.0 514.9L1366.7 514.5L1367.4 513.6L1368.1 512.9L1368.8 512.0L1369.5 510.6L1370.2 509.8L1370.9 508.7L1371.7 508.5L1372.3 509.0L1373.0 509.7L1373.7 510.7L1374.4 511.6L1375.1 512.7L1375.8 513.5L1376.5 514.1L1377.2 514.4L1377.9 514.7L1378.6 515.6L1379.3 515.9L1380.0 516.2L1380.7 516.3L1381.4 516.5L1382.1 516.6L1382.8 516.6L1383.5 516.8L1384.2 516.5L1384.9 516.7L1385.6 516.8L1386.3 516.7L1387.0 516.5L1387.7 516.3L1388.4 516.5L1389.1 516.0L1389.8 516.2L1390.5 515.6L1391.2 515.7L1391.9 515.1L1392.6 515.2L1393.3 514.5L1393.7 514.5L1394.7 515.0L1395.4 515.4L1396.1 515.4L1396.8 515.9L1397.5 516.3L1398.2 516.3L1398.9 516.6L1399.6 516.9L1400.3 516.8L1401.0 516.8L1401.7 517.4L1402.4 517.0L1403.1 517.6L1403.8 517.6L1404.5 517.4L1405.2 517.7L1405.9 517.2L1406.6 517.5L1407.3 517.4L1408.0 517.4L1408.7 517.8L1409.4 517.2L1410.1 517.7L1410.8 517.2L1411.5 517.6L1412.2 517.3L1412.9 517.4L1413.6 517.6L1414.3 517.5L1415.0 517.0L1415.7 517.1L1416.4 517.1L1417.1 517.2L1417.8 516.6L1418.5 517.0L1419.2 516.8L1419.9 516.7L1420.6 515.9L1421.3 515.6L1422.0 515.7L1422.7 515.0L1423.4 514.2L1424.1 513.4L1424.8 512.8L1425.5 512.3L1426.2 511.6L1427.3 510.9L1428.3 511.7L1429.0 512.1L1429.7 512.9L1430.4 513.6L1431.1 514.3L1431.8 514.8L1432.5 515.6L1433.2 515.8L1433.9 515.9L1434.6 516.3L1435.3 516.9L1436.0 516.9L1436.7 516.7L1437.4 517.0L1438.1 517.1L1438.8 516.9L1439.5 517.6L1440.2 517.6L1440.9 517.2L1441.6 517.5L1442.3 517.4L1443.0 517.3L1443.7 517.4L1444.4 517.3L1445.1 517.7L1445.8 517.5L1446.5 517.7L1447.2 517.8L1447.9 517.7L1448.6 517.5L1449.3 517.4L1450.0 517.7L1450.7 517.7L1451.4 517.8L1452.1 517.3L1452.8 517.2L1453.5 517.7L1454.2 517.5L1454.9 517.2L1455.6 517.5L1456.3 517.0L1457.0 517.3L1457.7 517.1L1458.4 517.1L1459.1 516.6L1459.8 516.9L1460.5 516.7L1461.2 516.5L1461.9 516.0L1462.6 515.3L1463.3 515.3L1464.0 514.5L1464.7 513.9L1465.4 513.2L1466.1 512.3L1466.8 512.4L1467.2 512.2L1468.2 512.3L1468.9 512.9L1469.6 513.4L1470.3 514.3L1471.0 515.2L1471.7 515.4L1472.4 515.8L1473.1 516.4L1473.8 516.2L1474.5 516.5L1475.2 517.1L1475.9 516.8L1476.6 517.3L1477.3 517.5L1478.0 517.4L1478.7 517.2L1479.4 517.3L1480.1 517.6L1480.8 517.9L1481.5 517.8L1482.2 517.8L1482.9 517.8L1483.6 517.7L1484.3 517.9L1485.0 517.5L1485.7 517.8L1486.4 518.1L1487.1 517.7L1487.8 518.0L1488.5 518.1L1489.2 517.7L1489.9 518.2L1490.6 517.8L1491.3 518.3L1492.0 517.9L1492.7 518.1L1493.4 518.3L1494.1 518.2L1494.8 518.0L1495.5 517.8L1496.2 518.1L1496.9 518.1L1497.6 517.8L1498.3 518.0L1499.0 518.3L1499.7 518.1L1500.4 517.9L1501.1 518.1L1501.8 518.0L1502.5 518.3L1503.2 518.1L1503.9 517.8L1504.6 517.9L1505.3 517.9L1506.0 518.4L1506.7 518.0L1507.4 518.0L1508.1 518.4L1508.8 517.9L1509.5 518.2L1510.2 518.4L1510.9 518.4L1511.6 517.9L1512.3 518.1L1513.0 518.0L1513.7 518.2L1514.4 518.0L1515.1 517.9L1515.8 518.0L1516.5 517.9L1517.2 518.2L1517.9 518.0L1518.6 518.1L1519.3 518.0L1520.0 518.1L1520.7 518.0L1521.4 518.0L1522.1 518.3L1522.8 517.9L1523.5 518.2L1524.2 518.0L1524.9 517.9" fill="none" stroke="#006411" stroke-width="9.5" stroke-linejoin="round" stroke-linecap="butt"/>
<path d="M299.2 511.4L299.9 510.7L300.6 509.8L301.3 508.8L302.0 507.4L302.7 505.6L303.4 503.1L304.1 499.4L304.8 493.6L305.5 484.5L306.2 470.3L306.9 449.2L307.6 421.0L308.3 388.9L309.4 359.5L310.4 384.6L311.1 416.5L311.8 445.7L312.5 467.8L313.2 483.0L313.9 492.8L314.6 498.9L315.3 502.8L316.0 505.5L316.7 507.4L317.4 508.9L318.1 510.0L318.8 510.9L319.5 511.7M405.6 514.0L406.3 513.3L407.0 512.5L407.7 511.3L408.4 509.6L409.1 506.9L409.8 502.7L410.5 496.3L411.2 487.1L411.9 475.3L412.6 462.2L413.7 450.5L414.7 460.5L415.4 473.4L416.1 485.6L416.8 495.2L417.5 501.9L418.2 506.4L418.9 509.3L419.6 511.2L420.3 512.4L421.0 513.3L421.7 514.0M559.6 513.9L560.3 513.2L561.0 512.4L561.7 511.2L562.4 509.7L563.1 507.3L563.8 503.6L564.5 497.8L565.2 488.8L565.9 475.8L566.6 459.0L567.3 441.3L568.2 429.6L568.7 433.5L569.4 448.6L570.1 466.5L570.8 481.8L571.5 493.0L572.2 500.5L572.9 505.3L573.6 508.3L574.3 510.3L575.0 511.6L575.7 512.6L576.4 513.3M603.0 512.7L603.7 512.0L604.4 511.0L605.1 509.7L605.8 508.0L606.5 505.5L607.2 501.7L607.9 495.6L608.6 486.0L609.3 471.6L610.0 451.7L610.7 427.7L611.4 406.0L612.0 398.4L612.8 411.3L613.5 434.7L614.2 457.9L614.9 476.2L615.6 489.1L616.3 497.5L617.0 502.8L617.7 506.2L618.4 508.4L619.1 509.9L619.8 511.1L620.5 512.0L621.2 512.7M634.5 512.9L635.2 512.2L635.9 511.3L636.6 510.3L637.3 509.1L638.0 507.7L638.7 506.3L639.4 505.2L640.3 504.7L640.8 504.9L641.5 505.7L642.2 507.0L642.9 508.4L643.6 509.8L644.3 511.0L645.0 512.0L645.7 512.8M694.7 514.5L695.4 513.8L696.1 512.7L696.8 511.1L697.5 508.7L698.2 505.3L698.9 500.7L699.6 495.2L700.3 489.5L701.3 485.4L701.7 486.2L702.4 490.3L703.1 496.0L703.8 501.4L704.5 505.9L705.2 509.1L705.9 511.4L706.6 512.9L707.3 513.9L708.0 514.6M733.2 513.1L733.9 512.4L734.6 511.5L735.3 510.3L736.0 508.7L736.7 506.3L737.4 502.9L738.1 497.7L738.8 490.3L739.5 480.0L740.2 466.7L740.9 451.3L741.6 436.7L742.5 427.8L743.0 430.7L743.7 442.5L744.4 458.1L745.1 472.8L745.8 484.8L746.5 493.8L747.2 500.2L747.9 504.6L748.6 507.5L749.3 509.5L750.0 511.0L750.7 512.0L751.4 512.8L752.1 513.5M805.3 514.9L806.0 514.1L806.7 512.9L807.4 511.4L808.1 509.4L808.8 507.0L809.5 504.3L810.2 501.7L811.3 499.7L812.3 501.4L813.0 503.9L813.7 506.6L814.4 509.1L815.1 511.1L815.8 512.7L816.5 513.9L817.2 514.8M843.1 515.0L843.8 514.3L844.5 513.3L845.2 511.8L845.9 509.6L846.6 506.4L847.3 502.0L848.0 496.5L848.7 490.6L849.4 486.0L849.9 484.8L850.8 488.3L851.5 494.0L852.2 499.8L852.9 504.7L853.6 508.4L854.3 511.0L855.0 512.8L855.7 514.0L856.4 514.7M920.1 514.0L920.8 513.3L921.5 512.4L922.2 511.2L922.9 509.5L923.6 506.9L924.3 502.8L925.0 496.3L925.7 486.4L926.4 472.9L927.1 456.5L927.8 441.7L928.4 436.6L929.2 445.3L929.9 461.2L930.6 477.0L931.3 489.5L932.0 498.3L932.7 504.0L933.4 507.6L934.1 509.9L934.8 511.4L935.5 512.5L936.2 513.2L936.9 513.8M971.2 510.5L971.9 510.0L972.6 509.5L973.3 509.0L974.0 508.5L974.7 508.0L975.4 507.5L976.1 507.1L976.8 506.8L977.5 506.6L978.2 506.5L978.7 506.4L979.6 506.5L980.3 506.7L981.0 507.0L981.7 507.4L982.4 507.8L983.1 508.3L983.8 508.8L984.5 509.3L985.2 509.9L985.9 510.4M1067.8 514.7L1068.5 514.0L1069.2 512.9L1069.9 511.2L1070.6 508.5L1071.3 504.4L1072.0 498.5L1072.7 491.0L1073.4 482.6L1074.1 475.7L1074.7 473.3L1075.5 477.1L1076.2 484.6L1076.9 492.5L1077.6 499.2L1078.3 503.9L1079.0 506.8L1079.7 508.1L1080.4 508.3L1081.1 507.5L1081.8 506.2L1082.5 504.3L1083.2 502.2L1083.9 500.0L1084.6 498.0L1085.3 496.3L1086.0 495.3L1086.6 495.1L1087.4 496.0L1088.1 498.1L1088.8 500.8L1089.5 503.9L1090.2 506.8L1090.9 509.4L1091.6 511.5L1092.3 513.1L1093.0 514.2L1093.7 514.8M1097.2 514.8L1097.9 514.2L1098.6 513.3L1099.3 511.6L1100.0 508.9L1100.7 504.6L1101.4 498.5L1102.1 491.0L1102.8 483.6L1103.6 479.6L1104.2 482.0L1104.9 488.8L1105.6 496.6L1106.3 503.2L1107.0 508.1L1107.7 511.2L1108.4 513.2L1109.1 514.4L1109.8 515.1L1110.5 515.6M1136.4 514.9L1137.1 514.0L1137.8 512.6L1138.5 510.7L1139.2 508.4L1139.9 505.7L1140.6 502.8L1141.3 500.3L1142.2 498.9L1142.7 499.4L1143.4 501.3L1144.1 504.1L1144.8 506.9L1145.5 509.5L1146.2 511.6L1146.9 513.3L1147.6 514.5L1148.3 515.3M1232.3 512.9L1233.0 511.9L1233.7 510.8L1234.4 509.6L1235.1 508.5L1235.8 507.8L1236.4 507.5L1237.2 507.9L1237.9 508.8L1238.6 510.0L1239.3 511.1L1240.0 512.2L1240.7 513.2" fill="none" stroke="#006411" stroke-width="9.5" stroke-linejoin="miter" stroke-miterlimit="1.42" stroke-linecap="butt"/>
<path d="M165.5 300.8L168.3 300.9L171.1 301.1L173.9 301.2L176.7 301.3L179.5 301.4L182.3 301.5L185.1 301.7L187.9 301.8L190.7 301.9L193.5 302.0L196.3 302.1L199.1 302.2L201.9 302.3L204.7 302.4L207.5 302.5L210.3 302.5L213.1 302.5L215.9 302.3L218.7 301.8L221.5 300.6L224.3 300.6L227.1 302.0L229.9 302.8L232.7 303.1L235.5 303.3L238.3 303.3L241.1 303.2L243.9 302.9L246.7 302.1L249.5 301.4L252.3 302.0L255.1 303.1L257.9 303.7L260.7 304.1L263.5 304.3L266.3 304.4L269.1 304.4L271.9 304.3L274.7 304.1L277.5 303.8L280.3 303.4L283.1 302.7L285.9 301.8L288.7 300.4L291.5 298.3L292.2 297.5L292.9 296.7L293.6 295.7L294.3 294.6L295.0 293.4L295.7 291.9L296.4 290.2L297.1 288.2L297.8 285.8L298.5 282.9L299.2 279.4L299.9 275.2L300.6 270.0L301.3 263.6L302.0 255.7L302.7 245.8L303.4 233.5L304.1 218.4L304.8 200.5L305.5 180.8L306.2 161.5L306.9 146.8L307.6 141.2L308.3 146.8L309.0 161.5L309.7 180.9L310.4 200.7L311.1 218.5L311.8 233.6L312.5 246.0L313.2 255.9L313.9 263.9L314.6 270.3L315.3 275.5L316.0 279.8L316.7 283.3L317.4 286.2L318.1 288.6L318.8 290.7L319.5 292.4L320.2 293.9L320.9 295.2L321.6 296.4L322.3 297.3L323.0 298.2L323.7 299.0L325.1 300.3L327.9 302.1L330.7 303.4L333.5 304.3L336.3 305.0L339.1 305.5L341.9 305.9L344.7 306.3L347.5 306.5L350.3 306.8L353.1 307.0L355.9 307.1L358.7 307.3L361.5 307.4L364.3 307.6L367.1 307.7L369.9 307.8L372.7 307.9L375.5 308.0L378.3 308.1L381.1 308.1L383.9 308.2L386.7 308.3L389.5 308.4L392.3 308.4L395.1 308.5L397.9 308.6L400.7 308.6L403.5 308.7L406.3 308.8L409.1 308.8L411.9 308.9L414.7 309.0L417.5 309.0L420.3 309.1L423.1 309.1L425.9 309.2L428.7 309.2L431.5 309.3L434.3 309.3L437.1 309.3L439.9 309.3L442.7 309.3L445.5 309.4L448.3 309.3L451.1 309.3L453.9 309.3L456.7 309.3L459.5 309.2L462.3 309.1L465.1 309.0L467.9 308.8L470.7 308.6L473.5 308.1L476.3 307.4L479.1 306.1L481.9 304.0L484.7 301.8L487.5 302.1L490.3 304.3L493.1 306.1L495.9 307.1L498.7 307.6L501.5 307.8L504.3 307.7L507.1 307.4L509.9 306.7L512.7 305.4L515.5 302.8L516.9 301.2L517.6 300.4L518.3 299.7L519.3 299.3L519.7 299.3L520.4 299.6L521.1 300.2L521.8 300.9L523.9 302.9L526.7 304.4L529.5 304.8L532.3 304.2L535.1 302.8L537.2 301.0L537.9 300.2L538.6 299.4L539.3 298.4L540.0 297.4L540.7 296.3L541.4 295.2L542.1 294.1L542.8 293.2L543.5 292.4L544.2 291.8L545.0 291.6L545.6 291.7L546.3 292.1L547.0 292.8L547.7 293.7L548.4 294.7L549.1 295.8L549.8 296.9L550.5 297.9L551.2 298.8L551.9 299.7L552.6 300.4L554.7 302.3L557.5 303.8L560.3 304.6L563.1 304.9L565.9 305.0L568.7 304.8L571.5 304.5L574.3 304.0L577.1 303.4L579.9 302.7L582.7 301.8L585.5 300.8L588.3 299.5L591.1 298.0L593.9 295.9L596.7 292.9L597.4 291.8L598.1 290.7L598.8 289.3L599.5 287.7L600.2 285.7L600.9 283.4L601.6 280.5L602.3 277.0L603.0 272.6L603.7 266.9L604.4 259.8L605.1 250.8L605.8 239.8L606.5 227.0L607.2 213.9L607.9 203.5L608.6 199.4L609.3 203.5L610.0 213.9L610.7 227.0L611.4 239.8L612.1 250.8L612.8 259.8L613.5 266.9L614.2 272.5L614.9 276.9L615.6 280.4L616.3 283.2L617.0 285.5L617.7 287.4L618.4 288.9L619.1 290.2L619.8 291.3L620.5 292.2L621.2 292.9L621.9 293.5L624.7 294.6L626.8 294.2L627.5 293.9L628.2 293.4L628.9 292.9L629.6 292.4L630.3 292.1L631.3 292.2L631.7 292.4L632.4 293.2L633.1 294.1L633.8 295.3L634.5 296.5L635.2 297.6L635.9 298.7L638.7 301.9L641.5 303.9L644.3 305.3L647.1 306.4L649.9 307.1L652.7 307.8L655.5 308.3L658.3 308.7L661.1 309.1L663.9 309.3L666.7 309.6L669.5 309.7L672.3 309.9L675.1 309.9L677.9 310.0L680.7 310.0L683.5 310.0L686.3 310.0L689.1 309.9L691.9 309.8L694.7 309.7L697.5 309.5L700.3 309.3L703.1 309.1L705.9 308.8L708.7 308.4L711.5 307.9L714.3 307.3L717.1 306.5L719.9 305.6L722.7 304.4L725.5 302.9L728.3 301.0L731.1 298.8L733.9 295.9L735.3 294.2L736.0 293.3L736.7 292.3L737.4 291.1L738.1 289.8L738.8 288.4L739.5 287.0L740.2 285.3L740.9 283.4L741.6 281.2L742.3 278.7L743.0 275.6L743.7 272.2L744.4 268.2L745.1 264.0L745.8 259.8L746.5 256.0L747.2 253.0L748.3 251.3L749.3 258.5L750.0 268.1L750.7 277.3L751.4 284.7L752.1 290.3L752.8 294.5L753.5 297.7L754.2 300.0L754.9 301.8L755.6 303.3L757.0 305.3L759.8 307.6L762.6 308.8L765.4 309.5L768.2 310.0L771.0 310.3L773.8 310.5L776.6 310.7L779.4 310.8L782.2 310.9L785.0 310.9L787.8 310.9L790.6 310.9L793.4 310.9L796.2 310.7L799.0 310.5L801.8 310.1L804.6 309.4L807.4 308.3L810.6 307.4L813.7 308.3L816.5 309.4L819.3 310.2L822.1 310.6L824.9 310.9L827.7 311.0L830.5 311.1L833.3 311.2L836.1 311.2L838.9 311.2L841.7 311.1L844.5 311.0L847.3 310.7L850.1 310.3L852.9 309.6L855.7 308.6L858.2 308.1L861.3 308.9L864.1 309.9L866.9 310.5L869.7 310.9L872.5 311.1L875.3 311.2L878.1 311.3L880.9 311.4L883.7 311.4L886.5 311.4L889.3 311.3L892.1 311.3L894.9 311.2L897.7 311.0L900.5 310.8L903.3 310.4L906.1 309.6L908.9 308.5L911.7 307.5L914.5 307.9L917.3 309.0L920.1 309.8L922.9 310.3L925.7 310.5L928.5 310.6L931.3 310.6L934.1 310.6L936.9 310.5L939.7 310.4L942.5 310.3L945.3 310.1L948.1 310.0L950.9 309.7L953.7 309.5L956.5 309.2L959.3 308.8L962.1 308.4L964.9 307.8L967.7 307.1L970.5 306.1L973.3 305.0L976.1 303.4L978.9 301.3L981.7 298.1L982.4 297.0L983.1 295.8L983.8 294.5L984.5 292.9L985.2 291.2L985.9 289.4L986.6 287.6L987.3 286.0L988.0 284.9L988.8 284.5L989.4 284.8L990.1 285.9L990.8 287.5L991.5 289.4L992.2 291.3L992.9 293.1L993.6 294.8L994.3 296.2L995.0 297.5L995.7 298.6L998.5 301.5L1001.3 302.9L1004.1 303.3L1006.9 302.4L1009.7 299.8L1010.4 298.8L1011.1 297.8L1011.8 296.7L1012.5 295.8L1013.2 295.1L1014.0 294.9L1014.6 295.1L1015.3 295.8L1016.0 296.8L1016.7 298.0L1017.4 299.2L1018.1 300.4L1020.9 303.8L1023.7 305.6L1026.5 306.6L1029.3 307.1L1032.1 307.4L1034.9 307.6L1037.7 307.6L1040.5 307.5L1043.3 307.3L1046.1 307.1L1048.9 306.8L1051.7 306.3L1054.5 305.7L1057.3 304.9L1060.1 303.9L1062.9 302.6L1065.7 300.9L1068.5 298.8L1071.3 296.1L1072.0 295.3L1072.7 294.4L1073.4 293.5L1074.1 292.5L1074.8 291.6L1075.5 290.7L1076.2 289.9L1076.9 289.2L1077.6 288.8L1078.4 288.7L1079.0 288.8L1079.7 289.2L1080.4 289.9L1081.1 290.7L1081.8 291.6L1082.5 292.5L1083.2 293.4L1083.9 294.1L1084.6 294.8L1085.3 295.3L1086.0 295.6L1086.7 295.8L1087.4 295.7L1088.1 295.5L1088.8 295.1L1089.5 294.6L1090.2 294.0L1090.9 293.5L1091.6 293.1L1092.6 293.1L1093.0 293.4L1093.7 294.2L1094.4 295.3L1095.1 296.6L1095.8 297.9L1096.5 299.1L1097.2 300.3L1099.3 303.0L1102.1 305.3L1104.9 306.6L1107.7 307.4L1110.5 307.9L1113.3 308.3L1116.1 308.5L1118.9 308.6L1121.7 308.6L1124.5 308.5L1127.3 308.1L1130.1 307.6L1132.9 307.3L1135.7 307.6L1138.5 308.3L1141.3 309.1L1144.1 309.7L1146.9 310.2L1149.7 310.5L1152.5 310.8L1155.3 311.0L1158.1 311.3L1160.9 311.4L1163.7 311.6L1166.5 311.8L1169.3 311.9L1172.1 312.0L1174.9 312.2L1177.7 312.3L1180.5 312.4L1183.3 312.5L1186.1 312.6L1188.9 312.6L1191.7 312.7L1194.5 312.7L1197.3 312.8L1200.1 312.8L1202.9 312.8L1205.7 312.8L1208.5 312.8L1211.3 312.7L1214.1 312.7L1216.9 312.6L1219.7 312.5L1222.5 312.4L1225.3 312.3L1228.1 312.2L1230.9 312.1L1233.7 312.0L1236.5 311.9L1239.3 311.8L1242.1 311.7L1244.9 311.5L1247.7 311.4L1250.5 311.3L1253.3 311.1L1256.1 311.0L1258.9 310.7L1261.7 310.5L1264.5 310.3L1267.3 310.0L1270.1 309.8L1272.9 309.6L1275.7 309.3L1278.5 309.2L1281.3 309.0L1284.1 308.9L1286.9 308.8L1289.7 308.8L1292.5 308.9L1295.3 309.1L1298.1 309.3L1300.9 309.7L1303.7 310.1L1306.5 310.5L1309.3 310.9L1312.1 311.3L1314.9 311.7L1317.7 312.1L1320.5 312.4L1323.3 312.7L1326.1 312.9L1328.9 312.9L1331.7 312.8L1334.5 312.7L1337.3 312.5L1340.1 312.2L1342.9 311.7L1345.7 311.0L1348.5 310.1L1351.3 308.7L1354.1 307.5L1356.9 307.2L1359.7 308.1L1362.5 309.3L1365.3 310.3L1368.1 311.0L1370.9 311.4L1373.7 311.6L1376.5 311.8L1379.3 311.9L1382.1 311.9L1384.9 311.9L1387.7 311.9L1390.5 311.9L1393.3 311.9L1396.1 311.9L1398.9 311.9L1401.7 311.9L1404.5 311.8L1407.3 311.8L1410.1 311.8L1412.9 311.8L1415.7 311.8L1418.5 311.9L1421.3 311.9L1424.1 311.9L1426.9 311.9L1429.7 311.9L1432.5 311.9L1435.3 311.9L1438.1 311.9L1440.9 311.9L1443.7 311.9L1446.5 311.9L1449.3 311.9L1452.1 311.9L1454.9 311.9L1457.7 311.9L1460.5 312.0L1463.3 312.0L1466.1 312.0L1468.9 312.0L1471.7 312.0L1474.5 312.0L1477.3 312.0L1480.1 312.0L1482.9 312.1L1485.7 312.1L1488.5 312.1L1491.3 312.1L1494.1 312.1L1496.9 312.1L1499.7 312.2L1502.5 312.2L1505.3 312.2L1508.1 312.2L1510.9 312.3L1513.7 312.3L1516.5 312.3L1519.3 312.4L1522.1 312.4L1524.9 312.4" fill="none" stroke="#DD0806" stroke-width="5" stroke-linejoin="bevel" stroke-linecap="butt"/>
<path d="M165.5 304.0L166.2 304.0L166.9 301.3L167.6 303.9L168.3 300.2L169.0 304.1L169.7 302.3L170.4 298.0L171.1 303.3L171.8 298.7L172.5 304.6L173.2 298.0L173.9 303.0L174.6 298.8L175.3 301.5L176.0 300.4L176.7 303.9L177.4 299.8L178.1 302.9L178.8 304.5L179.5 298.4L180.2 302.9L180.9 298.6L181.6 303.4L182.3 304.0L183.0 299.1L183.7 304.2L184.4 301.2L185.1 300.4L185.8 304.9L186.5 300.9L187.2 299.8L187.9 300.6L188.6 304.6L189.3 305.1L190.0 301.6L190.7 301.9L191.4 302.6L192.1 304.2L192.8 298.7L193.5 304.0L194.2 305.2L194.9 301.5L195.6 301.7L196.3 305.2L197.0 301.5L197.7 301.4L198.4 304.6L199.1 302.1L199.8 303.2L200.5 300.9L201.2 303.5L201.9 301.5L202.6 304.2L203.3 302.3L204.0 305.1L204.7 302.7L205.4 304.8L206.1 302.1L206.8 303.6L207.5 301.0L208.2 303.1L208.9 303.6L209.6 300.6L210.3 302.8L211.0 305.2L211.7 300.6L212.4 302.4L213.1 304.6L213.8 302.0L214.5 299.5L215.2 302.5L215.9 302.1L216.6 304.9L217.3 303.1L218.0 303.7L218.7 300.9L219.4 304.0L220.1 303.3L220.8 298.4L221.5 301.6L222.2 302.9L223.0 301.2L223.6 303.3L224.3 299.2L225.0 301.5L225.7 301.5L226.4 300.4L227.1 303.7L227.8 301.8L228.5 303.3L229.2 304.3L229.9 304.1L230.6 300.5L231.3 300.3L232.0 305.0L232.7 304.0L233.4 301.1L234.1 301.0L234.8 303.3L235.5 301.4L236.2 305.9L236.9 301.7L237.6 306.0L238.3 304.6L239.0 303.7L239.7 304.3L240.4 304.4L241.1 302.0L241.8 303.1L242.5 300.6L243.2 300.4L243.9 305.5L244.6 304.8L245.3 304.0L246.0 300.1L246.7 302.9L247.4 303.1L248.1 301.3L248.8 300.8L249.5 302.7L250.0 298.6L250.9 301.3L251.6 300.3L252.3 301.6L253.0 302.6L253.7 302.1L254.4 304.9L255.1 305.2L255.8 304.7L256.5 305.1L257.2 303.6L257.9 302.5L258.6 305.6L259.3 301.8L260.0 304.6L260.7 304.8L261.4 302.0L262.1 302.6L262.8 305.2L263.5 306.3L264.2 303.7L264.9 304.5L265.6 305.5L266.3 304.8L267.0 304.2L267.7 305.1L268.4 305.5L269.1 306.0L269.8 304.7L270.5 305.2L271.2 302.7L271.9 302.4L272.6 305.9L273.3 302.7L274.0 303.8L274.7 306.2L275.4 302.1L276.1 304.9L276.8 302.5L277.5 304.5L278.2 305.4L278.9 305.3L279.6 305.0L280.3 303.5L281.0 303.5L281.7 301.4L282.4 300.9L283.1 304.0L283.8 300.2L284.5 304.6L285.2 300.4L285.9 303.0L286.6 301.3L287.3 301.8L288.0 302.2L288.7 299.4L289.4 301.7L290.1 300.8L290.8 299.3L291.5 298.6M323.7 298.4L324.4 302.1L325.1 299.7L325.8 299.5L326.5 301.6L327.2 303.9L327.9 304.3L328.6 302.9L329.3 302.3L330.0 304.4L330.7 303.7L331.4 305.3L332.1 305.6L332.8 305.1L333.5 306.7L334.2 305.3L334.9 307.1L335.6 305.6L336.3 303.5L337.0 305.8L337.7 306.6L338.4 305.0L339.1 303.8L339.8 304.8L340.5 307.2L341.2 304.3L341.9 303.4L342.6 308.0L343.3 308.5L344.0 308.1L344.7 307.8L345.4 307.5L346.1 306.7L346.8 307.3L347.5 307.8L348.2 305.7L348.9 305.1L349.6 307.7L350.3 307.3L351.0 309.4L351.7 306.4L352.4 306.5L353.1 305.0L353.8 304.5L354.5 305.2L355.2 307.6L355.9 309.6L356.6 305.2L357.3 305.4L358.0 308.2L358.7 306.3L359.4 304.9L360.1 309.4L360.8 305.6L361.5 307.1L362.2 308.8L362.9 309.0L363.6 309.9L364.3 308.1L365.0 305.7L365.7 305.4L366.4 308.4L367.1 307.9L367.8 306.4L368.5 306.0L369.2 307.0L369.9 306.7L370.6 307.0L371.3 307.0L372.0 309.2L372.7 307.7L373.4 309.8L374.1 307.9L374.8 306.8L375.5 310.2L376.2 308.8L376.9 309.9L377.6 306.6L378.3 310.6L379.0 308.8L379.7 307.4L380.4 306.8L381.1 306.0L381.8 305.7L382.5 306.5L383.2 307.2L383.9 308.4L384.6 307.7L385.3 305.8L386.0 306.4L386.7 305.7L387.4 305.8L388.1 307.2L388.8 309.1L389.5 306.5L390.2 310.5L390.9 311.0L391.6 309.0L392.3 306.0L393.0 306.7L393.7 308.5L394.4 310.9L395.1 311.1L395.8 309.8L396.5 310.7L397.2 306.4L397.9 308.6L398.6 308.5L399.3 307.1L400.0 309.0L400.7 309.0L401.4 311.2L402.1 306.3L402.8 307.6L403.5 306.9L404.2 307.2L404.9 307.7L405.6 308.0L406.3 311.3L407.0 307.8L407.7 308.7L408.4 307.0L409.1 307.3L409.8 307.3L410.5 309.3L411.2 307.8L411.9 307.7L412.6 309.0L413.3 306.3L414.0 311.0L414.7 306.5L415.4 308.5L416.1 311.7L416.8 307.2L417.5 306.5L418.2 309.0L418.9 309.8L419.6 308.4L420.3 307.5L421.0 310.2L421.7 309.6L422.4 308.3L423.1 309.8L423.8 311.0L424.5 309.2L425.2 308.5L425.9 309.8L426.6 309.2L427.3 307.0L428.0 311.5L428.7 307.1L429.4 310.6L430.1 308.9L430.8 310.8L431.5 309.4L432.2 311.1L432.9 309.1L433.6 307.9L434.3 310.8L435.0 311.1L435.7 309.3L436.4 311.7L437.1 310.5L437.8 311.8L438.5 307.6L439.2 311.8L439.9 310.8L440.6 311.8L441.3 308.5L442.0 309.7L442.7 311.6L443.4 310.3L444.1 308.2L444.8 308.2L445.5 311.9L446.2 310.3L446.9 306.8L447.6 308.0L448.3 309.7L449.0 307.6L449.7 309.1L450.4 310.3L451.1 307.0L451.8 307.9L452.5 311.5L453.2 306.7L453.9 307.1L454.6 311.1L455.3 310.3L456.0 309.1L456.7 311.3L457.4 307.6L458.1 306.4L458.8 311.0L459.5 310.0L460.2 308.3L460.9 309.6L461.6 306.8L462.3 308.1L463.0 309.5L463.7 311.1L464.4 308.0L465.1 306.5L465.8 306.6L466.5 307.8L467.2 309.6L467.9 310.0L468.6 309.9L469.3 310.9L470.0 309.7L470.7 309.5L471.4 309.0L472.1 309.3L472.8 309.6L473.5 310.9L474.2 306.1L474.9 308.6L475.6 305.4L476.3 305.6L477.0 309.6L477.7 306.2L478.4 306.8L479.1 304.4L479.8 305.7L480.5 302.3L481.2 305.0L481.9 306.6L482.6 304.4L483.3 303.7L484.0 302.5L484.7 300.8L485.4 303.2L485.8 300.9L486.8 300.8L487.5 302.4L488.2 305.4L488.9 304.5L489.6 304.8L490.3 302.1L491.0 306.7L491.7 304.9L492.4 306.5L493.1 306.5L493.8 308.1L494.5 303.9L495.2 304.6L495.9 305.8L496.6 305.5L497.3 308.5L498.0 305.3L498.7 305.2L499.4 307.9L500.1 305.2L500.8 309.5L501.5 306.8L502.2 306.6L502.9 308.4L503.6 310.6L504.3 306.4L505.0 306.1L505.7 306.8L506.4 309.2L507.1 310.0L507.8 305.2L508.5 304.3L509.2 305.8L509.9 305.7L510.6 308.0L511.3 307.2L512.0 307.3L512.7 304.7L513.4 304.5L514.1 306.9L514.8 300.9L515.5 300.0L516.2 299.1L516.9 303.1M521.8 301.0L522.5 302.8L523.2 303.2L523.9 304.8L524.6 303.6L525.3 302.8L526.0 301.8L526.7 303.9L527.4 302.8L528.1 307.3L528.8 306.4L529.5 303.5L530.2 304.8L530.9 304.4L531.6 305.1L532.3 306.9L533.0 302.6L533.7 304.3L534.4 303.3L535.1 305.6L535.8 300.6L536.5 302.6L537.2 298.5M552.6 300.7L553.3 304.0L554.0 303.1L554.7 299.4L555.4 305.7L556.1 303.4L556.8 304.0L557.5 306.5L558.2 304.5L558.9 302.5L559.6 304.0L560.3 306.1L561.0 304.1L561.7 302.7L562.4 304.2L563.1 302.5L563.8 302.5L564.5 302.7L565.2 305.1L565.9 303.9L566.6 303.0L567.3 306.4L568.0 305.6L568.7 306.8L569.4 302.7L570.1 305.4L570.8 303.2L571.5 304.5L572.2 304.1L572.9 304.8L573.6 304.6L574.3 306.6L575.0 304.7L575.7 302.9L576.4 305.4L577.1 301.4L577.8 304.9L578.5 303.6L579.2 301.5L579.9 304.2L580.6 300.2L581.3 299.5L582.0 300.7L582.7 301.9L583.4 302.4L584.1 300.2L584.8 301.5L585.5 303.6L586.2 303.4L586.9 301.5L587.6 298.7L588.3 299.4L589.0 301.0L589.7 301.1L590.4 301.0L591.1 297.3L591.8 296.6L592.5 296.1L593.2 298.1L593.9 298.5L594.6 295.6L595.3 294.2L596.0 294.7L596.7 292.4M621.2 293.3L621.9 291.8L622.6 291.8L623.3 293.8L624.0 293.3L624.7 292.8L625.4 297.1L626.1 295.6L626.8 293.7M635.2 300.2L635.9 296.6L636.6 298.8L637.3 302.5L638.0 303.7L638.7 303.4L639.4 300.9L640.1 303.4L640.8 301.3L641.5 301.7L642.2 306.2L642.9 302.2L643.6 303.0L644.3 303.3L645.0 306.7L645.7 306.5L646.4 304.7L647.1 305.9L647.8 308.8L648.5 305.3L649.2 304.8L649.9 307.9L650.6 305.4L651.3 307.8L652.0 306.4L652.7 305.4L653.4 308.7L654.1 309.3L654.8 307.3L655.5 306.6L656.2 310.8L656.9 307.3L657.6 307.4L658.3 308.1L659.0 307.5L659.7 307.6L660.4 311.1L661.1 307.0L661.8 310.8L662.5 309.4L663.2 307.0L663.9 307.6L664.6 310.2L665.3 309.8L666.0 308.2L666.7 308.5L667.4 311.7L668.1 310.8L668.8 310.5L669.5 311.8L670.2 308.4L670.9 309.0L671.6 311.5L672.3 309.6L673.0 309.6L673.7 311.4L674.4 312.4L675.1 311.9L675.8 311.3L676.5 309.7L677.2 311.0L677.9 308.6L678.6 308.8L679.3 308.6L680.0 310.9L680.7 312.2L681.4 311.3L682.1 308.9L682.8 310.8L683.5 309.3L684.2 311.6L684.9 309.9L685.6 308.7L686.3 308.9L687.0 307.9L687.7 309.3L688.4 309.1L689.1 309.7L689.8 310.7L690.5 312.0L691.2 311.4L691.9 310.2L692.6 309.1L693.3 308.1L694.0 310.2L694.7 307.5L695.4 307.5L696.1 310.3L696.8 307.9L697.5 311.2L698.2 310.3L698.9 309.6L699.6 311.5L700.3 307.5L701.0 308.3L701.7 309.3L702.4 311.4L703.1 307.0L703.8 309.5L704.5 311.0L705.2 307.1L705.9 309.8L706.6 309.6L707.3 307.9L708.0 308.7L708.7 310.5L709.4 308.1L710.1 307.9L710.8 308.3L711.5 305.6L712.2 309.3L712.9 305.4L713.6 309.8L714.3 309.6L715.0 308.7L715.7 308.9L716.4 307.3L717.1 305.6L717.8 306.8L718.5 307.0L719.2 304.1L719.9 306.9L720.6 304.4L721.3 305.1L722.0 303.6L722.7 303.3L723.4 305.9L724.1 305.0L724.8 301.2L725.5 304.2L726.2 304.5L726.9 303.0L727.6 302.5L728.3 299.9L729.0 301.5L729.7 299.4L730.4 301.4L731.1 299.8L731.8 297.3L732.5 299.3L733.2 298.0L733.9 294.5L734.6 293.7L735.3 291.9M755.6 304.6L756.3 302.4L757.0 304.2L757.7 307.2L758.4 305.7L759.1 306.1L759.8 305.5L760.5 305.8L761.2 308.6L761.9 306.8L762.6 311.1L763.3 306.8L764.0 308.3L764.7 307.9L765.4 311.5L766.1 310.9L766.8 307.9L767.5 307.8L768.2 308.0L768.9 311.2L769.6 311.4L770.3 310.9L771.0 310.3L771.7 310.2L772.4 310.9L773.1 308.6L773.8 311.9L774.5 311.9L775.2 311.5L775.9 309.4L776.6 309.3L777.3 313.0L778.0 312.9L778.7 312.0L779.4 312.2L780.1 310.6L780.8 312.6L781.5 311.8L782.2 310.6L782.9 311.8L783.6 308.9L784.3 310.4L785.0 312.6L785.7 310.8L786.4 311.2L787.1 311.2L787.8 313.1L788.5 309.5L789.2 311.8L789.9 310.7L790.6 309.7L791.3 308.8L792.0 311.4L792.7 309.4L793.4 311.3L794.1 310.5L794.8 310.4L795.5 312.6L796.2 308.8L796.9 311.0L797.6 310.2L798.3 308.9L799.0 310.0L799.7 312.2L800.4 308.9L801.1 311.1L801.8 309.0L802.5 310.1L803.2 310.1L803.9 307.6L804.6 310.9L805.3 308.6L806.0 307.5L806.7 307.2L807.4 310.6L808.1 310.1L808.8 307.6L809.5 306.5L810.6 308.4L811.6 305.5L812.3 309.4L813.0 305.7L813.7 306.2L814.4 307.8L815.1 308.7L815.8 306.9L816.5 308.4L817.2 311.9L817.9 311.1L818.6 308.0L819.3 312.0L820.0 310.2L820.7 312.7L821.4 309.7L822.1 309.7L822.8 311.5L823.5 310.7L824.2 309.8L824.9 311.0L825.6 311.6L826.3 310.1L827.0 312.5L827.7 312.2L828.4 312.2L829.1 311.8L829.8 309.8L830.5 312.1L831.2 309.6L831.9 309.5L832.6 311.2L833.3 309.6L834.0 309.4L834.7 311.6L835.4 313.4L836.1 309.1L836.8 310.9L837.5 309.3L838.2 311.3L838.9 311.5L839.6 311.1L840.3 309.0L841.0 312.1L841.7 311.1L842.4 311.4L843.1 311.8L843.8 312.9L844.5 310.7L845.2 312.9L845.9 309.4L846.6 310.6L847.3 309.2L848.0 310.1L848.7 312.5L849.4 312.7L850.1 310.2L850.8 309.2L851.5 309.2L852.2 311.7L852.9 309.4L853.6 308.0L854.3 310.7L855.0 308.9L855.7 308.3L856.4 310.3L857.1 309.4L857.8 305.9L858.2 310.3L859.2 308.0L859.9 306.9L860.6 310.5L861.3 308.5L862.0 310.0L862.7 310.6L863.4 308.2L864.1 312.1L864.8 310.3L865.5 308.2L866.2 310.6L866.9 308.3L867.6 312.8L868.3 311.5L869.0 310.3L869.7 312.3L870.4 312.3L871.1 311.9L871.8 309.8L872.5 309.2L873.2 312.8L873.9 313.0L874.6 310.5L875.3 310.7L876.0 310.8L876.7 310.3L877.4 313.3L878.1 311.5L878.8 312.3L879.5 311.8L880.2 309.5L880.9 309.4L881.6 309.8L882.3 311.4L883.0 312.0L883.7 313.7L884.4 313.2L885.1 312.5L885.8 310.8L886.5 310.7L887.2 312.3L887.9 310.7L888.6 312.6L889.3 312.4L890.0 309.6L890.7 312.7L891.4 309.4L892.1 310.5L892.8 313.4L893.5 311.9L894.2 312.8L894.9 313.1L895.6 310.1L896.3 312.5L897.0 310.5L897.7 309.1L898.4 309.2L899.1 309.2L899.8 311.5L900.5 311.4L901.2 312.3L901.9 309.7L902.6 311.7L903.3 309.3L904.0 309.4L904.7 310.8L905.4 309.4L906.1 311.9L906.8 308.6L907.5 307.9L908.2 310.5L908.9 310.2L909.6 306.7L910.3 307.2L911.0 307.7L911.7 305.6L912.3 306.9L913.1 308.8L913.8 308.9L914.5 306.3L915.2 307.3L915.9 307.4L916.6 309.6L917.3 307.4L918.0 311.5L918.7 307.8L919.4 309.8L920.1 310.8L920.8 312.0L921.5 310.6L922.2 311.8L922.9 310.4L923.6 309.1L924.3 310.1L925.0 310.9L925.7 310.6L926.4 311.8L927.1 310.7L927.8 310.1L928.5 310.7L929.2 310.7L929.9 308.4L930.6 309.8L931.3 310.9L932.0 311.6L932.7 310.3L933.4 311.7L934.1 310.6L934.8 310.0L935.5 309.4L936.2 311.9L936.9 312.4L937.6 311.5L938.3 309.2L939.0 311.4L939.7 310.4L940.4 312.3L941.1 308.1L941.8 311.5L942.5 310.1L943.2 311.8L943.9 310.7L944.6 308.0L945.3 311.0L946.0 310.2L946.7 308.9L947.4 308.3L948.1 309.5L948.8 310.2L949.5 309.8L950.2 307.6L950.9 308.2L951.6 310.5L952.3 309.8L953.0 310.6L953.7 309.1L954.4 308.3L955.1 310.7L955.8 308.0L956.5 307.2L957.2 308.5L957.9 308.8L958.6 307.6L959.3 310.8L960.0 307.5L960.7 306.9L961.4 309.2L962.1 306.8L962.8 307.2L963.5 307.7L964.2 306.9L964.9 308.5L965.6 306.0L966.3 308.1L967.0 305.6L967.7 307.4L968.4 309.0L969.1 307.9L969.8 308.4L970.5 306.4L971.2 304.4L971.9 305.0L972.6 306.5L973.3 303.3L974.0 305.3L974.7 303.5L975.4 305.7L976.1 302.8L976.8 302.2L977.5 301.4L978.2 302.1L978.9 303.3L979.6 300.8L980.3 301.0L981.0 299.1L981.7 296.3L982.4 297.4M995.7 299.0L996.4 299.9L997.1 299.4L997.8 299.9L998.5 300.8L999.2 299.9L999.9 300.9L1000.6 301.7L1001.3 303.0L1002.0 304.9L1002.7 304.1L1003.4 303.3L1004.1 304.2L1004.8 302.9L1005.5 301.0L1006.2 303.6L1006.9 303.3L1007.6 302.6L1008.3 302.9L1009.0 301.9L1009.7 301.2M1018.1 298.4L1018.8 303.6L1019.5 302.7L1020.2 303.6L1020.9 304.3L1021.6 303.4L1022.3 304.0L1023.0 306.9L1023.7 306.1L1024.4 307.9L1025.1 304.9L1025.8 306.8L1026.5 307.0L1027.2 304.8L1027.9 307.5L1028.6 306.5L1029.3 306.8L1030.0 305.9L1030.7 307.7L1031.4 308.1L1032.1 309.1L1032.8 308.9L1033.5 309.6L1034.2 309.6L1034.9 308.4L1035.6 306.6L1036.3 307.8L1037.0 305.8L1037.7 307.9L1038.4 306.7L1039.1 307.7L1039.8 308.6L1040.5 305.6L1041.2 309.1L1041.9 305.4L1042.6 307.4L1043.3 306.1L1044.0 305.3L1044.7 307.1L1045.4 306.1L1046.1 305.3L1046.8 308.4L1047.5 305.8L1048.2 308.7L1048.9 307.2L1049.6 306.0L1050.3 304.7L1051.0 307.9L1051.7 304.6L1052.4 307.3L1053.1 306.1L1053.8 305.7L1054.5 303.9L1055.2 305.2L1055.9 303.2L1056.6 306.2L1057.3 305.8L1058.0 303.1L1058.7 304.4L1059.4 302.8L1060.1 304.8L1060.8 302.2L1061.5 301.8L1062.2 302.0L1062.9 304.6L1063.6 303.5L1064.3 301.4L1065.0 302.6L1065.7 300.3L1066.4 299.1L1067.1 301.6L1067.8 297.4L1068.5 300.1L1069.2 300.2L1069.9 295.8L1070.6 298.4L1071.3 297.3L1072.0 293.3M1097.2 300.1L1097.9 300.3L1098.6 301.8L1099.3 302.5L1100.0 303.3L1100.7 302.2L1101.4 303.9L1102.1 304.4L1102.8 306.3L1103.5 306.8L1104.2 307.3L1104.9 307.1L1105.6 308.4L1106.3 307.2L1107.0 306.4L1107.7 305.5L1108.4 308.4L1109.1 307.9L1109.8 306.5L1110.5 308.0L1111.2 309.8L1111.9 308.5L1112.6 307.5L1113.3 309.5L1114.0 307.9L1114.7 306.5L1115.4 306.8L1116.1 310.3L1116.8 307.0L1117.5 309.7L1118.2 306.8L1118.9 308.3L1119.6 307.8L1120.3 308.1L1121.0 307.1L1121.7 308.3L1122.4 309.6L1123.1 308.7L1123.8 307.1L1124.5 309.6L1125.2 309.8L1125.9 308.1L1126.6 307.7L1127.3 306.3L1128.0 306.4L1128.7 307.4L1129.4 306.3L1130.1 309.3L1130.8 308.0L1131.5 306.7L1132.2 307.6L1132.9 306.1L1133.8 308.8L1134.3 307.3L1135.0 308.1L1135.7 306.5L1136.4 307.6L1137.1 308.7L1137.8 307.7L1138.5 306.8L1139.2 308.4L1139.9 309.8L1140.6 308.8L1141.3 310.7L1142.0 309.5L1142.7 310.7L1143.4 308.0L1144.1 310.2L1144.8 309.9L1145.5 309.5L1146.2 311.4L1146.9 308.8L1147.6 310.2L1148.3 309.7L1149.0 311.9L1149.7 311.4L1150.4 309.6L1151.1 309.5L1151.8 309.2L1152.5 309.8L1153.2 312.2L1153.9 312.1L1154.6 311.9L1155.3 310.7L1156.0 311.0L1156.7 311.4L1157.4 312.1L1158.1 309.7L1158.8 310.3L1159.5 311.6L1160.2 310.3L1160.9 312.7L1161.6 310.1L1162.3 312.9L1163.0 310.7L1163.7 310.7L1164.4 311.4L1165.1 312.1L1165.8 313.1L1166.5 311.7L1167.2 312.9L1167.9 312.9L1168.6 313.2L1169.3 311.5L1170.0 311.9L1170.7 310.6L1171.4 311.7L1172.1 311.6L1172.8 311.0L1173.5 313.0L1174.2 311.5L1174.9 311.2L1175.6 311.2L1176.3 310.9L1177.0 312.9L1177.7 312.4L1178.4 312.4L1179.1 312.1L1179.8 313.6L1180.5 312.1L1181.2 312.3L1181.9 312.9L1182.6 313.5L1183.3 313.4L1184.0 313.5L1184.7 311.7L1185.4 313.6L1186.1 313.4L1186.8 312.2L1187.5 313.3L1188.2 313.7L1188.9 313.2L1189.6 313.2L1190.3 313.5L1191.0 313.6L1191.7 313.3L1192.4 311.7L1193.1 312.0L1193.8 311.8L1194.5 312.7L1195.2 311.7L1195.9 312.9L1196.6 313.7L1197.3 313.9L1198.0 311.7L1198.7 313.2L1199.4 312.0L1200.1 313.6L1200.8 311.8L1201.5 311.9L1202.2 312.4L1202.9 311.7L1203.6 313.2L1204.3 312.1L1205.0 313.3L1205.7 313.8L1206.4 312.7L1207.1 312.7L1207.8 313.9L1208.5 312.4L1209.2 313.6L1209.9 313.2L1210.6 311.7L1211.3 312.3L1212.0 313.2L1212.7 311.7L1213.4 313.5L1214.1 313.6L1214.8 313.2L1215.5 313.3L1216.2 312.8L1216.9 313.3L1217.6 312.5L1218.3 312.4L1219.0 313.0L1219.7 312.4L1220.4 312.1L1221.1 312.0L1221.8 312.3L1222.5 312.2L1223.2 313.0L1223.9 313.0L1224.6 313.0L1225.3 313.1L1226.0 312.0L1226.7 312.0L1227.4 313.0L1228.1 311.5L1228.8 312.7L1229.5 312.2L1230.2 312.5L1230.9 312.6L1231.6 312.5L1232.3 311.5L1233.0 311.0L1233.7 313.0L1234.4 312.9L1235.1 312.0L1235.8 312.3L1236.5 311.0L1237.2 311.8L1237.9 312.0L1238.6 312.2L1239.3 311.2L1240.0 310.8L1240.7 312.7L1241.4 312.4L1242.1 310.9L1242.8 312.3L1243.5 312.3L1244.2 310.9L1244.9 312.2L1245.6 311.2L1246.3 311.1L1247.0 310.7L1247.7 311.6L1248.4 311.6L1249.1 311.4L1249.8 310.4L1250.5 311.9L1251.2 310.8L1251.9 310.7L1252.6 311.5L1253.3 310.4L1254.0 312.0L1254.7 311.4L1255.4 311.6L1256.1 310.6L1256.8 310.7L1257.5 310.3L1258.2 310.3L1258.9 310.6L1259.6 311.3L1260.3 310.6L1261.0 311.3L1261.7 309.7L1262.4 310.0L1263.1 309.4L1263.8 311.3L1264.5 309.3L1265.2 310.3L1265.9 310.5L1266.6 309.4L1267.3 311.1L1268.0 311.0L1268.7 309.3L1269.4 309.1L1270.1 310.1L1270.8 309.8L1271.5 309.9L1272.2 309.9L1272.9 310.6L1273.6 310.1L1274.3 309.0L1275.0 309.9L1275.7 309.2L1276.4 310.3L1277.1 309.2L1277.8 308.1L1278.5 310.1L1279.2 308.6L1279.9 309.8L1280.6 309.3L1281.3 309.5L1282.0 309.5L1282.7 309.8L1283.4 309.6L1284.1 309.2L1284.8 308.5L1285.5 308.8L1286.2 308.3L1286.9 308.5L1287.6 308.7L1288.3 308.6L1289.0 308.3L1289.7 308.4L1290.4 308.4L1291.1 308.2L1291.8 309.0L1292.5 308.0L1293.2 308.4L1293.9 308.3L1294.6 309.5L1295.3 308.6L1296.0 308.3L1296.7 309.9L1297.4 309.1L1298.1 310.0L1298.8 309.0L1299.5 309.2L1300.2 309.7L1300.9 308.7L1301.6 310.8L1302.3 309.1L1303.0 310.9L1303.7 310.4L1304.4 310.7L1305.1 309.6L1305.8 311.2L1306.5 310.6L1307.2 310.4L1307.9 310.0L1308.6 310.1L1309.3 311.7L1310.0 312.0L1310.7 310.9L1311.4 311.7L1312.1 311.8L1312.8 311.4L1313.5 311.5L1314.2 311.8L1314.9 311.4L1315.6 312.4L1316.3 311.8L1317.0 312.0L1317.7 311.4L1318.4 313.3L1319.1 311.4L1319.8 312.8L1320.5 312.8L1321.2 312.2L1321.9 313.6L1322.6 311.6L1323.3 312.2L1324.0 312.4L1324.7 313.1L1325.4 313.0L1326.1 313.3L1326.8 313.7L1327.5 311.8L1328.2 313.0L1328.9 312.7L1329.6 313.3L1330.3 312.9L1331.0 312.5L1331.7 311.7L1332.4 312.4L1333.1 312.6L1333.8 312.4L1334.5 312.4L1335.2 313.0L1335.9 312.2L1336.6 313.3L1337.3 312.2L1338.0 312.3L1338.7 312.2L1339.4 313.1L1340.1 312.4L1340.8 313.1L1341.5 310.9L1342.2 312.8L1342.9 311.0L1343.6 312.4L1344.3 310.4L1345.0 312.0L1345.7 311.3L1346.4 311.2L1347.1 310.4L1347.8 310.1L1348.5 309.3L1349.2 309.0L1349.9 309.7L1350.6 308.7L1351.3 307.7L1352.0 307.7L1352.7 307.3L1353.4 307.1L1354.1 307.4L1354.8 308.2L1355.5 307.3L1356.0 307.6L1356.9 306.3L1357.6 307.7L1358.3 308.3L1359.0 308.9L1359.7 308.5L1360.4 308.6L1361.1 309.7L1361.8 308.2L1362.5 310.0L1363.2 310.1L1363.9 310.4L1364.6 309.8L1365.3 309.4L1366.0 309.7L1366.7 311.1L1367.4 310.4L1368.1 312.0L1368.8 310.3L1369.5 311.9L1370.2 311.3L1370.9 310.9L1371.6 310.9L1372.3 311.2L1373.0 311.3L1373.7 311.0L1374.4 311.1L1375.1 312.8L1375.8 311.6L1376.5 312.1L1377.2 312.3L1377.9 311.5L1378.6 312.8L1379.3 311.4L1380.0 311.2L1380.7 310.9L1381.4 311.4L1382.1 311.0L1382.8 312.2L1383.5 312.1L1384.2 310.9L1384.9 312.9L1385.6 312.4L1386.3 312.1L1387.0 312.9L1387.7 312.0L1388.4 311.2L1389.1 312.6L1389.8 312.9L1390.5 311.0L1391.2 311.9L1391.9 311.3L1392.6 312.8L1393.3 311.0L1394.0 312.6L1394.7 311.3L1395.4 312.2L1396.1 312.3L1396.8 312.5L1397.5 310.9L1398.2 311.8L1398.9 311.1L1399.6 311.1L1400.3 311.1L1401.0 311.1L1401.7 312.8L1402.4 312.0L1403.1 311.3L1403.8 311.8L1404.5 310.9L1405.2 311.2L1405.9 312.1L1406.6 312.3L1407.3 312.1L1408.0 312.9L1408.7 312.9L1409.4 312.6L1410.1 311.8L1410.8 312.4L1411.5 311.3L1412.2 312.6L1412.9 311.3L1413.6 312.9L1414.3 310.8L1415.0 312.5L1415.7 311.8L1416.4 312.5L1417.1 311.9L1417.8 312.6L1418.5 312.3L1419.2 312.2L1419.9 312.8L1420.6 311.0L1421.3 312.8L1422.0 311.9L1422.7 312.3L1423.4 312.2L1424.1 311.6L1424.8 311.9L1425.5 312.9L1426.2 311.8L1426.9 312.8L1427.6 310.8L1428.3 312.0L1429.0 312.3L1429.7 311.7L1430.4 311.0L1431.1 312.5L1431.8 312.4L1432.5 311.6L1433.2 311.0L1433.9 312.6L1434.6 312.5L1435.3 312.6L1436.0 312.6L1436.7 311.4L1437.4 312.2L1438.1 311.8L1438.8 311.7L1439.5 311.7L1440.2 312.3L1440.9 313.0L1441.6 311.8L1442.3 311.6L1443.0 312.2L1443.7 312.2L1444.4 311.7L1445.1 312.2L1445.8 312.3L1446.5 312.5L1447.2 311.2L1447.9 312.3L1448.6 311.7L1449.3 312.8L1450.0 312.2L1450.7 312.6L1451.4 312.6L1452.1 311.3L1452.8 311.0L1453.5 312.5L1454.2 311.0L1454.9 312.9L1455.6 312.4L1456.3 311.8L1457.0 312.3L1457.7 311.1L1458.4 312.3L1459.1 312.9L1459.8 310.9L1460.5 312.9L1461.2 311.5L1461.9 311.7L1462.6 312.9L1463.3 312.6L1464.0 311.7L1464.7 313.0L1465.4 310.9L1466.1 312.3L1466.8 312.0L1467.5 312.8L1468.2 310.9L1468.9 311.6L1469.6 311.9L1470.3 311.1L1471.0 312.3L1471.7 312.8L1472.4 312.9L1473.1 311.2L1473.8 312.0L1474.5 313.1L1475.2 311.1L1475.9 312.5L1476.6 311.5L1477.3 312.9L1478.0 312.3L1478.7 312.9L1479.4 311.0L1480.1 312.3L1480.8 311.9L1481.5 311.2L1482.2 311.8L1482.9 312.6L1483.6 312.2L1484.3 312.3L1485.0 311.6L1485.7 312.1L1486.4 312.0L1487.1 313.0L1487.8 312.9L1488.5 311.9L1489.2 312.1L1489.9 311.6L1490.6 312.2L1491.3 311.3L1492.0 313.1L1492.7 311.9L1493.4 311.0L1494.1 311.7L1494.8 313.1L1495.5 311.7L1496.2 311.9L1496.9 313.2L1497.6 312.8L1498.3 311.9L1499.0 311.4L1499.7 311.9L1500.4 311.9L1501.1 313.0L1501.8 312.3L1502.5 313.1L1503.2 313.3L1503.9 313.0L1504.6 312.0L1505.3 312.0L1506.0 312.3L1506.7 312.6L1507.4 313.0L1508.1 312.9L1508.8 311.8L1509.5 312.8L1510.2 312.0L1510.9 312.9L1511.6 311.2L1512.3 313.1L1513.0 312.7L1513.7 311.5L1514.4 311.8L1515.1 311.9L1515.8 312.4L1516.5 313.2L1517.2 313.4L1517.9 312.6L1518.6 311.5L1519.3 313.4L1520.0 313.4L1520.7 311.5L1521.4 312.8L1522.1 312.8L1522.8 312.8L1523.5 312.9L1524.2 311.3L1524.9 312.0" fill="none" stroke="#DD0806" stroke-width="9.5" stroke-linejoin="round" stroke-linecap="butt"/>
<path d="M289.4 300.0L290.1 299.5L290.8 298.9L291.5 298.3L292.2 297.5L292.9 296.7L293.6 295.7L294.3 294.6L295.0 293.4L295.7 291.9L296.4 290.2L297.1 288.2L297.8 285.8L298.5 282.9L299.2 279.4L299.9 275.2L300.6 270.0L301.3 263.6L302.0 255.7L302.7 245.8L303.4 233.5L304.1 218.4L304.8 200.5L305.5 180.8L306.2 161.5L306.9 146.8L307.6 141.2L308.3 146.8L309.0 161.5L309.7 180.9L310.4 200.7L311.1 218.5L311.8 233.6L312.5 246.0L313.2 255.9L313.9 263.9L314.6 270.3L315.3 275.5L316.0 279.8L316.7 283.3L317.4 286.2L318.1 288.6L318.8 290.7L319.5 292.4L320.2 293.9L320.9 295.2L321.6 296.4L322.3 297.3L323.0 298.2L323.7 299.0L324.4 299.7L325.1 300.3L325.8 300.8M514.8 303.6L515.5 302.8L516.2 302.0L516.9 301.2L517.6 300.4L518.3 299.7L519.3 299.3L519.7 299.3L520.4 299.6L521.1 300.2L521.8 300.9L522.5 301.6L523.2 302.3L523.9 302.9M535.1 302.8L535.8 302.3L536.5 301.7L537.2 301.0L537.9 300.2L538.6 299.4L539.3 298.4L540.0 297.4L540.7 296.3L541.4 295.2L542.1 294.1L542.8 293.2L543.5 292.4L544.2 291.8L545.0 291.6L545.6 291.7L546.3 292.1L547.0 292.8L547.7 293.7L548.4 294.7L549.1 295.8L549.8 296.9L550.5 297.9L551.2 298.8L551.9 299.7L552.6 300.4L553.3 301.1L554.0 301.7L554.7 302.3M594.6 295.3L595.3 294.6L596.0 293.8L596.7 292.9L597.4 291.8L598.1 290.7L598.8 289.3L599.5 287.7L600.2 285.7L600.9 283.4L601.6 280.5L602.3 277.0L603.0 272.6L603.7 266.9L604.4 259.8L605.1 250.8L605.8 239.8L606.5 227.0L607.2 213.9L607.9 203.5L608.6 199.4L609.3 203.5L610.0 213.9L610.7 227.0L611.4 239.8L612.1 250.8L612.8 259.8L613.5 266.9L614.2 272.5L614.9 276.9L615.6 280.4L616.3 283.2L617.0 285.5L617.7 287.4L618.4 288.9L619.1 290.2L619.8 291.3L620.5 292.2L621.2 292.9L621.9 293.5L622.6 294.0L623.3 294.3M624.7 294.6L625.4 294.6L626.1 294.5L626.8 294.2L627.5 293.9L628.2 293.4L628.9 292.9L629.6 292.4L630.3 292.1L631.3 292.2L631.7 292.4L632.4 293.2L633.1 294.1L633.8 295.3L634.5 296.5L635.2 297.6L635.9 298.7L636.6 299.6L637.3 300.5M733.2 296.7L733.9 295.9L734.6 295.1L735.3 294.2L736.0 293.3L736.7 292.3L737.4 291.1L738.1 289.8L738.8 288.4L739.5 287.0L740.2 285.3L740.9 283.4L741.6 281.2L742.3 278.7L743.0 275.6L743.7 272.2L744.4 268.2L745.1 264.0L745.8 259.8L746.5 256.0L747.2 253.0L748.3 251.3L749.3 258.5L750.0 268.1L750.7 277.3L751.4 284.7L752.1 290.3L752.8 294.5L753.5 297.7L754.2 300.0L754.9 301.8L755.6 303.3L756.3 304.4L757.0 305.3L757.7 306.0M980.3 299.9L981.0 299.1L981.7 298.1L982.4 297.0L983.1 295.8L983.8 294.5L984.5 292.9L985.2 291.2L985.9 289.4L986.6 287.6L987.3 286.0L988.0 284.9L988.8 284.5L989.4 284.8L990.1 285.9L990.8 287.5L991.5 289.4L992.2 291.3L992.9 293.1L993.6 294.8L994.3 296.2L995.0 297.5L995.7 298.6L996.4 299.5L997.1 300.3L997.8 301.0M1007.6 302.0L1008.3 301.4L1009.0 300.7L1009.7 299.8L1010.4 298.8L1011.1 297.8L1011.8 296.7L1012.5 295.8L1013.2 295.1L1014.0 294.9L1014.6 295.1L1015.3 295.8L1016.0 296.8L1016.7 298.0L1017.4 299.2L1018.1 300.4L1018.8 301.4L1019.5 302.4L1020.2 303.1M1069.9 297.5L1070.6 296.8L1071.3 296.1L1072.0 295.3L1072.7 294.4L1073.4 293.5L1074.1 292.5L1074.8 291.6L1075.5 290.7L1076.2 289.9L1076.9 289.2L1077.6 288.8L1078.4 288.7L1079.0 288.8L1079.7 289.2L1080.4 289.9L1081.1 290.7L1081.8 291.6L1082.5 292.5L1083.2 293.4L1083.9 294.1L1084.6 294.8L1085.3 295.3L1086.0 295.6L1086.7 295.8L1087.4 295.7L1088.1 295.5L1088.8 295.1L1089.5 294.6L1090.2 294.0L1090.9 293.5L1091.6 293.1L1092.6 293.1L1093.0 293.4L1093.7 294.2L1094.4 295.3L1095.1 296.6L1095.8 297.9L1096.5 299.1L1097.2 300.3L1097.9 301.3L1098.6 302.2L1099.3 303.0" fill="none" stroke="#DD0806" stroke-width="9.5" stroke-linejoin="miter" stroke-miterlimit="1.42" stroke-linecap="butt"/>
</g>
<g id="axes" fill="#000" shape-rendering="crispEdges">
<path d="M162 30H1530V1415H162ZM170 39V1407H1521V39Z" fill-rule="evenodd"/>
<rect x="195.15" y="34.4" width="8.7" height="15.4"/><rect x="195.15" y="1395.0" width="8.7" height="15.7"/><rect x="229.15" y="34.4" width="8.7" height="15.4"/><rect x="229.15" y="1395.0" width="8.7" height="15.7"/><rect x="263.15" y="34.4" width="8.7" height="15.4"/><rect x="263.15" y="1395.0" width="8.7" height="15.7"/><rect x="297.15" y="34.4" width="8.7" height="15.4"/><rect x="297.15" y="1395.0" width="8.7" height="15.7"/><rect x="331.15" y="34.4" width="8.7" height="27.5"/><rect x="331.15" y="1384.0" width="8.7" height="26.7"/><rect x="365.15" y="34.4" width="8.7" height="15.4"/><rect x="365.15" y="1395.0" width="8.7" height="15.7"/><rect x="399.15" y="34.4" width="8.7" height="15.4"/><rect x="399.15" y="1395.0" width="8.7" height="15.7"/><rect x="433.15" y="34.4" width="8.7" height="15.4"/><rect x="433.15" y="1395.0" width="8.7" height="15.7"/><rect x="467.15" y="34.4" width="8.7" height="15.4"/><rect x="467.15" y="1395.0" width="8.7" height="15.7"/><rect x="501.15" y="34.4" width="8.7" height="27.5"/><rect x="501.15" y="1384.0" width="8.7" height="26.7"/><rect x="535.15" y="34.4" width="8.7" height="15.4"/><rect x="535.15" y="1395.0" width="8.7" height="15.7"/><rect x="569.15" y="34.4" width="8.7" height="15.4"/><rect x="569.15" y="1395.0" width="8.7" height="15.7"/><rect x="603.15" y="34.4" width="8.7" height="15.4"/><rect x="603.15" y="1395.0" width="8.7" height="15.7"/><rect x="637.15" y="34.4" width="8.7" height="15.4"/><rect x="637.15" y="1395.0" width="8.7" height="15.7"/><rect x="671.15" y="34.4" width="8.7" height="27.5"/><rect x="671.15" y="1384.0" width="8.7" height="26.7"/><rect x="705.15" y="34.4" width="8.7" height="15.4"/><rect x="705.15" y="1395.0" width="8.7" height="15.7"/><rect x="739.15" y="34.4" width="8.7" height="15.4"/><rect x="739.15" y="1395.0" width="8.7" height="15.7"/><rect x="773.15" y="34.4" width="8.7" height="15.4"/><rect x="773.15" y="1395.0" width="8.7" height="15.7"/><rect x="807.15" y="34.4" width="8.7" height="15.4"/><rect x="807.15" y="1395.0" width="8.7" height="15.7"/><rect x="841.15" y="34.4" width="8.7" height="27.5"/><rect x="841.15" y="1384.0" width="8.7" height="26.7"/><rect x="875.15" y="34.4" width="8.7" height="15.4"/><rect x="875.15" y="1395.0" width="8.7" height="15.7"/><rect x="909.15" y="34.4" width="8.7" height="15.4"/><rect x="909.15" y="1395.0" width="8.7" height="15.7"/><rect x="943.15" y="34.4" width="8.7" height="15.4"/><rect x="943.15" y="1395.0" width="8.7" height="15.7"/><rect x="977.15" y="34.4" width="8.7" height="15.4"/><rect x="977.15" y="1395.0" width="8.7" height="15.7"/><rect x="1011.15" y="34.4" width="8.7" height="27.5"/><rect x="1011.15" y="1384.0" width="8.7" height="26.7"/><rect x="1045.15" y="34.4" width="8.7" height="15.4"/><rect x="1045.15" y="1395.0" width="8.7" height="15.7"/><rect x="1079.15" y="34.4" width="8.7" height="15.4"/><rect x="1079.15" y="1395.0" width="8.7" height="15.7"/><rect x="1113.15" y="34.4" width="8.7" height="15.4"/><rect x="1113.15" y="1395.0" width="8.7" height="15.7"/><rect x="1147.15" y="34.4" width="8.7" height="15.4"/><rect x="1147.15" y="1395.0" width="8.7" height="15.7"/><rect x="1181.15" y="34.4" width="8.7" height="27.5"/><rect x="1181.15" y="1384.0" width="8.7" height="26.7"/><rect x="1215.15" y="34.4" width="8.7" height="15.4"/><rect x="1215.15" y="1395.0" width="8.7" height="15.7"/><rect x="1249.15" y="34.4" width="8.7" height="15.4"/><rect x="1249.15" y="1395.0" width="8.7" height="15.7"/><rect x="1283.15" y="34.4" width="8.7" height="15.4"/><rect x="1283.15" y="1395.0" width="8.7" height="15.7"/><rect x="1317.15" y="34.4" width="8.7" height="15.4"/><rect x="1317.15" y="1395.0" width="8.7" height="15.7"/><rect x="1351.15" y="34.4" width="8.7" height="27.5"/><rect x="1351.15" y="1384.0" width="8.7" height="26.7"/><rect x="1385.15" y="34.4" width="8.7" height="15.4"/><rect x="1385.15" y="1395.0" width="8.7" height="15.7"/><rect x="1419.15" y="34.4" width="8.7" height="15.4"/><rect x="1419.15" y="1395.0" width="8.7" height="15.7"/><rect x="1453.15" y="34.4" width="8.7" height="15.4"/><rect x="1453.15" y="1395.0" width="8.7" height="15.7"/><rect x="1487.15" y="34.4" width="8.7" height="15.4"/><rect x="1487.15" y="1395.0" width="8.7" height="15.7"/>
</g>
<g id="markers" shape-rendering="crispEdges">
<circle cx="306.2" cy="102.8" r="23.2" fill="#DD0806"/>
<circle cx="604.0" cy="148.1" r="23.2" fill="#DD0806"/>
<circle cx="751.3" cy="201.1" r="23.2" fill="#DD0806"/>
<circle cx="989.0" cy="257.7" r="23.2" fill="#DD0806"/>
<circle cx="1087.3" cy="262.0" r="23.2" fill="#DD0806"/>
<rect x="493.9" y="258.0" width="30.7" height="30.7" fill="none" stroke="#DD0806" stroke-width="6.3"/>
<rect x="536.2" y="246.2" width="30.7" height="30.7" fill="none" stroke="#DD0806" stroke-width="6.3"/>
<circle cx="306.2" cy="349.1" r="23.2" fill="#006411"/>
<circle cx="562.5" cy="379.3" r="23.2" fill="#006411"/>
<circle cx="612.0" cy="368.0" r="23.2" fill="#006411"/>
<circle cx="812.2" cy="477.1" r="23.2" fill="#006411"/>
<circle cx="929.1" cy="402.1" r="23.2" fill="#006411"/>
<circle cx="1068.5" cy="432.1" r="23.2" fill="#006411"/>
<circle cx="1110.3" cy="462.1" r="23.2" fill="#006411"/>
<circle cx="1151.9" cy="481.0" r="23.2" fill="#006411"/>
<rect x="400.1" y="405.0" width="30.7" height="30.7" fill="none" stroke="#006411" stroke-width="6.3"/>
<rect x="687.4" y="443.3" width="30.7" height="30.7" fill="none" stroke="#006411" stroke-width="6.3"/>
<rect x="728.4" y="386.2" width="30.7" height="30.7" fill="none" stroke="#006411" stroke-width="6.3"/>
<rect x="841.6" y="443.1" width="30.7" height="30.7" fill="none" stroke="#006411" stroke-width="6.3"/>
<circle cx="313.4" cy="560.4" r="23.2" fill="#0000D4"/>
<circle cx="763.0" cy="609.7" r="23.2" fill="#0000D4"/>
<circle cx="1008.3" cy="665.9" r="23.2" fill="#0000D4"/>
<rect x="509.0" y="643.8" width="30.7" height="30.7" fill="none" stroke="#0000D4" stroke-width="6.3"/>
<rect x="607.6" y="583.1" width="30.7" height="30.7" fill="none" stroke="#0000D4" stroke-width="6.3"/>
<rect x="992.6" y="602.2" width="30.7" height="30.7" fill="none" stroke="#0000D4" stroke-width="6.3"/>
<rect x="1091.4" y="632.2" width="30.7" height="30.7" fill="none" stroke="#0000D4" stroke-width="6.3"/>
<path d="M727.3 636.8L734.7 636.8L755.2 665.8L755.2 673.8L706.8 673.8L706.8 665.8ZM731.0 650.0L743.4 667.2L718.6 667.2Z" fill="#0000D4" fill-rule="evenodd"/>
<rect x="339.8" y="1321.4" width="30.7" height="30.7" fill="none" stroke="#000000" stroke-width="6.3"/>
<rect x="497.9" y="1332.0" width="30.7" height="30.7" fill="none" stroke="#000000" stroke-width="6.3"/>
<rect x="543.4" y="1313.2" width="30.7" height="30.7" fill="none" stroke="#000000" stroke-width="6.3"/>
<path d="M625.2 970.2L632.6 970.2L653.1 999.2L653.1 1007.2L604.7 1007.2L604.7 999.2ZM628.9 983.4L641.3 1000.6L616.5 1000.6Z" fill="#000000" fill-rule="evenodd"/>
<path d="M727.2 727.0L734.6 727.0L755.1 756.0L755.1 764.0L706.7 764.0L706.7 756.0ZM730.9 740.2L743.3 757.4L718.5 757.4Z" fill="#000000" fill-rule="evenodd"/>
<path d="M1066.4 1112.9L1073.8 1112.9L1094.3 1141.9L1094.3 1149.9L1045.9 1149.9L1045.9 1141.9ZM1070.1 1126.1L1082.5 1143.3L1057.7 1143.3Z" fill="#000000" fill-rule="evenodd"/>
<path d="M1274.3 1271.8L1281.7 1271.8L1302.2 1300.8L1302.2 1308.8L1253.8 1308.8L1253.8 1300.8ZM1278.0 1285.0L1290.4 1302.2L1265.6 1302.2Z" fill="#000000" fill-rule="evenodd"/>
<path d="M1361.5 1302.8L1368.9 1302.8L1389.4 1331.8L1389.4 1339.8L1341.0 1339.8L1341.0 1331.8ZM1365.2 1316.0L1377.6 1333.2L1352.8 1333.2Z" fill="#000000" fill-rule="evenodd"/>
<circle cx="1570.6" cy="99.0" r="23.2" fill="#DD0806"/>
<rect x="1551.1" y="212.5" width="30.7" height="30.7" fill="none" stroke="#DD0806" stroke-width="6.3"/>
<circle cx="1570.6" cy="367.9" r="23.2" fill="#006411"/>
<rect x="1551.1" y="466.3" width="30.7" height="30.7" fill="none" stroke="#006411" stroke-width="6.3"/>
<circle cx="1570.6" cy="620.9" r="23.2" fill="#0000D4"/>
<path d="M1565.3 735.5L1572.7 735.5L1593.2 764.5L1593.2 772.5L1544.8 772.5L1544.8 764.5ZM1569.0 748.7L1581.4 765.9L1556.6 765.9Z" fill="#0000D4" fill-rule="evenodd"/>
<rect x="1551.1" y="874.2" width="30.7" height="30.7" fill="none" stroke="#0000D4" stroke-width="6.3"/>
<path d="M1565.3 1038.6L1572.7 1038.6L1593.2 1067.6L1593.2 1075.6L1544.8 1075.6L1544.8 1067.6ZM1569.0 1051.8L1581.4 1069.0L1556.6 1069.0Z" fill="#000000" fill-rule="evenodd"/>
<rect x="1551.1" y="1237.9" width="30.7" height="30.7" fill="none" stroke="#000000" stroke-width="6.3"/>
</g>
<g id="labels" font-family="'Liberation Sans', Arial, Helvetica, sans-serif" fill="#000">
<text transform="translate(165.8 1509.3) scale(1 1.022)" font-size="91.5" fill="#000" text-anchor="middle">10</text>
<text transform="translate(335.8 1509.3) scale(1 1.022)" font-size="91.5" fill="#000" text-anchor="middle">20</text>
<text transform="translate(505.8 1509.3) scale(1 1.022)" font-size="91.5" fill="#000" text-anchor="middle">30</text>
<text transform="translate(675.8 1509.3) scale(1 1.022)" font-size="91.5" fill="#000" text-anchor="middle">40</text>
<text transform="translate(845.8 1509.3) scale(1 1.022)" font-size="91.5" fill="#000" text-anchor="middle">50</text>
<text transform="translate(1015.8 1509.3) scale(1 1.022)" font-size="91.5" fill="#000" text-anchor="middle">60</text>
<text transform="translate(1185.8 1509.3) scale(1 1.022)" font-size="91.5" fill="#000" text-anchor="middle">70</text>
<text transform="translate(1355.8 1509.3) scale(1 1.022)" font-size="91.5" fill="#000" text-anchor="middle">80</text>
<text transform="translate(1525.8 1509.3) scale(1 1.022)" font-size="91.5" fill="#000" text-anchor="middle">90</text>
<text transform="translate(610.3 1625.5) scale(1 1.022)" font-size="90.5" fill="#000" text-anchor="start">2</text>
<text transform="translate(660.6 1625.5) scale(1.07 0.975)" font-size="90.5" fill="#000" text-anchor="start"><tspan font-family="'Liberation Serif', 'DejaVu Serif', serif">θ</tspan></text>
<text transform="translate(708.7 1625.5) scale(1 1.022)" font-size="90.7" fill="#000" text-anchor="start"> [Degree]</text>
<text transform="translate(94.5 1012.8) rotate(-90) scale(1 1.022)" font-size="90.7" fill="#000" text-anchor="start">Intensity [a.u.]</text>
<text transform="translate(1306.3 272.9) scale(1 1.022)" font-size="76" fill="#DD0806" text-anchor="start">Li-Mn</text>
<text transform="translate(1306.3 477.1) scale(1 1.022)" font-size="76" fill="#006411" text-anchor="start">Li-Cr</text>
<text transform="translate(1306.3 677.7) scale(1 1.022)" font-size="76" fill="#0000D4" text-anchor="start">Li-Co</text>
<text transform="translate(1306.3 1256.7) scale(1 1.022)" font-size="76" fill="#000000" text-anchor="start">Li-Ni</text>
<text transform="translate(1653.5 128.9) scale(1 1.022)" font-size="76" fill="#DD0806" text-anchor="start"><tspan dy="0">LiMn</tspan><tspan font-size="52" dy="32.6">2</tspan><tspan dy="-32.6">O</tspan><tspan font-size="52" dy="32.6">4</tspan></text>
<text transform="translate(1653.5 254.4) scale(1 1.022)" font-size="76" fill="#DD0806" text-anchor="start"><tspan dy="0">Mn</tspan><tspan font-size="52" dy="32.6">3</tspan><tspan dy="-32.6">O</tspan><tspan font-size="52" dy="32.6">4</tspan></text>
<text transform="translate(1653.5 398.3) scale(1 1.022)" font-size="76" fill="#006411" text-anchor="start"><tspan dy="0">LiCrO</tspan><tspan font-size="52" dy="32.6">2</tspan></text>
<text transform="translate(1653.5 518.8) scale(1 1.022)" font-size="76" fill="#006411" text-anchor="start"><tspan dy="0">Cr</tspan><tspan font-size="52" dy="32.6">2</tspan><tspan dy="-32.6">O</tspan><tspan font-size="52" dy="32.6">3</tspan></text>
<text transform="translate(1653.5 659.3) scale(1 1.022)" font-size="76" fill="#0000D4" text-anchor="start"><tspan dy="0">LiCoO</tspan><tspan font-size="52" dy="32.6">2</tspan></text>
<text transform="translate(1653.5 769.0) scale(1 1.022)" font-size="76" fill="#0000D4" text-anchor="start"><tspan dy="0">Li</tspan><tspan font-size="52" dy="32.6">0.21</tspan><tspan dy="-32.6">Co</tspan><tspan font-size="52" dy="32.6">0.79</tspan><tspan dy="-32.6">O</tspan></text>
<text transform="translate(1653.5 911.0) scale(1 1.022)" font-size="76" fill="#0000D4" text-anchor="start"><tspan dy="0">Co</tspan><tspan font-size="52" dy="32.6">3</tspan><tspan dy="-32.6">O</tspan><tspan font-size="52" dy="32.6">4</tspan></text>
<text transform="translate(1653.5 1094.0) scale(1 1.022)" font-size="76" fill="#000000" text-anchor="start"><tspan dy="0">Li</tspan><tspan font-size="52" dy="32.6">0.4</tspan><tspan dy="-32.6">Ni</tspan><tspan font-size="52" dy="32.6">1.6</tspan><tspan dy="-32.6">O</tspan><tspan font-size="52" dy="32.6">2</tspan></text>
<text transform="translate(1653.5 1283.7) scale(1 1.022)" font-size="76" fill="#000000" text-anchor="start"><tspan dy="0">Li</tspan><tspan font-size="52" dy="32.6">2</tspan><tspan dy="-32.6">CO</tspan><tspan font-size="52" dy="32.6">3</tspan></text>
</g>
</svg>
</body>
</html>
